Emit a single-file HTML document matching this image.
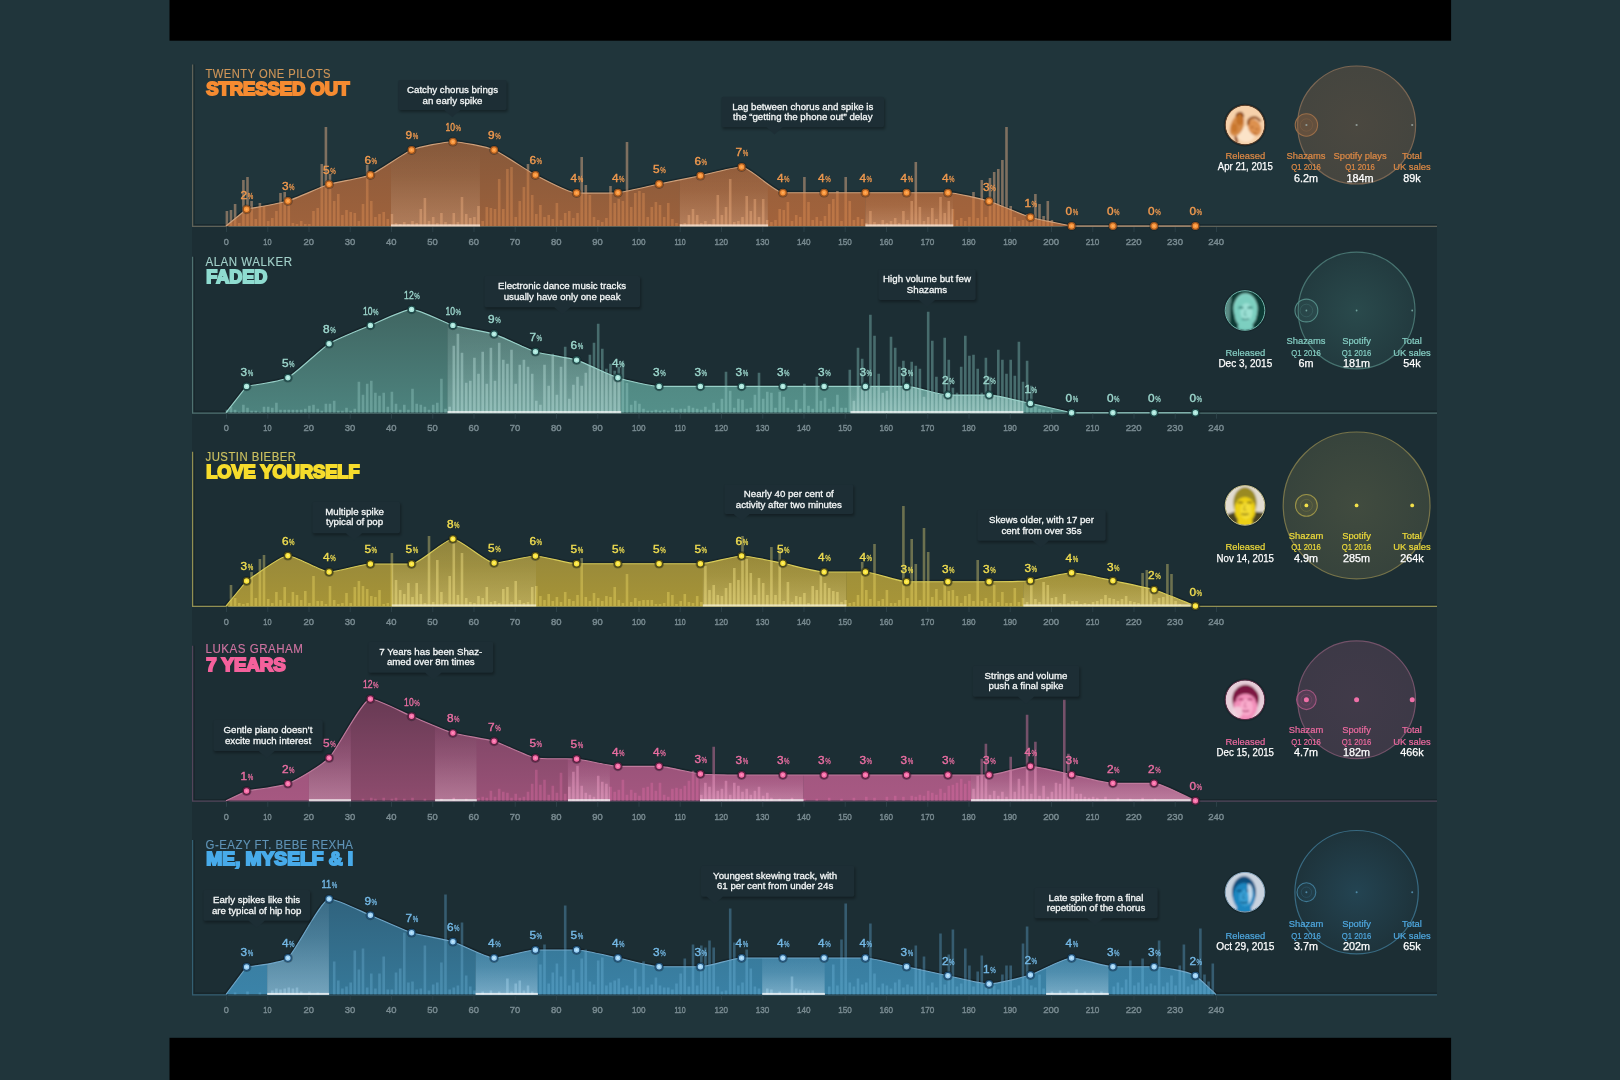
<!DOCTYPE html>
<html lang="en"><head><meta charset="utf-8"><title>Shazam: anatomy of a hit</title>
<style>
html,body{margin:0;padding:0;background:#20353b;}
body{width:1620px;height:1080px;overflow:hidden;font-family:"Liberation Sans",Arial,sans-serif;}
svg{display:block;}
</style></head><body>
<svg width="1620" height="1080" viewBox="0 0 1620 1080" opacity="0.999" font-family="'Liberation Sans', Arial, sans-serif">
<defs>
<linearGradient id="ag0" x1="0" y1="0" x2="0" y2="1"><stop offset="0" stop-color="rgb(127,85,58)"/><stop offset="1" stop-color="rgb(152,96,60)"/></linearGradient>
<linearGradient id="hg0" x1="0" y1="0" x2="0" y2="1"><stop offset="0" stop-color="rgb(255,228,205)" stop-opacity="0.0"/><stop offset="0.35" stop-color="rgb(255,228,205)" stop-opacity="0.05"/><stop offset="1" stop-color="rgb(255,228,205)" stop-opacity="0.21"/></linearGradient>
<radialGradient id="cg0"><stop offset="0" stop-color="rgb(150,105,72)" stop-opacity="0.36"/><stop offset="1" stop-color="rgb(150,105,72)" stop-opacity="0.31"/></radialGradient>
<linearGradient id="ag1" x1="0" y1="0" x2="0" y2="1"><stop offset="0" stop-color="rgb(64,102,98)"/><stop offset="1" stop-color="rgb(77,131,126)"/></linearGradient>
<linearGradient id="hg1" x1="0" y1="0" x2="0" y2="1"><stop offset="0" stop-color="rgb(235,255,250)" stop-opacity="0.1"/><stop offset="0.35" stop-color="rgb(235,255,250)" stop-opacity="0.14"/><stop offset="1" stop-color="rgb(235,255,250)" stop-opacity="0.24"/></linearGradient>
<radialGradient id="cg1"><stop offset="0" stop-color="rgb(70,130,125)" stop-opacity="0.33"/><stop offset="1" stop-color="rgb(70,130,125)" stop-opacity="0.15"/></radialGradient>
<linearGradient id="ag2" x1="0" y1="0" x2="0" y2="1"><stop offset="0" stop-color="rgb(128,119,62)"/><stop offset="1" stop-color="rgb(164,146,54)"/></linearGradient>
<linearGradient id="hg2" x1="0" y1="0" x2="0" y2="1"><stop offset="0" stop-color="rgb(255,250,215)" stop-opacity="0.0"/><stop offset="0.35" stop-color="rgb(255,250,215)" stop-opacity="0.05"/><stop offset="1" stop-color="rgb(255,250,215)" stop-opacity="0.2"/></linearGradient>
<radialGradient id="cg2"><stop offset="0" stop-color="rgb(140,135,85)" stop-opacity="0.33"/><stop offset="1" stop-color="rgb(140,135,85)" stop-opacity="0.24"/></radialGradient>
<linearGradient id="ag3" x1="0" y1="0" x2="0" y2="1"><stop offset="0" stop-color="rgb(104,58,84)"/><stop offset="1" stop-color="rgb(142,76,110)"/></linearGradient>
<linearGradient id="hg3" x1="0" y1="0" x2="0" y2="1"><stop offset="0" stop-color="rgb(255,225,240)" stop-opacity="0.0"/><stop offset="0.35" stop-color="rgb(255,225,240)" stop-opacity="0.08"/><stop offset="1" stop-color="rgb(255,225,240)" stop-opacity="0.27"/></linearGradient>
<radialGradient id="cg3"><stop offset="0" stop-color="rgb(130,80,110)" stop-opacity="0.36"/><stop offset="1" stop-color="rgb(130,80,110)" stop-opacity="0.32"/></radialGradient>
<linearGradient id="ag4" x1="0" y1="0" x2="0" y2="1"><stop offset="0" stop-color="rgb(48,98,125)"/><stop offset="1" stop-color="rgb(54,120,152)"/></linearGradient>
<linearGradient id="hg4" x1="0" y1="0" x2="0" y2="1"><stop offset="0" stop-color="rgb(225,240,252)" stop-opacity="0.05"/><stop offset="0.35" stop-color="rgb(225,240,252)" stop-opacity="0.13"/><stop offset="1" stop-color="rgb(225,240,252)" stop-opacity="0.36"/></linearGradient>
<radialGradient id="cg4"><stop offset="0" stop-color="rgb(50,110,140)" stop-opacity="0.34"/><stop offset="1" stop-color="rgb(50,110,140)" stop-opacity="0.08"/></radialGradient>
<filter id="bl" x="-20%" y="-20%" width="140%" height="140%"><feGaussianBlur stdDeviation="0.9"/></filter>
<filter id="sh" x="-10%" y="-20%" width="120%" height="150%"><feGaussianBlur stdDeviation="1.5"/></filter>
</defs>
<rect width="1620" height="1080" fill="#20353b"/>
<rect x="192" y="226" width="1245" height="769" fill="#1c2e34"/>
<rect x="169.5" y="0" width="1281.6" height="40.7" fill="#000"/>
<rect x="169.5" y="1037.8" width="1281.6" height="43" fill="#000"/>
<g id="row0">
<clipPath id="cp0"><path d="M226,226L246.6,209.3C254.2,207.8 280.3,203.3 287.9,201C295.4,198.7 321.6,186.7 329.1,184.3C336.7,181.9 362.8,178.1 370.4,175C377.9,171.9 404.1,153.1 411.6,150C419.2,146.9 445.3,141.7 452.9,141.7C460.4,141.7 486.6,146.9 494.1,150C501.7,153.1 527.8,171.1 535.4,175C542.9,178.9 569.1,193 576.6,193C584.2,193 610.3,193.5 617.9,192.7C625.4,191.9 651.6,185.6 659.1,184C666.7,182.4 692.8,177.3 700.4,175.7C707.9,174.1 734.1,167 741.6,167C749.2,167 775.3,192.7 782.9,192.7C790.4,192.7 816.6,192.7 824.1,192.7C831.7,192.7 857.8,192.7 865.4,192.7C872.9,192.7 899.1,192.7 906.6,192.7C914.2,192.7 940.3,192.7 947.9,192.7C955.4,192.7 981.6,199 989.1,201.3C996.7,203.6 1022.8,215 1030.4,217.3C1037.9,219.6 1064.1,224.4 1071.6,226L1071.6,226Z"/></clipPath>
<path d="M194,64.4V224.8H1437" stroke="#111d22" stroke-opacity="0.5" stroke-width="1.4" fill="none"/>
<path d="M192.6,64.4V226.3H1437" stroke="#5f6258" stroke-width="1.25" fill="none"/>
<path d="M226,226L246.6,209.3C254.2,207.8 280.3,203.3 287.9,201C295.4,198.7 321.6,186.7 329.1,184.3C336.7,181.9 362.8,178.1 370.4,175C377.9,171.9 404.1,153.1 411.6,150C419.2,146.9 445.3,141.7 452.9,141.7C460.4,141.7 486.6,146.9 494.1,150C501.7,153.1 527.8,171.1 535.4,175C542.9,178.9 569.1,193 576.6,193C584.2,193 610.3,193.5 617.9,192.7C625.4,191.9 651.6,185.6 659.1,184C666.7,182.4 692.8,177.3 700.4,175.7C707.9,174.1 734.1,167 741.6,167C749.2,167 775.3,192.7 782.9,192.7C790.4,192.7 816.6,192.7 824.1,192.7C831.7,192.7 857.8,192.7 865.4,192.7C872.9,192.7 899.1,192.7 906.6,192.7C914.2,192.7 940.3,192.7 947.9,192.7C955.4,192.7 981.6,199 989.1,201.3C996.7,203.6 1022.8,215 1030.4,217.3C1037.9,219.6 1064.1,224.4 1071.6,226" fill="none" stroke="#101c21" stroke-opacity="0.55" stroke-width="4" stroke-linejoin="round"/>
<path d="M226,226L246.6,209.3C254.2,207.8 280.3,203.3 287.9,201C295.4,198.7 321.6,186.7 329.1,184.3C336.7,181.9 362.8,178.1 370.4,175C377.9,171.9 404.1,153.1 411.6,150C419.2,146.9 445.3,141.7 452.9,141.7C460.4,141.7 486.6,146.9 494.1,150C501.7,153.1 527.8,171.1 535.4,175C542.9,178.9 569.1,193 576.6,193C584.2,193 610.3,193.5 617.9,192.7C625.4,191.9 651.6,185.6 659.1,184C666.7,182.4 692.8,177.3 700.4,175.7C707.9,174.1 734.1,167 741.6,167C749.2,167 775.3,192.7 782.9,192.7C790.4,192.7 816.6,192.7 824.1,192.7C831.7,192.7 857.8,192.7 865.4,192.7C872.9,192.7 899.1,192.7 906.6,192.7C914.2,192.7 940.3,192.7 947.9,192.7C955.4,192.7 981.6,199 989.1,201.3C996.7,203.6 1022.8,215 1030.4,217.3C1037.9,219.6 1064.1,224.4 1071.6,226L1071.6,226Z" fill="#20353b"/>
<linearGradient id="sg0_0" gradientUnits="userSpaceOnUse" x1="0" y1="162" x2="0" y2="226"><stop offset="0" stop-color="rgb(144,92,59)"/><stop offset="1" stop-color="rgb(158,98,60)"/></linearGradient>
<rect x="225.8" y="161" width="165.4" height="65" fill="url(#sg0_0)" clip-path="url(#cp0)"/>
<linearGradient id="sg0_1" gradientUnits="userSpaceOnUse" x1="0" y1="141.2" x2="0" y2="226"><stop offset="0" stop-color="rgb(133,88,58)"/><stop offset="1" stop-color="rgb(154,97,60)"/></linearGradient>
<rect x="390.8" y="140.2" width="89.5" height="85.8" fill="url(#sg0_1)" clip-path="url(#cp0)"/>
<linearGradient id="sh0_1" gradientUnits="userSpaceOnUse" x1="0" y1="141.2" x2="0" y2="226"><stop offset="0" stop-color="rgb(255,228,205)" stop-opacity="0.0"/><stop offset="0.4" stop-color="rgb(255,228,205)" stop-opacity="0.05"/><stop offset="1" stop-color="rgb(255,228,205)" stop-opacity="0.21"/></linearGradient>
<rect x="391" y="140.2" width="89.1" height="85.8" fill="url(#sh0_1)" clip-path="url(#cp0)"/>
<linearGradient id="sg0_2" gradientUnits="userSpaceOnUse" x1="0" y1="146.7" x2="0" y2="226"><stop offset="0" stop-color="rgb(136,89,58)"/><stop offset="1" stop-color="rgb(155,97,60)"/></linearGradient>
<rect x="479.9" y="145.7" width="200" height="80.3" fill="url(#sg0_2)" clip-path="url(#cp0)"/>
<linearGradient id="sg0_3" gradientUnits="userSpaceOnUse" x1="0" y1="166.5" x2="0" y2="226"><stop offset="0" stop-color="rgb(146,93,59)"/><stop offset="1" stop-color="rgb(159,98,60)"/></linearGradient>
<rect x="679.5" y="165.5" width="88.7" height="60.5" fill="url(#sg0_3)" clip-path="url(#cp0)"/>
<linearGradient id="sh0_3" gradientUnits="userSpaceOnUse" x1="0" y1="166.5" x2="0" y2="226"><stop offset="0" stop-color="rgb(255,228,205)" stop-opacity="0.0"/><stop offset="0.4" stop-color="rgb(255,228,205)" stop-opacity="0.05"/><stop offset="1" stop-color="rgb(255,228,205)" stop-opacity="0.21"/></linearGradient>
<rect x="679.8" y="165.5" width="88.3" height="60.5" fill="url(#sh0_3)" clip-path="url(#cp0)"/>
<linearGradient id="sg0_4" gradientUnits="userSpaceOnUse" x1="0" y1="182.9" x2="0" y2="226"><stop offset="0" stop-color="rgb(154,96,59)"/><stop offset="1" stop-color="rgb(162,99,60)"/></linearGradient>
<rect x="767.8" y="181.9" width="97.8" height="44.1" fill="url(#sg0_4)" clip-path="url(#cp0)"/>
<linearGradient id="sg0_5" gradientUnits="userSpaceOnUse" x1="0" y1="192.2" x2="0" y2="226"><stop offset="0" stop-color="rgb(158,98,60)"/><stop offset="1" stop-color="rgb(163,100,60)"/></linearGradient>
<rect x="865.2" y="191.2" width="88.3" height="34.8" fill="url(#sg0_5)" clip-path="url(#cp0)"/>
<linearGradient id="sh0_5" gradientUnits="userSpaceOnUse" x1="0" y1="192.2" x2="0" y2="226"><stop offset="0" stop-color="rgb(255,228,205)" stop-opacity="0.0"/><stop offset="0.4" stop-color="rgb(255,228,205)" stop-opacity="0.05"/><stop offset="1" stop-color="rgb(255,228,205)" stop-opacity="0.21"/></linearGradient>
<rect x="865.4" y="191.2" width="87.9" height="34.8" fill="url(#sh0_5)" clip-path="url(#cp0)"/>
<linearGradient id="sg0_6" gradientUnits="userSpaceOnUse" x1="0" y1="193.3" x2="0" y2="226"><stop offset="0" stop-color="rgb(159,98,60)"/><stop offset="1" stop-color="rgb(163,100,60)"/></linearGradient>
<rect x="953" y="192.3" width="118.8" height="33.7" fill="url(#sg0_6)" clip-path="url(#cp0)"/>
<clipPath id="co0"><path clip-rule="evenodd" d="M0,66H1620V228H0ZM226,226L246.6,209.3C254.2,207.8 280.3,203.3 287.9,201C295.4,198.7 321.6,186.7 329.1,184.3C336.7,181.9 362.8,178.1 370.4,175C377.9,171.9 404.1,153.1 411.6,150C419.2,146.9 445.3,141.7 452.9,141.7C460.4,141.7 486.6,146.9 494.1,150C501.7,153.1 527.8,171.1 535.4,175C542.9,178.9 569.1,193 576.6,193C584.2,193 610.3,193.5 617.9,192.7C625.4,191.9 651.6,185.6 659.1,184C666.7,182.4 692.8,177.3 700.4,175.7C707.9,174.1 734.1,167 741.6,167C749.2,167 775.3,192.7 782.9,192.7C790.4,192.7 816.6,192.7 824.1,192.7C831.7,192.7 857.8,192.7 865.4,192.7C872.9,192.7 899.1,192.7 906.6,192.7C914.2,192.7 940.3,192.7 947.9,192.7C955.4,192.7 981.6,199 989.1,201.3C996.7,203.6 1022.8,215 1030.4,217.3C1037.9,219.6 1064.1,224.4 1071.6,226L1071.6,226Z"/></clipPath>
<path d="M225.6,226v-15h2.6v15zM229.7,226v-16h2.6v16zM233.8,226v-22h2.6v22zM238,226v-3h2.6v3zM242.1,226v-46h2.6v46zM246.2,226v-49h2.6v49zM250.3,226v-25h2.6v25zM254.5,226v-7h2.6v7zM258.6,226v-23h2.6v23zM262.7,226v-20h2.6v20zM266.9,226v-5h2.6v5zM271,226v-8h2.6v8zM275.1,226v-15h2.6v15zM279.2,226v-33h2.6v33zM283.4,226v-34h2.6v34zM287.5,226v-25h2.6v25zM291.6,226v-3h2.6v3zM295.7,226v-2h2.6v2zM299.9,226v-5h2.6v5zM304,226v-2h2.6v2zM308.1,226v-2h2.6v2zM312.2,226v-15h2.6v15zM316.4,226v-18h2.6v18zM320.5,226v-62h2.6v62zM324.6,226v-99h2.6v99zM328.7,226v-52h2.6v52zM332.9,226v-25h2.6v25zM337,226v-32h2.6v32zM341.1,226v-11h2.6v11zM345.2,226v-16h2.6v16zM349.4,226v-14h2.6v14zM353.5,226v-13h2.6v13zM357.6,226v-5h2.6v5zM361.7,226v-22h2.6v22zM365.9,226v-61h2.6v61zM370,226v-25h2.6v25zM374.1,226v-9h2.6v9zM378.2,226v-12h2.6v12zM382.4,226v-14h2.6v14zM386.5,226v-7h2.6v7zM390.6,226v-12h2.6v12zM394.7,226v-3h2.6v3zM398.9,226v-2h2.6v2zM403,226v-4h2.6v4zM407.1,226v-2h2.6v2zM411.2,226v-5h2.6v5zM415.4,226v-3h2.6v3zM419.5,226v-17h2.6v17zM423.6,226v-28h2.6v28zM427.7,226v-5h2.6v5zM431.9,226v-9h2.6v9zM436,226v-3h2.6v3zM440.1,226v-13h2.6v13zM444.2,226v-4h2.6v4zM448.4,226v-2h2.6v2zM452.5,226v-13h2.6v13zM456.6,226v-4h2.6v4zM460.7,226v-29h2.6v29zM464.9,226v-12h2.6v12zM469,226v-8h2.6v8zM473.1,226v-9h2.6v9zM477.2,226v-20h2.6v20zM481.4,226v-5h2.6v5zM485.5,226v-19h2.6v19zM489.6,226v-18h2.6v18zM493.7,226v-17h2.6v17zM497.9,226v-47h2.6v47zM502,226v-17h2.6v17zM506.1,226v-57h2.6v57zM510.2,226v-59h2.6v59zM514.4,226v-9h2.6v9zM518.5,226v-25h2.6v25zM522.6,226v-39h2.6v39zM526.7,226v-62h2.6v62zM530.9,226v-31h2.6v31zM535,226v-12h2.6v12zM539.1,226v-21h2.6v21zM543.2,226v-9h2.6v9zM547.4,226v-11h2.6v11zM551.5,226v-7h2.6v7zM555.6,226v-23h2.6v23zM559.7,226v-6h2.6v6zM563.9,226v-13h2.6v13zM568,226v-15h2.6v15zM572.1,226v-8h2.6v8zM576.2,226v-13h2.6v13zM580.4,226v-69h2.6v69zM584.5,226v-41h2.6v41zM588.6,226v-31h2.6v31zM592.7,226v-9h2.6v9zM596.9,226v-6h2.6v6zM601,226v-4h2.6v4zM605.1,226v-8h2.6v8zM609.2,226v-40h2.6v40zM613.4,226v-23h2.6v23zM617.5,226v-27h2.6v27zM621.6,226v-25h2.6v25zM625.7,226v-84h2.6v84zM629.9,226v-19h2.6v19zM634,226v-33h2.6v33zM638.1,226v-35h2.6v35zM642.2,226v-33h2.6v33zM646.4,226v-9h2.6v9zM650.5,226v-19h2.6v19zM654.6,226v-24h2.6v24zM658.7,226v-21h2.6v21zM662.9,226v-9h2.6v9zM667,226v-23h2.6v23zM671.1,226v-7h2.6v7zM675.2,226v-3h2.6v3zM679.4,226v-2h2.6v2zM683.5,226v-3h2.6v3zM687.6,226v-11h2.6v11zM691.7,226v-17h2.6v17zM695.9,226v-11h2.6v11zM700,226v-3h2.6v3zM704.1,226v-5h2.6v5zM708.2,226v-2h2.6v2zM712.4,226v-7h2.6v7zM716.5,226v-31h2.6v31zM720.6,226v-11h2.6v11zM724.7,226v-19h2.6v19zM728.9,226v-47h2.6v47zM733,226v-4h2.6v4zM737.1,226v-5h2.6v5zM741.2,226v-9h2.6v9zM745.4,226v-30h2.6v30zM749.5,226v-15h2.6v15zM753.6,226v-27h2.6v27zM757.7,226v-9h2.6v9zM761.9,226v-27h2.6v27zM766,226v-6h2.6v6zM770.1,226v-4h2.6v4zM774.2,226v-6h2.6v6zM778.4,226v-17h2.6v17zM782.5,226v-16h2.6v16zM786.6,226v-24h2.6v24zM790.7,226v-5h2.6v5zM794.9,226v-11h2.6v11zM799,226v-9h2.6v9zM803.1,226v-49h2.6v49zM807.2,226v-24h2.6v24zM811.4,226v-6h2.6v6zM815.5,226v-9h2.6v9zM819.6,226v-5h2.6v5zM823.7,226v-10h2.6v10zM827.9,226v-22h2.6v22zM832,226v-27h2.6v27zM836.1,226v-35h2.6v35zM840.2,226v-5h2.6v5zM844.4,226v-49h2.6v49zM848.5,226v-25h2.6v25zM852.6,226v-6h2.6v6zM856.7,226v-9h2.6v9zM860.9,226v-7h2.6v7zM865,226v-3h2.6v3zM869.1,226v-15h2.6v15zM873.2,226v-4h2.6v4zM877.4,226v-2h2.6v2zM881.5,226v-6h2.6v6zM885.6,226v-3h2.6v3zM889.7,226v-5h2.6v5zM893.9,226v-8h2.6v8zM898,226v-3h2.6v3zM902.1,226v-15h2.6v15zM906.2,226v-6h2.6v6zM910.4,226v-25h2.6v25zM914.5,226v-64h2.6v64zM918.6,226v-19h2.6v19zM922.7,226v-5h2.6v5zM926.9,226v-9h2.6v9zM931,226v-18h2.6v18zM935.1,226v-7h2.6v7zM939.2,226v-29h2.6v29zM943.4,226v-13h2.6v13zM947.5,226v-25h2.6v25zM951.6,226v-17h2.6v17zM955.7,226v-6h2.6v6zM959.9,226v-8h2.6v8zM964,226v-5h2.6v5zM968.1,226v-9h2.6v9zM972.2,226v-34h2.6v34zM976.4,226v-8h2.6v8zM980.5,226v-46h2.6v46zM984.6,226v-9h2.6v9zM988.7,226v-48h2.6v48zM992.9,226v-54h2.6v54zM997,226v-57h2.6v57zM1001.1,226v-66h2.6v66zM1005.2,226v-99h2.6v99zM1009.4,226v-20h2.6v20zM1013.5,226v-9h2.6v9zM1017.6,226v-5h2.6v5zM1021.7,226v-6h2.6v6zM1025.8,226v-12h2.6v12zM1030,226v-8h2.6v8zM1034.1,226v-32h2.6v32zM1038.2,226v-22h2.6v22zM1042.3,226v-10h2.6v10zM1046.5,226v-25h2.6v25zM1050.6,226v-6h2.6v6z" fill="rgb(232,178,138)" fill-opacity="0.48" clip-path="url(#co0)"/>
<path d="M225.6,226v-15h2.6v15zM229.7,226v-16h2.6v16zM233.8,226v-22h2.6v22zM238,226v-3h2.6v3zM242.1,226v-46h2.6v46zM246.2,226v-49h2.6v49zM250.3,226v-25h2.6v25zM254.5,226v-7h2.6v7zM258.6,226v-23h2.6v23zM262.7,226v-20h2.6v20zM266.9,226v-5h2.6v5zM271,226v-8h2.6v8zM275.1,226v-15h2.6v15zM279.2,226v-33h2.6v33zM283.4,226v-34h2.6v34zM287.5,226v-25h2.6v25zM291.6,226v-3h2.6v3zM295.7,226v-2h2.6v2zM299.9,226v-5h2.6v5zM304,226v-2h2.6v2zM308.1,226v-2h2.6v2zM312.2,226v-15h2.6v15zM316.4,226v-18h2.6v18zM320.5,226v-62h2.6v62zM324.6,226v-99h2.6v99zM328.7,226v-52h2.6v52zM332.9,226v-25h2.6v25zM337,226v-32h2.6v32zM341.1,226v-11h2.6v11zM345.2,226v-16h2.6v16zM349.4,226v-14h2.6v14zM353.5,226v-13h2.6v13zM357.6,226v-5h2.6v5zM361.7,226v-22h2.6v22zM365.9,226v-61h2.6v61zM370,226v-25h2.6v25zM374.1,226v-9h2.6v9zM378.2,226v-12h2.6v12zM382.4,226v-14h2.6v14zM386.5,226v-7h2.6v7zM390.6,226v-12h2.6v12zM394.7,226v-3h2.6v3zM398.9,226v-2h2.6v2zM403,226v-4h2.6v4zM407.1,226v-2h2.6v2zM411.2,226v-5h2.6v5zM415.4,226v-3h2.6v3zM419.5,226v-17h2.6v17zM423.6,226v-28h2.6v28zM427.7,226v-5h2.6v5zM431.9,226v-9h2.6v9zM436,226v-3h2.6v3zM440.1,226v-13h2.6v13zM444.2,226v-4h2.6v4zM448.4,226v-2h2.6v2zM452.5,226v-13h2.6v13zM456.6,226v-4h2.6v4zM460.7,226v-29h2.6v29zM464.9,226v-12h2.6v12zM469,226v-8h2.6v8zM473.1,226v-9h2.6v9zM477.2,226v-20h2.6v20zM481.4,226v-5h2.6v5zM485.5,226v-19h2.6v19zM489.6,226v-18h2.6v18zM493.7,226v-17h2.6v17zM497.9,226v-47h2.6v47zM502,226v-17h2.6v17zM506.1,226v-57h2.6v57zM510.2,226v-59h2.6v59zM514.4,226v-9h2.6v9zM518.5,226v-25h2.6v25zM522.6,226v-39h2.6v39zM526.7,226v-62h2.6v62zM530.9,226v-31h2.6v31zM535,226v-12h2.6v12zM539.1,226v-21h2.6v21zM543.2,226v-9h2.6v9zM547.4,226v-11h2.6v11zM551.5,226v-7h2.6v7zM555.6,226v-23h2.6v23zM559.7,226v-6h2.6v6zM563.9,226v-13h2.6v13zM568,226v-15h2.6v15zM572.1,226v-8h2.6v8zM576.2,226v-13h2.6v13zM580.4,226v-69h2.6v69zM584.5,226v-41h2.6v41zM588.6,226v-31h2.6v31zM592.7,226v-9h2.6v9zM596.9,226v-6h2.6v6zM601,226v-4h2.6v4zM605.1,226v-8h2.6v8zM609.2,226v-40h2.6v40zM613.4,226v-23h2.6v23zM617.5,226v-27h2.6v27zM621.6,226v-25h2.6v25zM625.7,226v-84h2.6v84zM629.9,226v-19h2.6v19zM634,226v-33h2.6v33zM638.1,226v-35h2.6v35zM642.2,226v-33h2.6v33zM646.4,226v-9h2.6v9zM650.5,226v-19h2.6v19zM654.6,226v-24h2.6v24zM658.7,226v-21h2.6v21zM662.9,226v-9h2.6v9zM667,226v-23h2.6v23zM671.1,226v-7h2.6v7zM675.2,226v-3h2.6v3zM679.4,226v-2h2.6v2zM683.5,226v-3h2.6v3zM687.6,226v-11h2.6v11zM691.7,226v-17h2.6v17zM695.9,226v-11h2.6v11zM700,226v-3h2.6v3zM704.1,226v-5h2.6v5zM708.2,226v-2h2.6v2zM712.4,226v-7h2.6v7zM716.5,226v-31h2.6v31zM720.6,226v-11h2.6v11zM724.7,226v-19h2.6v19zM728.9,226v-47h2.6v47zM733,226v-4h2.6v4zM737.1,226v-5h2.6v5zM741.2,226v-9h2.6v9zM745.4,226v-30h2.6v30zM749.5,226v-15h2.6v15zM753.6,226v-27h2.6v27zM757.7,226v-9h2.6v9zM761.9,226v-27h2.6v27zM766,226v-6h2.6v6zM770.1,226v-4h2.6v4zM774.2,226v-6h2.6v6zM778.4,226v-17h2.6v17zM782.5,226v-16h2.6v16zM786.6,226v-24h2.6v24zM790.7,226v-5h2.6v5zM794.9,226v-11h2.6v11zM799,226v-9h2.6v9zM803.1,226v-49h2.6v49zM807.2,226v-24h2.6v24zM811.4,226v-6h2.6v6zM815.5,226v-9h2.6v9zM819.6,226v-5h2.6v5zM823.7,226v-10h2.6v10zM827.9,226v-22h2.6v22zM832,226v-27h2.6v27zM836.1,226v-35h2.6v35zM840.2,226v-5h2.6v5zM844.4,226v-49h2.6v49zM848.5,226v-25h2.6v25zM852.6,226v-6h2.6v6zM856.7,226v-9h2.6v9zM860.9,226v-7h2.6v7zM865,226v-3h2.6v3zM869.1,226v-15h2.6v15zM873.2,226v-4h2.6v4zM877.4,226v-2h2.6v2zM881.5,226v-6h2.6v6zM885.6,226v-3h2.6v3zM889.7,226v-5h2.6v5zM893.9,226v-8h2.6v8zM898,226v-3h2.6v3zM902.1,226v-15h2.6v15zM906.2,226v-6h2.6v6zM910.4,226v-25h2.6v25zM914.5,226v-64h2.6v64zM918.6,226v-19h2.6v19zM922.7,226v-5h2.6v5zM926.9,226v-9h2.6v9zM931,226v-18h2.6v18zM935.1,226v-7h2.6v7zM939.2,226v-29h2.6v29zM943.4,226v-13h2.6v13zM947.5,226v-25h2.6v25zM951.6,226v-17h2.6v17zM955.7,226v-6h2.6v6zM959.9,226v-8h2.6v8zM964,226v-5h2.6v5zM968.1,226v-9h2.6v9zM972.2,226v-34h2.6v34zM976.4,226v-8h2.6v8zM980.5,226v-46h2.6v46zM984.6,226v-9h2.6v9zM988.7,226v-48h2.6v48zM992.9,226v-54h2.6v54zM997,226v-57h2.6v57zM1001.1,226v-66h2.6v66zM1005.2,226v-99h2.6v99zM1009.4,226v-20h2.6v20zM1013.5,226v-9h2.6v9zM1017.6,226v-5h2.6v5zM1021.7,226v-6h2.6v6zM1025.8,226v-12h2.6v12zM1030,226v-8h2.6v8zM1034.1,226v-32h2.6v32zM1038.2,226v-22h2.6v22zM1042.3,226v-10h2.6v10zM1046.5,226v-25h2.6v25zM1050.6,226v-6h2.6v6z" fill="rgb(255,165,95)" fill-opacity="0.29" clip-path="url(#cp0)"/>
<clipPath id="hc0"><path d="M391,96H480.1V226H391ZM679.8,96H768V226H679.8ZM865.4,96H953.2V226H865.4Z"/></clipPath>
<g clip-path="url(#cp0)"><path d="M225.6,226v-15h2.6v15zM229.7,226v-16h2.6v16zM233.8,226v-22h2.6v22zM238,226v-3h2.6v3zM242.1,226v-46h2.6v46zM246.2,226v-49h2.6v49zM250.3,226v-25h2.6v25zM254.5,226v-7h2.6v7zM258.6,226v-23h2.6v23zM262.7,226v-20h2.6v20zM266.9,226v-5h2.6v5zM271,226v-8h2.6v8zM275.1,226v-15h2.6v15zM279.2,226v-33h2.6v33zM283.4,226v-34h2.6v34zM287.5,226v-25h2.6v25zM291.6,226v-3h2.6v3zM295.7,226v-2h2.6v2zM299.9,226v-5h2.6v5zM304,226v-2h2.6v2zM308.1,226v-2h2.6v2zM312.2,226v-15h2.6v15zM316.4,226v-18h2.6v18zM320.5,226v-62h2.6v62zM324.6,226v-99h2.6v99zM328.7,226v-52h2.6v52zM332.9,226v-25h2.6v25zM337,226v-32h2.6v32zM341.1,226v-11h2.6v11zM345.2,226v-16h2.6v16zM349.4,226v-14h2.6v14zM353.5,226v-13h2.6v13zM357.6,226v-5h2.6v5zM361.7,226v-22h2.6v22zM365.9,226v-61h2.6v61zM370,226v-25h2.6v25zM374.1,226v-9h2.6v9zM378.2,226v-12h2.6v12zM382.4,226v-14h2.6v14zM386.5,226v-7h2.6v7zM390.6,226v-12h2.6v12zM394.7,226v-3h2.6v3zM398.9,226v-2h2.6v2zM403,226v-4h2.6v4zM407.1,226v-2h2.6v2zM411.2,226v-5h2.6v5zM415.4,226v-3h2.6v3zM419.5,226v-17h2.6v17zM423.6,226v-28h2.6v28zM427.7,226v-5h2.6v5zM431.9,226v-9h2.6v9zM436,226v-3h2.6v3zM440.1,226v-13h2.6v13zM444.2,226v-4h2.6v4zM448.4,226v-2h2.6v2zM452.5,226v-13h2.6v13zM456.6,226v-4h2.6v4zM460.7,226v-29h2.6v29zM464.9,226v-12h2.6v12zM469,226v-8h2.6v8zM473.1,226v-9h2.6v9zM477.2,226v-20h2.6v20zM481.4,226v-5h2.6v5zM485.5,226v-19h2.6v19zM489.6,226v-18h2.6v18zM493.7,226v-17h2.6v17zM497.9,226v-47h2.6v47zM502,226v-17h2.6v17zM506.1,226v-57h2.6v57zM510.2,226v-59h2.6v59zM514.4,226v-9h2.6v9zM518.5,226v-25h2.6v25zM522.6,226v-39h2.6v39zM526.7,226v-62h2.6v62zM530.9,226v-31h2.6v31zM535,226v-12h2.6v12zM539.1,226v-21h2.6v21zM543.2,226v-9h2.6v9zM547.4,226v-11h2.6v11zM551.5,226v-7h2.6v7zM555.6,226v-23h2.6v23zM559.7,226v-6h2.6v6zM563.9,226v-13h2.6v13zM568,226v-15h2.6v15zM572.1,226v-8h2.6v8zM576.2,226v-13h2.6v13zM580.4,226v-69h2.6v69zM584.5,226v-41h2.6v41zM588.6,226v-31h2.6v31zM592.7,226v-9h2.6v9zM596.9,226v-6h2.6v6zM601,226v-4h2.6v4zM605.1,226v-8h2.6v8zM609.2,226v-40h2.6v40zM613.4,226v-23h2.6v23zM617.5,226v-27h2.6v27zM621.6,226v-25h2.6v25zM625.7,226v-84h2.6v84zM629.9,226v-19h2.6v19zM634,226v-33h2.6v33zM638.1,226v-35h2.6v35zM642.2,226v-33h2.6v33zM646.4,226v-9h2.6v9zM650.5,226v-19h2.6v19zM654.6,226v-24h2.6v24zM658.7,226v-21h2.6v21zM662.9,226v-9h2.6v9zM667,226v-23h2.6v23zM671.1,226v-7h2.6v7zM675.2,226v-3h2.6v3zM679.4,226v-2h2.6v2zM683.5,226v-3h2.6v3zM687.6,226v-11h2.6v11zM691.7,226v-17h2.6v17zM695.9,226v-11h2.6v11zM700,226v-3h2.6v3zM704.1,226v-5h2.6v5zM708.2,226v-2h2.6v2zM712.4,226v-7h2.6v7zM716.5,226v-31h2.6v31zM720.6,226v-11h2.6v11zM724.7,226v-19h2.6v19zM728.9,226v-47h2.6v47zM733,226v-4h2.6v4zM737.1,226v-5h2.6v5zM741.2,226v-9h2.6v9zM745.4,226v-30h2.6v30zM749.5,226v-15h2.6v15zM753.6,226v-27h2.6v27zM757.7,226v-9h2.6v9zM761.9,226v-27h2.6v27zM766,226v-6h2.6v6zM770.1,226v-4h2.6v4zM774.2,226v-6h2.6v6zM778.4,226v-17h2.6v17zM782.5,226v-16h2.6v16zM786.6,226v-24h2.6v24zM790.7,226v-5h2.6v5zM794.9,226v-11h2.6v11zM799,226v-9h2.6v9zM803.1,226v-49h2.6v49zM807.2,226v-24h2.6v24zM811.4,226v-6h2.6v6zM815.5,226v-9h2.6v9zM819.6,226v-5h2.6v5zM823.7,226v-10h2.6v10zM827.9,226v-22h2.6v22zM832,226v-27h2.6v27zM836.1,226v-35h2.6v35zM840.2,226v-5h2.6v5zM844.4,226v-49h2.6v49zM848.5,226v-25h2.6v25zM852.6,226v-6h2.6v6zM856.7,226v-9h2.6v9zM860.9,226v-7h2.6v7zM865,226v-3h2.6v3zM869.1,226v-15h2.6v15zM873.2,226v-4h2.6v4zM877.4,226v-2h2.6v2zM881.5,226v-6h2.6v6zM885.6,226v-3h2.6v3zM889.7,226v-5h2.6v5zM893.9,226v-8h2.6v8zM898,226v-3h2.6v3zM902.1,226v-15h2.6v15zM906.2,226v-6h2.6v6zM910.4,226v-25h2.6v25zM914.5,226v-64h2.6v64zM918.6,226v-19h2.6v19zM922.7,226v-5h2.6v5zM926.9,226v-9h2.6v9zM931,226v-18h2.6v18zM935.1,226v-7h2.6v7zM939.2,226v-29h2.6v29zM943.4,226v-13h2.6v13zM947.5,226v-25h2.6v25zM951.6,226v-17h2.6v17zM955.7,226v-6h2.6v6zM959.9,226v-8h2.6v8zM964,226v-5h2.6v5zM968.1,226v-9h2.6v9zM972.2,226v-34h2.6v34zM976.4,226v-8h2.6v8zM980.5,226v-46h2.6v46zM984.6,226v-9h2.6v9zM988.7,226v-48h2.6v48zM992.9,226v-54h2.6v54zM997,226v-57h2.6v57zM1001.1,226v-66h2.6v66zM1005.2,226v-99h2.6v99zM1009.4,226v-20h2.6v20zM1013.5,226v-9h2.6v9zM1017.6,226v-5h2.6v5zM1021.7,226v-6h2.6v6zM1025.8,226v-12h2.6v12zM1030,226v-8h2.6v8zM1034.1,226v-32h2.6v32zM1038.2,226v-22h2.6v22zM1042.3,226v-10h2.6v10zM1046.5,226v-25h2.6v25zM1050.6,226v-6h2.6v6z" fill="#fff" fill-opacity="0.09" clip-path="url(#hc0)"/></g>
<rect x="391" y="224.4" width="89.1" height="2.1" fill="#fbe9dc" fill-opacity="0.74"/>
<rect x="679.8" y="224.4" width="88.3" height="2.1" fill="#fbe9dc" fill-opacity="0.74"/>
<rect x="865.4" y="224.4" width="87.9" height="2.1" fill="#fbe9dc" fill-opacity="0.74"/>
<path d="M226,226L246.6,209.3C254.2,207.8 280.3,203.3 287.9,201C295.4,198.7 321.6,186.7 329.1,184.3C336.7,181.9 362.8,178.1 370.4,175C377.9,171.9 404.1,153.1 411.6,150C419.2,146.9 445.3,141.7 452.9,141.7C460.4,141.7 486.6,146.9 494.1,150C501.7,153.1 527.8,171.1 535.4,175C542.9,178.9 569.1,193 576.6,193C584.2,193 610.3,193.5 617.9,192.7C625.4,191.9 651.6,185.6 659.1,184C666.7,182.4 692.8,177.3 700.4,175.7C707.9,174.1 734.1,167 741.6,167C749.2,167 775.3,192.7 782.9,192.7C790.4,192.7 816.6,192.7 824.1,192.7C831.7,192.7 857.8,192.7 865.4,192.7C872.9,192.7 899.1,192.7 906.6,192.7C914.2,192.7 940.3,192.7 947.9,192.7C955.4,192.7 981.6,199 989.1,201.3C996.7,203.6 1022.8,215 1030.4,217.3C1037.9,219.6 1064.1,224.4 1071.6,226H1195.4" fill="none" stroke="#cfa07a" stroke-width="1.15" stroke-linejoin="round"/>
<path d="M226.5,227v5M267.8,227v5M309,227v5M350.2,227v5M391.5,227v5M432.8,227v5M474,227v5M515.2,227v5M556.5,227v5M597.8,227v5M639,227v5M680.2,227v5M721.5,227v5M762.8,227v5M804,227v5M845.2,227v5M886.5,227v5M927.8,227v5M969,227v5M1010.2,227v5M1051.5,227v5M1092.8,227v5M1134,227v5M1175.2,227v5M1216.5,227v5" stroke="#2b3f46" stroke-width="1" fill="none"/>
<g font-size="9.9" fill="#788a90" stroke="#788a90" stroke-width="0.45" text-anchor="middle">
<text x="226.2" y="244.7" textLength="5.1" lengthAdjust="spacingAndGlyphs">0</text>
<text x="267.4" y="244.7" textLength="8.2" lengthAdjust="spacingAndGlyphs">10</text>
<text x="308.7" y="244.7" textLength="10.5" lengthAdjust="spacingAndGlyphs">20</text>
<text x="349.9" y="244.7" textLength="10.5" lengthAdjust="spacingAndGlyphs">30</text>
<text x="391.2" y="244.7" textLength="10.5" lengthAdjust="spacingAndGlyphs">40</text>
<text x="432.4" y="244.7" textLength="10.5" lengthAdjust="spacingAndGlyphs">50</text>
<text x="473.7" y="244.7" textLength="10.5" lengthAdjust="spacingAndGlyphs">60</text>
<text x="515" y="244.7" textLength="10.5" lengthAdjust="spacingAndGlyphs">70</text>
<text x="556.2" y="244.7" textLength="10.5" lengthAdjust="spacingAndGlyphs">80</text>
<text x="597.5" y="244.7" textLength="10.5" lengthAdjust="spacingAndGlyphs">90</text>
<text x="638.7" y="244.7" textLength="13.6" lengthAdjust="spacingAndGlyphs">100</text>
<text x="680" y="244.7" textLength="11.2" lengthAdjust="spacingAndGlyphs">110</text>
<text x="721.2" y="244.7" textLength="13.6" lengthAdjust="spacingAndGlyphs">120</text>
<text x="762.5" y="244.7" textLength="13.6" lengthAdjust="spacingAndGlyphs">130</text>
<text x="803.7" y="244.7" textLength="13.6" lengthAdjust="spacingAndGlyphs">140</text>
<text x="845" y="244.7" textLength="13.6" lengthAdjust="spacingAndGlyphs">150</text>
<text x="886.2" y="244.7" textLength="13.6" lengthAdjust="spacingAndGlyphs">160</text>
<text x="927.5" y="244.7" textLength="13.6" lengthAdjust="spacingAndGlyphs">170</text>
<text x="968.7" y="244.7" textLength="13.6" lengthAdjust="spacingAndGlyphs">180</text>
<text x="1010" y="244.7" textLength="13.6" lengthAdjust="spacingAndGlyphs">190</text>
<text x="1051.2" y="244.7" textLength="16" lengthAdjust="spacingAndGlyphs">200</text>
<text x="1092.5" y="244.7" textLength="13.6" lengthAdjust="spacingAndGlyphs">210</text>
<text x="1133.7" y="244.7" textLength="16" lengthAdjust="spacingAndGlyphs">220</text>
<text x="1175" y="244.7" textLength="16" lengthAdjust="spacingAndGlyphs">230</text>
<text x="1216.2" y="244.7" textLength="16" lengthAdjust="spacingAndGlyphs">240</text>
</g>
<g>
<circle cx="246.6" cy="209.3" r="4.9" fill="#0f1b20" fill-opacity="0.35"/>
<circle cx="246.6" cy="209.3" r="3.35" fill="#f9953b" stroke="#9c531d" stroke-width="1.3"/>
<circle cx="246.6" cy="209.3" r="1.1" fill="#ffc27a" fill-opacity="0.6"/>
<circle cx="287.9" cy="201" r="4.9" fill="#0f1b20" fill-opacity="0.35"/>
<circle cx="287.9" cy="201" r="3.35" fill="#f9953b" stroke="#9c531d" stroke-width="1.3"/>
<circle cx="287.9" cy="201" r="1.1" fill="#ffc27a" fill-opacity="0.6"/>
<circle cx="329.1" cy="184.3" r="4.9" fill="#0f1b20" fill-opacity="0.35"/>
<circle cx="329.1" cy="184.3" r="3.35" fill="#f9953b" stroke="#9c531d" stroke-width="1.3"/>
<circle cx="329.1" cy="184.3" r="1.1" fill="#ffc27a" fill-opacity="0.6"/>
<circle cx="370.4" cy="175" r="4.9" fill="#0f1b20" fill-opacity="0.35"/>
<circle cx="370.4" cy="175" r="3.35" fill="#f9953b" stroke="#9c531d" stroke-width="1.3"/>
<circle cx="370.4" cy="175" r="1.1" fill="#ffc27a" fill-opacity="0.6"/>
<circle cx="411.6" cy="150" r="4.9" fill="#0f1b20" fill-opacity="0.35"/>
<circle cx="411.6" cy="150" r="3.35" fill="#f9953b" stroke="#9c531d" stroke-width="1.3"/>
<circle cx="411.6" cy="150" r="1.1" fill="#ffc27a" fill-opacity="0.6"/>
<circle cx="452.9" cy="141.7" r="4.9" fill="#0f1b20" fill-opacity="0.35"/>
<circle cx="452.9" cy="141.7" r="3.35" fill="#f9953b" stroke="#9c531d" stroke-width="1.3"/>
<circle cx="452.9" cy="141.7" r="1.1" fill="#ffc27a" fill-opacity="0.6"/>
<circle cx="494.1" cy="150" r="4.9" fill="#0f1b20" fill-opacity="0.35"/>
<circle cx="494.1" cy="150" r="3.35" fill="#f9953b" stroke="#9c531d" stroke-width="1.3"/>
<circle cx="494.1" cy="150" r="1.1" fill="#ffc27a" fill-opacity="0.6"/>
<circle cx="535.4" cy="175" r="4.9" fill="#0f1b20" fill-opacity="0.35"/>
<circle cx="535.4" cy="175" r="3.35" fill="#f9953b" stroke="#9c531d" stroke-width="1.3"/>
<circle cx="535.4" cy="175" r="1.1" fill="#ffc27a" fill-opacity="0.6"/>
<circle cx="576.6" cy="193" r="4.9" fill="#0f1b20" fill-opacity="0.35"/>
<circle cx="576.6" cy="193" r="3.35" fill="#f9953b" stroke="#9c531d" stroke-width="1.3"/>
<circle cx="576.6" cy="193" r="1.1" fill="#ffc27a" fill-opacity="0.6"/>
<circle cx="617.9" cy="192.7" r="4.9" fill="#0f1b20" fill-opacity="0.35"/>
<circle cx="617.9" cy="192.7" r="3.35" fill="#f9953b" stroke="#9c531d" stroke-width="1.3"/>
<circle cx="617.9" cy="192.7" r="1.1" fill="#ffc27a" fill-opacity="0.6"/>
<circle cx="659.1" cy="184" r="4.9" fill="#0f1b20" fill-opacity="0.35"/>
<circle cx="659.1" cy="184" r="3.35" fill="#f9953b" stroke="#9c531d" stroke-width="1.3"/>
<circle cx="659.1" cy="184" r="1.1" fill="#ffc27a" fill-opacity="0.6"/>
<circle cx="700.4" cy="175.7" r="4.9" fill="#0f1b20" fill-opacity="0.35"/>
<circle cx="700.4" cy="175.7" r="3.35" fill="#f9953b" stroke="#9c531d" stroke-width="1.3"/>
<circle cx="700.4" cy="175.7" r="1.1" fill="#ffc27a" fill-opacity="0.6"/>
<circle cx="741.6" cy="167" r="4.9" fill="#0f1b20" fill-opacity="0.35"/>
<circle cx="741.6" cy="167" r="3.35" fill="#f9953b" stroke="#9c531d" stroke-width="1.3"/>
<circle cx="741.6" cy="167" r="1.1" fill="#ffc27a" fill-opacity="0.6"/>
<circle cx="782.9" cy="192.7" r="4.9" fill="#0f1b20" fill-opacity="0.35"/>
<circle cx="782.9" cy="192.7" r="3.35" fill="#f9953b" stroke="#9c531d" stroke-width="1.3"/>
<circle cx="782.9" cy="192.7" r="1.1" fill="#ffc27a" fill-opacity="0.6"/>
<circle cx="824.1" cy="192.7" r="4.9" fill="#0f1b20" fill-opacity="0.35"/>
<circle cx="824.1" cy="192.7" r="3.35" fill="#f9953b" stroke="#9c531d" stroke-width="1.3"/>
<circle cx="824.1" cy="192.7" r="1.1" fill="#ffc27a" fill-opacity="0.6"/>
<circle cx="865.4" cy="192.7" r="4.9" fill="#0f1b20" fill-opacity="0.35"/>
<circle cx="865.4" cy="192.7" r="3.35" fill="#f9953b" stroke="#9c531d" stroke-width="1.3"/>
<circle cx="865.4" cy="192.7" r="1.1" fill="#ffc27a" fill-opacity="0.6"/>
<circle cx="906.6" cy="192.7" r="4.9" fill="#0f1b20" fill-opacity="0.35"/>
<circle cx="906.6" cy="192.7" r="3.35" fill="#f9953b" stroke="#9c531d" stroke-width="1.3"/>
<circle cx="906.6" cy="192.7" r="1.1" fill="#ffc27a" fill-opacity="0.6"/>
<circle cx="947.9" cy="192.7" r="4.9" fill="#0f1b20" fill-opacity="0.35"/>
<circle cx="947.9" cy="192.7" r="3.35" fill="#f9953b" stroke="#9c531d" stroke-width="1.3"/>
<circle cx="947.9" cy="192.7" r="1.1" fill="#ffc27a" fill-opacity="0.6"/>
<circle cx="989.1" cy="201.3" r="4.9" fill="#0f1b20" fill-opacity="0.35"/>
<circle cx="989.1" cy="201.3" r="3.35" fill="#f9953b" stroke="#9c531d" stroke-width="1.3"/>
<circle cx="989.1" cy="201.3" r="1.1" fill="#ffc27a" fill-opacity="0.6"/>
<circle cx="1030.4" cy="217.3" r="4.9" fill="#0f1b20" fill-opacity="0.35"/>
<circle cx="1030.4" cy="217.3" r="3.35" fill="#f9953b" stroke="#9c531d" stroke-width="1.3"/>
<circle cx="1030.4" cy="217.3" r="1.1" fill="#ffc27a" fill-opacity="0.6"/>
<circle cx="1071.6" cy="226" r="4.9" fill="#0f1b20" fill-opacity="0.35"/>
<circle cx="1071.6" cy="226" r="3.35" fill="#f9953b" stroke="#9c531d" stroke-width="1.3"/>
<circle cx="1071.6" cy="226" r="1.1" fill="#ffc27a" fill-opacity="0.6"/>
<circle cx="1112.9" cy="226" r="4.9" fill="#0f1b20" fill-opacity="0.35"/>
<circle cx="1112.9" cy="226" r="3.35" fill="#f9953b" stroke="#9c531d" stroke-width="1.3"/>
<circle cx="1112.9" cy="226" r="1.1" fill="#ffc27a" fill-opacity="0.6"/>
<circle cx="1154.1" cy="226" r="4.9" fill="#0f1b20" fill-opacity="0.35"/>
<circle cx="1154.1" cy="226" r="3.35" fill="#f9953b" stroke="#9c531d" stroke-width="1.3"/>
<circle cx="1154.1" cy="226" r="1.1" fill="#ffc27a" fill-opacity="0.6"/>
<circle cx="1195.4" cy="226" r="4.9" fill="#0f1b20" fill-opacity="0.35"/>
<circle cx="1195.4" cy="226" r="3.35" fill="#f9953b" stroke="#9c531d" stroke-width="1.3"/>
<circle cx="1195.4" cy="226" r="1.1" fill="#ffc27a" fill-opacity="0.6"/>
</g>
<g fill="#f0994e" text-anchor="middle" font-size="10.6" stroke="#f0994e" stroke-width="0.38" lengthAdjust="spacingAndGlyphs">
<text x="240.6" y="198.6" text-anchor="start" textLength="6.6" lengthAdjust="spacingAndGlyphs">2</text><text x="247.7" y="198.6" text-anchor="start" font-size="9.2" stroke-width="0.3" textLength="5.5" lengthAdjust="spacingAndGlyphs">%</text>
<text x="281.9" y="190.3" text-anchor="start" textLength="6.6" lengthAdjust="spacingAndGlyphs">3</text><text x="289" y="190.3" text-anchor="start" font-size="9.2" stroke-width="0.3" textLength="5.5" lengthAdjust="spacingAndGlyphs">%</text>
<text x="323.1" y="173.6" text-anchor="start" textLength="6.6" lengthAdjust="spacingAndGlyphs">5</text><text x="330.2" y="173.6" text-anchor="start" font-size="9.2" stroke-width="0.3" textLength="5.5" lengthAdjust="spacingAndGlyphs">%</text>
<text x="364.4" y="164.3" text-anchor="start" textLength="6.6" lengthAdjust="spacingAndGlyphs">6</text><text x="371.5" y="164.3" text-anchor="start" font-size="9.2" stroke-width="0.3" textLength="5.5" lengthAdjust="spacingAndGlyphs">%</text>
<text x="405.6" y="139.3" text-anchor="start" textLength="6.6" lengthAdjust="spacingAndGlyphs">9</text><text x="412.7" y="139.3" text-anchor="start" font-size="9.2" stroke-width="0.3" textLength="5.5" lengthAdjust="spacingAndGlyphs">%</text>
<text x="445.4" y="131" text-anchor="start" textLength="9.6" lengthAdjust="spacingAndGlyphs">10</text><text x="455.5" y="131" text-anchor="start" font-size="9.2" stroke-width="0.3" textLength="5.5" lengthAdjust="spacingAndGlyphs">%</text>
<text x="488.1" y="139.3" text-anchor="start" textLength="6.6" lengthAdjust="spacingAndGlyphs">9</text><text x="495.2" y="139.3" text-anchor="start" font-size="9.2" stroke-width="0.3" textLength="5.5" lengthAdjust="spacingAndGlyphs">%</text>
<text x="529.4" y="164.3" text-anchor="start" textLength="6.6" lengthAdjust="spacingAndGlyphs">6</text><text x="536.5" y="164.3" text-anchor="start" font-size="9.2" stroke-width="0.3" textLength="5.5" lengthAdjust="spacingAndGlyphs">%</text>
<text x="570.6" y="182.3" text-anchor="start" textLength="6.6" lengthAdjust="spacingAndGlyphs">4</text><text x="577.7" y="182.3" text-anchor="start" font-size="9.2" stroke-width="0.3" textLength="5.5" lengthAdjust="spacingAndGlyphs">%</text>
<text x="611.9" y="182" text-anchor="start" textLength="6.6" lengthAdjust="spacingAndGlyphs">4</text><text x="619" y="182" text-anchor="start" font-size="9.2" stroke-width="0.3" textLength="5.5" lengthAdjust="spacingAndGlyphs">%</text>
<text x="653.1" y="173.3" text-anchor="start" textLength="6.6" lengthAdjust="spacingAndGlyphs">5</text><text x="660.2" y="173.3" text-anchor="start" font-size="9.2" stroke-width="0.3" textLength="5.5" lengthAdjust="spacingAndGlyphs">%</text>
<text x="694.4" y="165" text-anchor="start" textLength="6.6" lengthAdjust="spacingAndGlyphs">6</text><text x="701.5" y="165" text-anchor="start" font-size="9.2" stroke-width="0.3" textLength="5.5" lengthAdjust="spacingAndGlyphs">%</text>
<text x="735.6" y="156.3" text-anchor="start" textLength="6.6" lengthAdjust="spacingAndGlyphs">7</text><text x="742.7" y="156.3" text-anchor="start" font-size="9.2" stroke-width="0.3" textLength="5.5" lengthAdjust="spacingAndGlyphs">%</text>
<text x="776.9" y="182" text-anchor="start" textLength="6.6" lengthAdjust="spacingAndGlyphs">4</text><text x="784" y="182" text-anchor="start" font-size="9.2" stroke-width="0.3" textLength="5.5" lengthAdjust="spacingAndGlyphs">%</text>
<text x="818.1" y="182" text-anchor="start" textLength="6.6" lengthAdjust="spacingAndGlyphs">4</text><text x="825.2" y="182" text-anchor="start" font-size="9.2" stroke-width="0.3" textLength="5.5" lengthAdjust="spacingAndGlyphs">%</text>
<text x="859.4" y="182" text-anchor="start" textLength="6.6" lengthAdjust="spacingAndGlyphs">4</text><text x="866.5" y="182" text-anchor="start" font-size="9.2" stroke-width="0.3" textLength="5.5" lengthAdjust="spacingAndGlyphs">%</text>
<text x="900.6" y="182" text-anchor="start" textLength="6.6" lengthAdjust="spacingAndGlyphs">4</text><text x="907.7" y="182" text-anchor="start" font-size="9.2" stroke-width="0.3" textLength="5.5" lengthAdjust="spacingAndGlyphs">%</text>
<text x="941.9" y="182" text-anchor="start" textLength="6.6" lengthAdjust="spacingAndGlyphs">4</text><text x="949" y="182" text-anchor="start" font-size="9.2" stroke-width="0.3" textLength="5.5" lengthAdjust="spacingAndGlyphs">%</text>
<text x="983.1" y="190.6" text-anchor="start" textLength="6.6" lengthAdjust="spacingAndGlyphs">3</text><text x="990.2" y="190.6" text-anchor="start" font-size="9.2" stroke-width="0.3" textLength="5.5" lengthAdjust="spacingAndGlyphs">%</text>
<text x="1024.4" y="206.6" text-anchor="start" textLength="6.6" lengthAdjust="spacingAndGlyphs">1</text><text x="1031.5" y="206.6" text-anchor="start" font-size="9.2" stroke-width="0.3" textLength="5.5" lengthAdjust="spacingAndGlyphs">%</text>
<text x="1065.6" y="215.3" text-anchor="start" textLength="6.6" lengthAdjust="spacingAndGlyphs">0</text><text x="1072.7" y="215.3" text-anchor="start" font-size="9.2" stroke-width="0.3" textLength="5.5" lengthAdjust="spacingAndGlyphs">%</text>
<text x="1106.9" y="215.3" text-anchor="start" textLength="6.6" lengthAdjust="spacingAndGlyphs">0</text><text x="1114" y="215.3" text-anchor="start" font-size="9.2" stroke-width="0.3" textLength="5.5" lengthAdjust="spacingAndGlyphs">%</text>
<text x="1148.1" y="215.3" text-anchor="start" textLength="6.6" lengthAdjust="spacingAndGlyphs">0</text><text x="1155.2" y="215.3" text-anchor="start" font-size="9.2" stroke-width="0.3" textLength="5.5" lengthAdjust="spacingAndGlyphs">%</text>
<text x="1189.4" y="215.3" text-anchor="start" textLength="6.6" lengthAdjust="spacingAndGlyphs">0</text><text x="1196.5" y="215.3" text-anchor="start" font-size="9.2" stroke-width="0.3" textLength="5.5" lengthAdjust="spacingAndGlyphs">%</text>
</g>
<text x="205.5" y="77.6" font-size="12.6" fill="#cf9659" stroke="#cf9659" stroke-width="0.15" letter-spacing="0.55" textLength="125.5" lengthAdjust="spacingAndGlyphs">TWENTY ONE PILOTS</text>
<text x="206.2" y="95.3" font-size="18.0" font-weight="bold" fill="#f58b31" stroke="#f58b31" stroke-width="1.85" stroke-linejoin="miter" textLength="143.2" lengthAdjust="spacingAndGlyphs">STRESSED OUT</text>
<rect x="399.3" y="82" width="108.4" height="30" fill="#000" fill-opacity="0.35" filter="url(#sh)"/>
<path d="M400.3,80H504.7q2,0 2,2V108q0,2 -2,2H460.3l-8,7.2l-8,-7.2H400.3q-2,0 -2,-2V82q0,-2 2,-2z" fill="#1d2e35"/>
<text font-size="9.7" fill="#f4f7f7" text-anchor="middle" stroke="#f4f7f7" stroke-width="0.3"><tspan x="452.5" y="92.9">Catchy chorus brings</tspan><tspan x="452.5" y="103.6">an early spike</tspan></text>
<rect x="722.5" y="98.7" width="162.5" height="30.6" fill="#000" fill-opacity="0.35" filter="url(#sh)"/>
<path d="M723.5,96.7H882q2,0 2,2V125.3q0,2 -2,2H782.5l-8,7.2l-8,-7.2H723.5q-2,0 -2,-2V98.7q0,-2 2,-2z" fill="#1d2e35"/>
<text font-size="9.7" fill="#f4f7f7" text-anchor="middle" stroke="#f4f7f7" stroke-width="0.3"><tspan x="802.8" y="109.6">Lag between chorus and spike is</tspan><tspan x="802.8" y="120.3">the “getting the phone out” delay</tspan></text>
<circle cx="1356.6" cy="125" r="59" fill="url(#cg0)" stroke="#7a6653" stroke-width="1.2"/>
<circle cx="1306.4" cy="125" r="11.2" fill="#a86a3c" fill-opacity="0.3" stroke="#9a6e49" stroke-width="1.1"/>
<circle cx="1306.4" cy="125" r="6.2" fill="none" stroke="#9a6e49" stroke-opacity="0.35" stroke-width="0.8"/>
<circle cx="1306.4" cy="125" r="1.1" fill="#8f9a96"/>
<circle cx="1356.6" cy="125" r="1.1" fill="#8f9a96"/>
<circle cx="1412.2" cy="125" r="1.1" fill="#8f9a96"/>
<clipPath id="av0"><circle cx="1245" cy="125" r="19.6"/></clipPath>
<circle cx="1245" cy="125" r="21.5" fill="#15252b" fill-opacity="0.8"/>
<g clip-path="url(#av0)"><g filter="url(#bl)" transform="translate(1245,125)"><rect x="-22" y="-22" width="44" height="44" fill="#f6d1ab"/><ellipse cx="1" cy="9" rx="9" ry="8" fill="#fbe3c8"/><path d="M-15,8C-16,0 -12,-6 -9,-9C-8,-13 -3,-13 -2,-8C0,-3 -1,4 -5,8C-8,12 -13,12 -15,8z" fill="#d58a45"/><ellipse cx="-5" cy="-5" rx="3.6" ry="5.4" fill="#c4722c" transform="rotate(8 -5 -5)"/><path d="M-8.5,-8.5C-8,-13 -2.5,-13.5 -1.8,-8.2" stroke="#8a4513" stroke-width="2.2" fill="none"/><ellipse cx="-10.5" cy="3" rx="3" ry="4.5" fill="#c9772f"/><ellipse cx="9.5" cy="2.5" rx="6.2" ry="8.6" fill="#dd9150" transform="rotate(-28 9.5 2.5)"/><path d="M3.2,0C2,-8 11,-10.5 15.5,-3.5" stroke="#8f4a17" stroke-width="2.3" fill="none"/><path d="M6,2.5q1.2,-0.8 2.4,0M10.5,4.2q1.2,-0.6 2.4,0.4M8,7.6q2,1.3 3.8,0.8" stroke="#a85a1c" stroke-width="1.1" fill="none"/><path d="M-9.6,11.5l1.8,6.5" stroke="#8a3a10" stroke-width="2.6"/></g></g>
<circle cx="1245" cy="125" r="19.8" fill="none" stroke="#5a3a24" stroke-width="1"/>
<g font-size="9.4" text-anchor="middle" fill="#e08a45" stroke="#e08a45" stroke-width="0.2">
<text x="1245.3" y="158.6">Released</text>
<text x="1306" y="158.6">Shazams</text><text x="1306" y="170.2" textLength="29.5" lengthAdjust="spacingAndGlyphs">Q1 2016</text>
<text x="1360" y="158.6">Spotify plays</text><text x="1360" y="170.2" textLength="29.5" lengthAdjust="spacingAndGlyphs">Q1 2016</text>
<text x="1412" y="158.6">Total</text><text x="1412" y="170.2">UK sales</text>
</g>
<g font-size="10.8" text-anchor="middle" fill="#fff" stroke="#fff" stroke-width="0.25">
<text x="1245.3" y="170.4" textLength="55" lengthAdjust="spacingAndGlyphs">Apr 21, 2015</text>
<text x="1306" y="181.6">6.2m</text>
<text x="1360" y="181.6">184m</text>
<text x="1412" y="181.6">89k</text>
</g>
</g>
<g id="row1">
<clipPath id="cp1"><path d="M226,412.7L246.6,386.4C254.2,384.8 280.3,381.6 287.9,377.7C295.4,373.8 321.6,348.5 329.1,343.7C336.7,338.9 362.8,328.5 370.4,325.4C377.9,322.3 404.1,309.4 411.6,309.4C419.2,309.4 445.3,323.1 452.9,325.4C460.4,327.7 486.6,331.7 494.1,334.1C501.7,336.5 527.8,349.3 535.4,351.7C542.9,354.1 569.1,357.7 576.6,360.1C584.2,362.5 610.3,375.3 617.9,377.7C625.4,380.1 651.6,386.4 659.1,386.4C666.7,386.4 692.8,386.4 700.4,386.4C707.9,386.4 734.1,386.4 741.6,386.4C749.2,386.4 775.3,386.4 782.9,386.4C790.4,386.4 816.6,386.4 824.1,386.4C831.7,386.4 857.8,386.4 865.4,386.4C872.9,386.4 899.1,386.4 906.6,386.4C914.2,386.4 940.3,395.1 947.9,395.1C955.4,395.1 981.6,395.1 989.1,395.1C996.7,395.1 1022.8,401.8 1030.4,403.4C1037.9,405 1064.1,411 1071.6,412.7L1071.6,412.7Z"/></clipPath>
<path d="M194,256.7V411.5H1437" stroke="#111d22" stroke-opacity="0.5" stroke-width="1.4" fill="none"/>
<path d="M192.6,256.7V413H1437" stroke="#4f7170" stroke-width="1.25" fill="none"/>
<path d="M226,412.7L246.6,386.4C254.2,384.8 280.3,381.6 287.9,377.7C295.4,373.8 321.6,348.5 329.1,343.7C336.7,338.9 362.8,328.5 370.4,325.4C377.9,322.3 404.1,309.4 411.6,309.4C419.2,309.4 445.3,323.1 452.9,325.4C460.4,327.7 486.6,331.7 494.1,334.1C501.7,336.5 527.8,349.3 535.4,351.7C542.9,354.1 569.1,357.7 576.6,360.1C584.2,362.5 610.3,375.3 617.9,377.7C625.4,380.1 651.6,386.4 659.1,386.4C666.7,386.4 692.8,386.4 700.4,386.4C707.9,386.4 734.1,386.4 741.6,386.4C749.2,386.4 775.3,386.4 782.9,386.4C790.4,386.4 816.6,386.4 824.1,386.4C831.7,386.4 857.8,386.4 865.4,386.4C872.9,386.4 899.1,386.4 906.6,386.4C914.2,386.4 940.3,395.1 947.9,395.1C955.4,395.1 981.6,395.1 989.1,395.1C996.7,395.1 1022.8,401.8 1030.4,403.4C1037.9,405 1064.1,411 1071.6,412.7" fill="none" stroke="#101c21" stroke-opacity="0.55" stroke-width="4" stroke-linejoin="round"/>
<path d="M226,412.7L246.6,386.4C254.2,384.8 280.3,381.6 287.9,377.7C295.4,373.8 321.6,348.5 329.1,343.7C336.7,338.9 362.8,328.5 370.4,325.4C377.9,322.3 404.1,309.4 411.6,309.4C419.2,309.4 445.3,323.1 452.9,325.4C460.4,327.7 486.6,331.7 494.1,334.1C501.7,336.5 527.8,349.3 535.4,351.7C542.9,354.1 569.1,357.7 576.6,360.1C584.2,362.5 610.3,375.3 617.9,377.7C625.4,380.1 651.6,386.4 659.1,386.4C666.7,386.4 692.8,386.4 700.4,386.4C707.9,386.4 734.1,386.4 741.6,386.4C749.2,386.4 775.3,386.4 782.9,386.4C790.4,386.4 816.6,386.4 824.1,386.4C831.7,386.4 857.8,386.4 865.4,386.4C872.9,386.4 899.1,386.4 906.6,386.4C914.2,386.4 940.3,395.1 947.9,395.1C955.4,395.1 981.6,395.1 989.1,395.1C996.7,395.1 1022.8,401.8 1030.4,403.4C1037.9,405 1064.1,411 1071.6,412.7L1071.6,412.7Z" fill="#1c2e34"/>
<linearGradient id="sg1_0" gradientUnits="userSpaceOnUse" x1="0" y1="308.9" x2="0" y2="412.7"><stop offset="0" stop-color="rgb(64,102,98)"/><stop offset="1" stop-color="rgb(77,131,126)"/></linearGradient>
<rect x="225.8" y="307.9" width="221.9" height="104.8" fill="url(#sg1_0)" clip-path="url(#cp1)"/>
<linearGradient id="sg1_1" gradientUnits="userSpaceOnUse" x1="0" y1="322.8" x2="0" y2="412.7"><stop offset="0" stop-color="rgb(66,106,102)"/><stop offset="1" stop-color="rgb(78,133,127)"/></linearGradient>
<rect x="447.3" y="321.8" width="174.1" height="90.9" fill="url(#sg1_1)" clip-path="url(#cp1)"/>
<linearGradient id="sh1_1" gradientUnits="userSpaceOnUse" x1="0" y1="322.8" x2="0" y2="412.7"><stop offset="0" stop-color="rgb(235,255,250)" stop-opacity="0.1"/><stop offset="0.4" stop-color="rgb(235,255,250)" stop-opacity="0.14"/><stop offset="1" stop-color="rgb(235,255,250)" stop-opacity="0.24"/></linearGradient>
<rect x="447.5" y="321.8" width="173.7" height="90.9" fill="url(#sh1_1)" clip-path="url(#cp1)"/>
<linearGradient id="sg1_2" gradientUnits="userSpaceOnUse" x1="0" y1="377.9" x2="0" y2="412.7"><stop offset="0" stop-color="rgb(81,137,131)"/><stop offset="1" stop-color="rgb(84,143,137)"/></linearGradient>
<rect x="621" y="376.9" width="229.8" height="35.8" fill="url(#sg1_2)" clip-path="url(#cp1)"/>
<linearGradient id="sg1_3" gradientUnits="userSpaceOnUse" x1="0" y1="385.9" x2="0" y2="412.7"><stop offset="0" stop-color="rgb(84,141,135)"/><stop offset="1" stop-color="rgb(85,144,138)"/></linearGradient>
<rect x="850.3" y="384.9" width="173.2" height="27.8" fill="url(#sg1_3)" clip-path="url(#cp1)"/>
<linearGradient id="sh1_3" gradientUnits="userSpaceOnUse" x1="0" y1="385.9" x2="0" y2="412.7"><stop offset="0" stop-color="rgb(235,255,250)" stop-opacity="0.1"/><stop offset="0.4" stop-color="rgb(235,255,250)" stop-opacity="0.14"/><stop offset="1" stop-color="rgb(235,255,250)" stop-opacity="0.24"/></linearGradient>
<rect x="850.5" y="384.9" width="172.8" height="27.8" fill="url(#sh1_3)" clip-path="url(#cp1)"/>
<linearGradient id="sg1_4" gradientUnits="userSpaceOnUse" x1="0" y1="401.5" x2="0" y2="412.7"><stop offset="0" stop-color="rgb(86,146,140)"/><stop offset="1" stop-color="rgb(86,146,140)"/></linearGradient>
<rect x="1023.2" y="400.5" width="48.7" height="12.2" fill="url(#sg1_4)" clip-path="url(#cp1)"/>
<clipPath id="co1"><path clip-rule="evenodd" d="M0,252.7H1620V414.7H0ZM226,412.7L246.6,386.4C254.2,384.8 280.3,381.6 287.9,377.7C295.4,373.8 321.6,348.5 329.1,343.7C336.7,338.9 362.8,328.5 370.4,325.4C377.9,322.3 404.1,309.4 411.6,309.4C419.2,309.4 445.3,323.1 452.9,325.4C460.4,327.7 486.6,331.7 494.1,334.1C501.7,336.5 527.8,349.3 535.4,351.7C542.9,354.1 569.1,357.7 576.6,360.1C584.2,362.5 610.3,375.3 617.9,377.7C625.4,380.1 651.6,386.4 659.1,386.4C666.7,386.4 692.8,386.4 700.4,386.4C707.9,386.4 734.1,386.4 741.6,386.4C749.2,386.4 775.3,386.4 782.9,386.4C790.4,386.4 816.6,386.4 824.1,386.4C831.7,386.4 857.8,386.4 865.4,386.4C872.9,386.4 899.1,386.4 906.6,386.4C914.2,386.4 940.3,395.1 947.9,395.1C955.4,395.1 981.6,395.1 989.1,395.1C996.7,395.1 1022.8,401.8 1030.4,403.4C1037.9,405 1064.1,411 1071.6,412.7L1071.6,412.7Z"/></clipPath>
<path d="M225.6,412.7v-3h2.6v3zM229.7,412.7v-6h2.6v6zM233.8,412.7v-3h2.6v3zM238,412.7v-1h2.6v1zM242.1,412.7v-8h2.6v8zM246.2,412.7v-5h2.6v5zM250.3,412.7v-2h2.6v2zM254.5,412.7v-2h2.6v2zM258.6,412.7v-1h2.6v1zM262.7,412.7v-6h2.6v6zM266.9,412.7v-6h2.6v6zM271,412.7v-5h2.6v5zM275.1,412.7v-10h2.6v10zM279.2,412.7v-3h2.6v3zM283.4,412.7v-3h2.6v3zM287.5,412.7v-3h2.6v3zM291.6,412.7v-3h2.6v3zM295.7,412.7v-3h2.6v3zM299.9,412.7v-3h2.6v3zM304,412.7v-4h2.6v4zM308.1,412.7v-7h2.6v7zM312.2,412.7v-8h2.6v8zM316.4,412.7v-4h2.6v4zM320.5,412.7v-2h2.6v2zM324.6,412.7v-9h2.6v9zM328.7,412.7v-9h2.6v9zM332.9,412.7v-12h2.6v12zM337,412.7v-2h2.6v2zM341.1,412.7v-2h2.6v2zM345.2,412.7v-5h2.6v5zM349.4,412.7v-2h2.6v2zM353.5,412.7v-4h2.6v4zM357.6,412.7v-31h2.6v31zM361.7,412.7v-18h2.6v18zM365.9,412.7v-29h2.6v29zM370,412.7v-32h2.6v32zM374.1,412.7v-20h2.6v20zM378.2,412.7v-17h2.6v17zM382.4,412.7v-20h2.6v20zM386.5,412.7v-6h2.6v6zM390.6,412.7v-21h2.6v21zM394.7,412.7v-9h2.6v9zM398.9,412.7v-3h2.6v3zM403,412.7v-8h2.6v8zM407.1,412.7v-3h2.6v3zM411.2,412.7v-24h2.6v24zM415.4,412.7v-9h2.6v9zM419.5,412.7v-8h2.6v8zM423.6,412.7v-6h2.6v6zM427.7,412.7v-3h2.6v3zM431.9,412.7v-8h2.6v8zM436,412.7v-10h2.6v10zM440.1,412.7v-34h2.6v34zM444.2,412.7v-4h2.6v4zM448.4,412.7v-6h2.6v6zM452.5,412.7v-67h2.6v67zM456.6,412.7v-79h2.6v79zM460.7,412.7v-60h2.6v60zM464.9,412.7v-30h2.6v30zM469,412.7v-32h2.6v32zM473.1,412.7v-55h2.6v55zM477.2,412.7v-39h2.6v39zM481.4,412.7v-61h2.6v61zM485.5,412.7v-29h2.6v29zM489.6,412.7v-65h2.6v65zM493.7,412.7v-32h2.6v32zM497.9,412.7v-70h2.6v70zM502,412.7v-53h2.6v53zM506.1,412.7v-49h2.6v49zM510.2,412.7v-63h2.6v63zM514.4,412.7v-29h2.6v29zM518.5,412.7v-48h2.6v48zM522.6,412.7v-53h2.6v53zM526.7,412.7v-46h2.6v46zM530.9,412.7v-39h2.6v39zM535,412.7v-12h2.6v12zM539.1,412.7v-8h2.6v8zM543.2,412.7v-48h2.6v48zM547.4,412.7v-27h2.6v27zM551.5,412.7v-59h2.6v59zM555.6,412.7v-18h2.6v18zM559.7,412.7v-46h2.6v46zM563.9,412.7v-66h2.6v66zM568,412.7v-14h2.6v14zM572.1,412.7v-28h2.6v28zM576.2,412.7v-36h2.6v36zM580.4,412.7v-27h2.6v27zM584.5,412.7v-40h2.6v40zM588.6,412.7v-58h2.6v58zM592.7,412.7v-70h2.6v70zM596.9,412.7v-89h2.6v89zM601,412.7v-64h2.6v64zM605.1,412.7v-44h2.6v44zM609.2,412.7v-49h2.6v49zM613.4,412.7v-42h2.6v42zM617.5,412.7v-46h2.6v46zM621.6,412.7v-51h2.6v51zM625.7,412.7v-30h2.6v30zM629.9,412.7v-8h2.6v8zM634,412.7v-12h2.6v12zM638.1,412.7v-9h2.6v9zM642.2,412.7v-4h2.6v4zM646.4,412.7v-2h2.6v2zM650.5,412.7v-2h2.6v2zM654.6,412.7v-3h2.6v3zM658.7,412.7v-2h2.6v2zM662.9,412.7v-3h2.6v3zM667,412.7v-2h2.6v2zM671.1,412.7v-5h2.6v5zM675.2,412.7v-3h2.6v3zM679.4,412.7v-4h2.6v4zM683.5,412.7v-4h2.6v4zM687.6,412.7v-7h2.6v7zM691.7,412.7v-5h2.6v5zM695.9,412.7v-4h2.6v4zM700,412.7v-3h2.6v3zM704.1,412.7v-6h2.6v6zM708.2,412.7v-3h2.6v3zM712.4,412.7v-10h2.6v10zM716.5,412.7v-4h2.6v4zM720.6,412.7v-14h2.6v14zM724.7,412.7v-41h2.6v41zM728.9,412.7v-22h2.6v22zM733,412.7v-5h2.6v5zM737.1,412.7v-14h2.6v14zM741.2,412.7v-13h2.6v13zM745.4,412.7v-4h2.6v4zM749.5,412.7v-5h2.6v5zM753.6,412.7v-18h2.6v18zM757.7,412.7v-40h2.6v40zM761.9,412.7v-14h2.6v14zM766,412.7v-21h2.6v21zM770.1,412.7v-20h2.6v20zM774.2,412.7v-5h2.6v5zM778.4,412.7v-21h2.6v21zM782.5,412.7v-16h2.6v16zM786.6,412.7v-5h2.6v5zM790.7,412.7v-3h2.6v3zM794.9,412.7v-13h2.6v13zM799,412.7v-4h2.6v4zM803.1,412.7v-29h2.6v29zM807.2,412.7v-7h2.6v7zM811.4,412.7v-4h2.6v4zM815.5,412.7v-36h2.6v36zM819.6,412.7v-12h2.6v12zM823.7,412.7v-15h2.6v15zM827.9,412.7v-4h2.6v4zM832,412.7v-6h2.6v6zM836.1,412.7v-18h2.6v18zM840.2,412.7v-5h2.6v5zM844.4,412.7v-5h2.6v5zM848.5,412.7v-43h2.6v43zM852.6,412.7v-12h2.6v12zM856.7,412.7v-65h2.6v65zM860.9,412.7v-54h2.6v54zM865,412.7v-30h2.6v30zM869.1,412.7v-98h2.6v98zM873.2,412.7v-77h2.6v77zM877.4,412.7v-39h2.6v39zM881.5,412.7v-20h2.6v20zM885.6,412.7v-22h2.6v22zM889.7,412.7v-76h2.6v76zM893.9,412.7v-65h2.6v65zM898,412.7v-46h2.6v46zM902.1,412.7v-52h2.6v52zM906.2,412.7v-30h2.6v30zM910.4,412.7v-51h2.6v51zM914.5,412.7v-47h2.6v47zM918.6,412.7v-44h2.6v44zM922.7,412.7v-16h2.6v16zM926.9,412.7v-101h2.6v101zM931,412.7v-72h2.6v72zM935.1,412.7v-36h2.6v36zM939.2,412.7v-18h2.6v18zM943.4,412.7v-75h2.6v75zM947.5,412.7v-53h2.6v53zM951.6,412.7v-25h2.6v25zM955.7,412.7v-20h2.6v20zM959.9,412.7v-46h2.6v46zM964,412.7v-77h2.6v77zM968.1,412.7v-57h2.6v57zM972.2,412.7v-58h2.6v58zM976.4,412.7v-44h2.6v44zM980.5,412.7v-20h2.6v20zM984.6,412.7v-55h2.6v55zM988.7,412.7v-36h2.6v36zM992.9,412.7v-18h2.6v18zM997,412.7v-63h2.6v63zM1001.1,412.7v-53h2.6v53zM1005.2,412.7v-39h2.6v39zM1009.4,412.7v-53h2.6v53zM1013.5,412.7v-37h2.6v37zM1017.6,412.7v-71h2.6v71zM1021.7,412.7v-31h2.6v31zM1025.8,412.7v-52h2.6v52zM1030,412.7v-27h2.6v27zM1034.1,412.7v-6h2.6v6zM1038.2,412.7v-4h2.6v4zM1042.3,412.7v-3h2.6v3zM1046.5,412.7v-2h2.6v2zM1050.6,412.7v-3h2.6v3z" fill="rgb(150,220,210)" fill-opacity="0.36" clip-path="url(#co1)"/>
<path d="M225.6,412.7v-3h2.6v3zM229.7,412.7v-6h2.6v6zM233.8,412.7v-3h2.6v3zM238,412.7v-1h2.6v1zM242.1,412.7v-8h2.6v8zM246.2,412.7v-5h2.6v5zM250.3,412.7v-2h2.6v2zM254.5,412.7v-2h2.6v2zM258.6,412.7v-1h2.6v1zM262.7,412.7v-6h2.6v6zM266.9,412.7v-6h2.6v6zM271,412.7v-5h2.6v5zM275.1,412.7v-10h2.6v10zM279.2,412.7v-3h2.6v3zM283.4,412.7v-3h2.6v3zM287.5,412.7v-3h2.6v3zM291.6,412.7v-3h2.6v3zM295.7,412.7v-3h2.6v3zM299.9,412.7v-3h2.6v3zM304,412.7v-4h2.6v4zM308.1,412.7v-7h2.6v7zM312.2,412.7v-8h2.6v8zM316.4,412.7v-4h2.6v4zM320.5,412.7v-2h2.6v2zM324.6,412.7v-9h2.6v9zM328.7,412.7v-9h2.6v9zM332.9,412.7v-12h2.6v12zM337,412.7v-2h2.6v2zM341.1,412.7v-2h2.6v2zM345.2,412.7v-5h2.6v5zM349.4,412.7v-2h2.6v2zM353.5,412.7v-4h2.6v4zM357.6,412.7v-31h2.6v31zM361.7,412.7v-18h2.6v18zM365.9,412.7v-29h2.6v29zM370,412.7v-32h2.6v32zM374.1,412.7v-20h2.6v20zM378.2,412.7v-17h2.6v17zM382.4,412.7v-20h2.6v20zM386.5,412.7v-6h2.6v6zM390.6,412.7v-21h2.6v21zM394.7,412.7v-9h2.6v9zM398.9,412.7v-3h2.6v3zM403,412.7v-8h2.6v8zM407.1,412.7v-3h2.6v3zM411.2,412.7v-24h2.6v24zM415.4,412.7v-9h2.6v9zM419.5,412.7v-8h2.6v8zM423.6,412.7v-6h2.6v6zM427.7,412.7v-3h2.6v3zM431.9,412.7v-8h2.6v8zM436,412.7v-10h2.6v10zM440.1,412.7v-34h2.6v34zM444.2,412.7v-4h2.6v4zM448.4,412.7v-6h2.6v6zM452.5,412.7v-67h2.6v67zM456.6,412.7v-79h2.6v79zM460.7,412.7v-60h2.6v60zM464.9,412.7v-30h2.6v30zM469,412.7v-32h2.6v32zM473.1,412.7v-55h2.6v55zM477.2,412.7v-39h2.6v39zM481.4,412.7v-61h2.6v61zM485.5,412.7v-29h2.6v29zM489.6,412.7v-65h2.6v65zM493.7,412.7v-32h2.6v32zM497.9,412.7v-70h2.6v70zM502,412.7v-53h2.6v53zM506.1,412.7v-49h2.6v49zM510.2,412.7v-63h2.6v63zM514.4,412.7v-29h2.6v29zM518.5,412.7v-48h2.6v48zM522.6,412.7v-53h2.6v53zM526.7,412.7v-46h2.6v46zM530.9,412.7v-39h2.6v39zM535,412.7v-12h2.6v12zM539.1,412.7v-8h2.6v8zM543.2,412.7v-48h2.6v48zM547.4,412.7v-27h2.6v27zM551.5,412.7v-59h2.6v59zM555.6,412.7v-18h2.6v18zM559.7,412.7v-46h2.6v46zM563.9,412.7v-66h2.6v66zM568,412.7v-14h2.6v14zM572.1,412.7v-28h2.6v28zM576.2,412.7v-36h2.6v36zM580.4,412.7v-27h2.6v27zM584.5,412.7v-40h2.6v40zM588.6,412.7v-58h2.6v58zM592.7,412.7v-70h2.6v70zM596.9,412.7v-89h2.6v89zM601,412.7v-64h2.6v64zM605.1,412.7v-44h2.6v44zM609.2,412.7v-49h2.6v49zM613.4,412.7v-42h2.6v42zM617.5,412.7v-46h2.6v46zM621.6,412.7v-51h2.6v51zM625.7,412.7v-30h2.6v30zM629.9,412.7v-8h2.6v8zM634,412.7v-12h2.6v12zM638.1,412.7v-9h2.6v9zM642.2,412.7v-4h2.6v4zM646.4,412.7v-2h2.6v2zM650.5,412.7v-2h2.6v2zM654.6,412.7v-3h2.6v3zM658.7,412.7v-2h2.6v2zM662.9,412.7v-3h2.6v3zM667,412.7v-2h2.6v2zM671.1,412.7v-5h2.6v5zM675.2,412.7v-3h2.6v3zM679.4,412.7v-4h2.6v4zM683.5,412.7v-4h2.6v4zM687.6,412.7v-7h2.6v7zM691.7,412.7v-5h2.6v5zM695.9,412.7v-4h2.6v4zM700,412.7v-3h2.6v3zM704.1,412.7v-6h2.6v6zM708.2,412.7v-3h2.6v3zM712.4,412.7v-10h2.6v10zM716.5,412.7v-4h2.6v4zM720.6,412.7v-14h2.6v14zM724.7,412.7v-41h2.6v41zM728.9,412.7v-22h2.6v22zM733,412.7v-5h2.6v5zM737.1,412.7v-14h2.6v14zM741.2,412.7v-13h2.6v13zM745.4,412.7v-4h2.6v4zM749.5,412.7v-5h2.6v5zM753.6,412.7v-18h2.6v18zM757.7,412.7v-40h2.6v40zM761.9,412.7v-14h2.6v14zM766,412.7v-21h2.6v21zM770.1,412.7v-20h2.6v20zM774.2,412.7v-5h2.6v5zM778.4,412.7v-21h2.6v21zM782.5,412.7v-16h2.6v16zM786.6,412.7v-5h2.6v5zM790.7,412.7v-3h2.6v3zM794.9,412.7v-13h2.6v13zM799,412.7v-4h2.6v4zM803.1,412.7v-29h2.6v29zM807.2,412.7v-7h2.6v7zM811.4,412.7v-4h2.6v4zM815.5,412.7v-36h2.6v36zM819.6,412.7v-12h2.6v12zM823.7,412.7v-15h2.6v15zM827.9,412.7v-4h2.6v4zM832,412.7v-6h2.6v6zM836.1,412.7v-18h2.6v18zM840.2,412.7v-5h2.6v5zM844.4,412.7v-5h2.6v5zM848.5,412.7v-43h2.6v43zM852.6,412.7v-12h2.6v12zM856.7,412.7v-65h2.6v65zM860.9,412.7v-54h2.6v54zM865,412.7v-30h2.6v30zM869.1,412.7v-98h2.6v98zM873.2,412.7v-77h2.6v77zM877.4,412.7v-39h2.6v39zM881.5,412.7v-20h2.6v20zM885.6,412.7v-22h2.6v22zM889.7,412.7v-76h2.6v76zM893.9,412.7v-65h2.6v65zM898,412.7v-46h2.6v46zM902.1,412.7v-52h2.6v52zM906.2,412.7v-30h2.6v30zM910.4,412.7v-51h2.6v51zM914.5,412.7v-47h2.6v47zM918.6,412.7v-44h2.6v44zM922.7,412.7v-16h2.6v16zM926.9,412.7v-101h2.6v101zM931,412.7v-72h2.6v72zM935.1,412.7v-36h2.6v36zM939.2,412.7v-18h2.6v18zM943.4,412.7v-75h2.6v75zM947.5,412.7v-53h2.6v53zM951.6,412.7v-25h2.6v25zM955.7,412.7v-20h2.6v20zM959.9,412.7v-46h2.6v46zM964,412.7v-77h2.6v77zM968.1,412.7v-57h2.6v57zM972.2,412.7v-58h2.6v58zM976.4,412.7v-44h2.6v44zM980.5,412.7v-20h2.6v20zM984.6,412.7v-55h2.6v55zM988.7,412.7v-36h2.6v36zM992.9,412.7v-18h2.6v18zM997,412.7v-63h2.6v63zM1001.1,412.7v-53h2.6v53zM1005.2,412.7v-39h2.6v39zM1009.4,412.7v-53h2.6v53zM1013.5,412.7v-37h2.6v37zM1017.6,412.7v-71h2.6v71zM1021.7,412.7v-31h2.6v31zM1025.8,412.7v-52h2.6v52zM1030,412.7v-27h2.6v27zM1034.1,412.7v-6h2.6v6zM1038.2,412.7v-4h2.6v4zM1042.3,412.7v-3h2.6v3zM1046.5,412.7v-2h2.6v2zM1050.6,412.7v-3h2.6v3z" fill="rgb(190,245,235)" fill-opacity="0.26" clip-path="url(#cp1)"/>
<clipPath id="hc1"><path d="M447.5,282.7H621.2V412.7H447.5ZM850.5,282.7H1023.4V412.7H850.5Z"/></clipPath>
<g clip-path="url(#cp1)"><path d="M225.6,412.7v-3h2.6v3zM229.7,412.7v-6h2.6v6zM233.8,412.7v-3h2.6v3zM238,412.7v-1h2.6v1zM242.1,412.7v-8h2.6v8zM246.2,412.7v-5h2.6v5zM250.3,412.7v-2h2.6v2zM254.5,412.7v-2h2.6v2zM258.6,412.7v-1h2.6v1zM262.7,412.7v-6h2.6v6zM266.9,412.7v-6h2.6v6zM271,412.7v-5h2.6v5zM275.1,412.7v-10h2.6v10zM279.2,412.7v-3h2.6v3zM283.4,412.7v-3h2.6v3zM287.5,412.7v-3h2.6v3zM291.6,412.7v-3h2.6v3zM295.7,412.7v-3h2.6v3zM299.9,412.7v-3h2.6v3zM304,412.7v-4h2.6v4zM308.1,412.7v-7h2.6v7zM312.2,412.7v-8h2.6v8zM316.4,412.7v-4h2.6v4zM320.5,412.7v-2h2.6v2zM324.6,412.7v-9h2.6v9zM328.7,412.7v-9h2.6v9zM332.9,412.7v-12h2.6v12zM337,412.7v-2h2.6v2zM341.1,412.7v-2h2.6v2zM345.2,412.7v-5h2.6v5zM349.4,412.7v-2h2.6v2zM353.5,412.7v-4h2.6v4zM357.6,412.7v-31h2.6v31zM361.7,412.7v-18h2.6v18zM365.9,412.7v-29h2.6v29zM370,412.7v-32h2.6v32zM374.1,412.7v-20h2.6v20zM378.2,412.7v-17h2.6v17zM382.4,412.7v-20h2.6v20zM386.5,412.7v-6h2.6v6zM390.6,412.7v-21h2.6v21zM394.7,412.7v-9h2.6v9zM398.9,412.7v-3h2.6v3zM403,412.7v-8h2.6v8zM407.1,412.7v-3h2.6v3zM411.2,412.7v-24h2.6v24zM415.4,412.7v-9h2.6v9zM419.5,412.7v-8h2.6v8zM423.6,412.7v-6h2.6v6zM427.7,412.7v-3h2.6v3zM431.9,412.7v-8h2.6v8zM436,412.7v-10h2.6v10zM440.1,412.7v-34h2.6v34zM444.2,412.7v-4h2.6v4zM448.4,412.7v-6h2.6v6zM452.5,412.7v-67h2.6v67zM456.6,412.7v-79h2.6v79zM460.7,412.7v-60h2.6v60zM464.9,412.7v-30h2.6v30zM469,412.7v-32h2.6v32zM473.1,412.7v-55h2.6v55zM477.2,412.7v-39h2.6v39zM481.4,412.7v-61h2.6v61zM485.5,412.7v-29h2.6v29zM489.6,412.7v-65h2.6v65zM493.7,412.7v-32h2.6v32zM497.9,412.7v-70h2.6v70zM502,412.7v-53h2.6v53zM506.1,412.7v-49h2.6v49zM510.2,412.7v-63h2.6v63zM514.4,412.7v-29h2.6v29zM518.5,412.7v-48h2.6v48zM522.6,412.7v-53h2.6v53zM526.7,412.7v-46h2.6v46zM530.9,412.7v-39h2.6v39zM535,412.7v-12h2.6v12zM539.1,412.7v-8h2.6v8zM543.2,412.7v-48h2.6v48zM547.4,412.7v-27h2.6v27zM551.5,412.7v-59h2.6v59zM555.6,412.7v-18h2.6v18zM559.7,412.7v-46h2.6v46zM563.9,412.7v-66h2.6v66zM568,412.7v-14h2.6v14zM572.1,412.7v-28h2.6v28zM576.2,412.7v-36h2.6v36zM580.4,412.7v-27h2.6v27zM584.5,412.7v-40h2.6v40zM588.6,412.7v-58h2.6v58zM592.7,412.7v-70h2.6v70zM596.9,412.7v-89h2.6v89zM601,412.7v-64h2.6v64zM605.1,412.7v-44h2.6v44zM609.2,412.7v-49h2.6v49zM613.4,412.7v-42h2.6v42zM617.5,412.7v-46h2.6v46zM621.6,412.7v-51h2.6v51zM625.7,412.7v-30h2.6v30zM629.9,412.7v-8h2.6v8zM634,412.7v-12h2.6v12zM638.1,412.7v-9h2.6v9zM642.2,412.7v-4h2.6v4zM646.4,412.7v-2h2.6v2zM650.5,412.7v-2h2.6v2zM654.6,412.7v-3h2.6v3zM658.7,412.7v-2h2.6v2zM662.9,412.7v-3h2.6v3zM667,412.7v-2h2.6v2zM671.1,412.7v-5h2.6v5zM675.2,412.7v-3h2.6v3zM679.4,412.7v-4h2.6v4zM683.5,412.7v-4h2.6v4zM687.6,412.7v-7h2.6v7zM691.7,412.7v-5h2.6v5zM695.9,412.7v-4h2.6v4zM700,412.7v-3h2.6v3zM704.1,412.7v-6h2.6v6zM708.2,412.7v-3h2.6v3zM712.4,412.7v-10h2.6v10zM716.5,412.7v-4h2.6v4zM720.6,412.7v-14h2.6v14zM724.7,412.7v-41h2.6v41zM728.9,412.7v-22h2.6v22zM733,412.7v-5h2.6v5zM737.1,412.7v-14h2.6v14zM741.2,412.7v-13h2.6v13zM745.4,412.7v-4h2.6v4zM749.5,412.7v-5h2.6v5zM753.6,412.7v-18h2.6v18zM757.7,412.7v-40h2.6v40zM761.9,412.7v-14h2.6v14zM766,412.7v-21h2.6v21zM770.1,412.7v-20h2.6v20zM774.2,412.7v-5h2.6v5zM778.4,412.7v-21h2.6v21zM782.5,412.7v-16h2.6v16zM786.6,412.7v-5h2.6v5zM790.7,412.7v-3h2.6v3zM794.9,412.7v-13h2.6v13zM799,412.7v-4h2.6v4zM803.1,412.7v-29h2.6v29zM807.2,412.7v-7h2.6v7zM811.4,412.7v-4h2.6v4zM815.5,412.7v-36h2.6v36zM819.6,412.7v-12h2.6v12zM823.7,412.7v-15h2.6v15zM827.9,412.7v-4h2.6v4zM832,412.7v-6h2.6v6zM836.1,412.7v-18h2.6v18zM840.2,412.7v-5h2.6v5zM844.4,412.7v-5h2.6v5zM848.5,412.7v-43h2.6v43zM852.6,412.7v-12h2.6v12zM856.7,412.7v-65h2.6v65zM860.9,412.7v-54h2.6v54zM865,412.7v-30h2.6v30zM869.1,412.7v-98h2.6v98zM873.2,412.7v-77h2.6v77zM877.4,412.7v-39h2.6v39zM881.5,412.7v-20h2.6v20zM885.6,412.7v-22h2.6v22zM889.7,412.7v-76h2.6v76zM893.9,412.7v-65h2.6v65zM898,412.7v-46h2.6v46zM902.1,412.7v-52h2.6v52zM906.2,412.7v-30h2.6v30zM910.4,412.7v-51h2.6v51zM914.5,412.7v-47h2.6v47zM918.6,412.7v-44h2.6v44zM922.7,412.7v-16h2.6v16zM926.9,412.7v-101h2.6v101zM931,412.7v-72h2.6v72zM935.1,412.7v-36h2.6v36zM939.2,412.7v-18h2.6v18zM943.4,412.7v-75h2.6v75zM947.5,412.7v-53h2.6v53zM951.6,412.7v-25h2.6v25zM955.7,412.7v-20h2.6v20zM959.9,412.7v-46h2.6v46zM964,412.7v-77h2.6v77zM968.1,412.7v-57h2.6v57zM972.2,412.7v-58h2.6v58zM976.4,412.7v-44h2.6v44zM980.5,412.7v-20h2.6v20zM984.6,412.7v-55h2.6v55zM988.7,412.7v-36h2.6v36zM992.9,412.7v-18h2.6v18zM997,412.7v-63h2.6v63zM1001.1,412.7v-53h2.6v53zM1005.2,412.7v-39h2.6v39zM1009.4,412.7v-53h2.6v53zM1013.5,412.7v-37h2.6v37zM1017.6,412.7v-71h2.6v71zM1021.7,412.7v-31h2.6v31zM1025.8,412.7v-52h2.6v52zM1030,412.7v-27h2.6v27zM1034.1,412.7v-6h2.6v6zM1038.2,412.7v-4h2.6v4zM1042.3,412.7v-3h2.6v3zM1046.5,412.7v-2h2.6v2zM1050.6,412.7v-3h2.6v3z" fill="#fff" fill-opacity="0.1" clip-path="url(#hc1)"/></g>
<rect x="447.5" y="411.1" width="173.7" height="2.1" fill="#fff" fill-opacity="0.74"/>
<rect x="850.5" y="411.1" width="172.8" height="2.1" fill="#fff" fill-opacity="0.74"/>
<path d="M226,412.7L246.6,386.4C254.2,384.8 280.3,381.6 287.9,377.7C295.4,373.8 321.6,348.5 329.1,343.7C336.7,338.9 362.8,328.5 370.4,325.4C377.9,322.3 404.1,309.4 411.6,309.4C419.2,309.4 445.3,323.1 452.9,325.4C460.4,327.7 486.6,331.7 494.1,334.1C501.7,336.5 527.8,349.3 535.4,351.7C542.9,354.1 569.1,357.7 576.6,360.1C584.2,362.5 610.3,375.3 617.9,377.7C625.4,380.1 651.6,386.4 659.1,386.4C666.7,386.4 692.8,386.4 700.4,386.4C707.9,386.4 734.1,386.4 741.6,386.4C749.2,386.4 775.3,386.4 782.9,386.4C790.4,386.4 816.6,386.4 824.1,386.4C831.7,386.4 857.8,386.4 865.4,386.4C872.9,386.4 899.1,386.4 906.6,386.4C914.2,386.4 940.3,395.1 947.9,395.1C955.4,395.1 981.6,395.1 989.1,395.1C996.7,395.1 1022.8,401.8 1030.4,403.4C1037.9,405 1064.1,411 1071.6,412.7H1195.4" fill="none" stroke="#98d0c8" stroke-width="1.15" stroke-linejoin="round"/>
<path d="M226.5,413.7v5M267.8,413.7v5M309,413.7v5M350.2,413.7v5M391.5,413.7v5M432.8,413.7v5M474,413.7v5M515.2,413.7v5M556.5,413.7v5M597.8,413.7v5M639,413.7v5M680.2,413.7v5M721.5,413.7v5M762.8,413.7v5M804,413.7v5M845.2,413.7v5M886.5,413.7v5M927.8,413.7v5M969,413.7v5M1010.2,413.7v5M1051.5,413.7v5M1092.8,413.7v5M1134,413.7v5M1175.2,413.7v5M1216.5,413.7v5" stroke="#2b3f46" stroke-width="1" fill="none"/>
<g font-size="9.9" fill="#788a90" stroke="#788a90" stroke-width="0.45" text-anchor="middle">
<text x="226.2" y="431.4" textLength="5.1" lengthAdjust="spacingAndGlyphs">0</text>
<text x="267.4" y="431.4" textLength="8.2" lengthAdjust="spacingAndGlyphs">10</text>
<text x="308.7" y="431.4" textLength="10.5" lengthAdjust="spacingAndGlyphs">20</text>
<text x="349.9" y="431.4" textLength="10.5" lengthAdjust="spacingAndGlyphs">30</text>
<text x="391.2" y="431.4" textLength="10.5" lengthAdjust="spacingAndGlyphs">40</text>
<text x="432.4" y="431.4" textLength="10.5" lengthAdjust="spacingAndGlyphs">50</text>
<text x="473.7" y="431.4" textLength="10.5" lengthAdjust="spacingAndGlyphs">60</text>
<text x="515" y="431.4" textLength="10.5" lengthAdjust="spacingAndGlyphs">70</text>
<text x="556.2" y="431.4" textLength="10.5" lengthAdjust="spacingAndGlyphs">80</text>
<text x="597.5" y="431.4" textLength="10.5" lengthAdjust="spacingAndGlyphs">90</text>
<text x="638.7" y="431.4" textLength="13.6" lengthAdjust="spacingAndGlyphs">100</text>
<text x="680" y="431.4" textLength="11.2" lengthAdjust="spacingAndGlyphs">110</text>
<text x="721.2" y="431.4" textLength="13.6" lengthAdjust="spacingAndGlyphs">120</text>
<text x="762.5" y="431.4" textLength="13.6" lengthAdjust="spacingAndGlyphs">130</text>
<text x="803.7" y="431.4" textLength="13.6" lengthAdjust="spacingAndGlyphs">140</text>
<text x="845" y="431.4" textLength="13.6" lengthAdjust="spacingAndGlyphs">150</text>
<text x="886.2" y="431.4" textLength="13.6" lengthAdjust="spacingAndGlyphs">160</text>
<text x="927.5" y="431.4" textLength="13.6" lengthAdjust="spacingAndGlyphs">170</text>
<text x="968.7" y="431.4" textLength="13.6" lengthAdjust="spacingAndGlyphs">180</text>
<text x="1010" y="431.4" textLength="13.6" lengthAdjust="spacingAndGlyphs">190</text>
<text x="1051.2" y="431.4" textLength="16" lengthAdjust="spacingAndGlyphs">200</text>
<text x="1092.5" y="431.4" textLength="13.6" lengthAdjust="spacingAndGlyphs">210</text>
<text x="1133.7" y="431.4" textLength="16" lengthAdjust="spacingAndGlyphs">220</text>
<text x="1175" y="431.4" textLength="16" lengthAdjust="spacingAndGlyphs">230</text>
<text x="1216.2" y="431.4" textLength="16" lengthAdjust="spacingAndGlyphs">240</text>
</g>
<g>
<circle cx="246.6" cy="386.4" r="4.9" fill="#0f1b20" fill-opacity="0.35"/>
<circle cx="246.6" cy="386.4" r="3.35" fill="#a8e4da" stroke="#1f4a4a" stroke-width="1.3"/>
<circle cx="246.6" cy="386.4" r="1.1" fill="#e0fffa" fill-opacity="0.6"/>
<circle cx="287.9" cy="377.7" r="4.9" fill="#0f1b20" fill-opacity="0.35"/>
<circle cx="287.9" cy="377.7" r="3.35" fill="#a8e4da" stroke="#1f4a4a" stroke-width="1.3"/>
<circle cx="287.9" cy="377.7" r="1.1" fill="#e0fffa" fill-opacity="0.6"/>
<circle cx="329.1" cy="343.7" r="4.9" fill="#0f1b20" fill-opacity="0.35"/>
<circle cx="329.1" cy="343.7" r="3.35" fill="#a8e4da" stroke="#1f4a4a" stroke-width="1.3"/>
<circle cx="329.1" cy="343.7" r="1.1" fill="#e0fffa" fill-opacity="0.6"/>
<circle cx="370.4" cy="325.4" r="4.9" fill="#0f1b20" fill-opacity="0.35"/>
<circle cx="370.4" cy="325.4" r="3.35" fill="#a8e4da" stroke="#1f4a4a" stroke-width="1.3"/>
<circle cx="370.4" cy="325.4" r="1.1" fill="#e0fffa" fill-opacity="0.6"/>
<circle cx="411.6" cy="309.4" r="4.9" fill="#0f1b20" fill-opacity="0.35"/>
<circle cx="411.6" cy="309.4" r="3.35" fill="#a8e4da" stroke="#1f4a4a" stroke-width="1.3"/>
<circle cx="411.6" cy="309.4" r="1.1" fill="#e0fffa" fill-opacity="0.6"/>
<circle cx="452.9" cy="325.4" r="4.9" fill="#0f1b20" fill-opacity="0.35"/>
<circle cx="452.9" cy="325.4" r="3.35" fill="#a8e4da" stroke="#1f4a4a" stroke-width="1.3"/>
<circle cx="452.9" cy="325.4" r="1.1" fill="#e0fffa" fill-opacity="0.6"/>
<circle cx="494.1" cy="334.1" r="4.9" fill="#0f1b20" fill-opacity="0.35"/>
<circle cx="494.1" cy="334.1" r="3.35" fill="#a8e4da" stroke="#1f4a4a" stroke-width="1.3"/>
<circle cx="494.1" cy="334.1" r="1.1" fill="#e0fffa" fill-opacity="0.6"/>
<circle cx="535.4" cy="351.7" r="4.9" fill="#0f1b20" fill-opacity="0.35"/>
<circle cx="535.4" cy="351.7" r="3.35" fill="#a8e4da" stroke="#1f4a4a" stroke-width="1.3"/>
<circle cx="535.4" cy="351.7" r="1.1" fill="#e0fffa" fill-opacity="0.6"/>
<circle cx="576.6" cy="360.1" r="4.9" fill="#0f1b20" fill-opacity="0.35"/>
<circle cx="576.6" cy="360.1" r="3.35" fill="#a8e4da" stroke="#1f4a4a" stroke-width="1.3"/>
<circle cx="576.6" cy="360.1" r="1.1" fill="#e0fffa" fill-opacity="0.6"/>
<circle cx="617.9" cy="377.7" r="4.9" fill="#0f1b20" fill-opacity="0.35"/>
<circle cx="617.9" cy="377.7" r="3.35" fill="#a8e4da" stroke="#1f4a4a" stroke-width="1.3"/>
<circle cx="617.9" cy="377.7" r="1.1" fill="#e0fffa" fill-opacity="0.6"/>
<circle cx="659.1" cy="386.4" r="4.9" fill="#0f1b20" fill-opacity="0.35"/>
<circle cx="659.1" cy="386.4" r="3.35" fill="#a8e4da" stroke="#1f4a4a" stroke-width="1.3"/>
<circle cx="659.1" cy="386.4" r="1.1" fill="#e0fffa" fill-opacity="0.6"/>
<circle cx="700.4" cy="386.4" r="4.9" fill="#0f1b20" fill-opacity="0.35"/>
<circle cx="700.4" cy="386.4" r="3.35" fill="#a8e4da" stroke="#1f4a4a" stroke-width="1.3"/>
<circle cx="700.4" cy="386.4" r="1.1" fill="#e0fffa" fill-opacity="0.6"/>
<circle cx="741.6" cy="386.4" r="4.9" fill="#0f1b20" fill-opacity="0.35"/>
<circle cx="741.6" cy="386.4" r="3.35" fill="#a8e4da" stroke="#1f4a4a" stroke-width="1.3"/>
<circle cx="741.6" cy="386.4" r="1.1" fill="#e0fffa" fill-opacity="0.6"/>
<circle cx="782.9" cy="386.4" r="4.9" fill="#0f1b20" fill-opacity="0.35"/>
<circle cx="782.9" cy="386.4" r="3.35" fill="#a8e4da" stroke="#1f4a4a" stroke-width="1.3"/>
<circle cx="782.9" cy="386.4" r="1.1" fill="#e0fffa" fill-opacity="0.6"/>
<circle cx="824.1" cy="386.4" r="4.9" fill="#0f1b20" fill-opacity="0.35"/>
<circle cx="824.1" cy="386.4" r="3.35" fill="#a8e4da" stroke="#1f4a4a" stroke-width="1.3"/>
<circle cx="824.1" cy="386.4" r="1.1" fill="#e0fffa" fill-opacity="0.6"/>
<circle cx="865.4" cy="386.4" r="4.9" fill="#0f1b20" fill-opacity="0.35"/>
<circle cx="865.4" cy="386.4" r="3.35" fill="#a8e4da" stroke="#1f4a4a" stroke-width="1.3"/>
<circle cx="865.4" cy="386.4" r="1.1" fill="#e0fffa" fill-opacity="0.6"/>
<circle cx="906.6" cy="386.4" r="4.9" fill="#0f1b20" fill-opacity="0.35"/>
<circle cx="906.6" cy="386.4" r="3.35" fill="#a8e4da" stroke="#1f4a4a" stroke-width="1.3"/>
<circle cx="906.6" cy="386.4" r="1.1" fill="#e0fffa" fill-opacity="0.6"/>
<circle cx="947.9" cy="395.1" r="4.9" fill="#0f1b20" fill-opacity="0.35"/>
<circle cx="947.9" cy="395.1" r="3.35" fill="#a8e4da" stroke="#1f4a4a" stroke-width="1.3"/>
<circle cx="947.9" cy="395.1" r="1.1" fill="#e0fffa" fill-opacity="0.6"/>
<circle cx="989.1" cy="395.1" r="4.9" fill="#0f1b20" fill-opacity="0.35"/>
<circle cx="989.1" cy="395.1" r="3.35" fill="#a8e4da" stroke="#1f4a4a" stroke-width="1.3"/>
<circle cx="989.1" cy="395.1" r="1.1" fill="#e0fffa" fill-opacity="0.6"/>
<circle cx="1030.4" cy="403.4" r="4.9" fill="#0f1b20" fill-opacity="0.35"/>
<circle cx="1030.4" cy="403.4" r="3.35" fill="#a8e4da" stroke="#1f4a4a" stroke-width="1.3"/>
<circle cx="1030.4" cy="403.4" r="1.1" fill="#e0fffa" fill-opacity="0.6"/>
<circle cx="1071.6" cy="412.7" r="4.9" fill="#0f1b20" fill-opacity="0.35"/>
<circle cx="1071.6" cy="412.7" r="3.35" fill="#a8e4da" stroke="#1f4a4a" stroke-width="1.3"/>
<circle cx="1071.6" cy="412.7" r="1.1" fill="#e0fffa" fill-opacity="0.6"/>
<circle cx="1112.9" cy="412.7" r="4.9" fill="#0f1b20" fill-opacity="0.35"/>
<circle cx="1112.9" cy="412.7" r="3.35" fill="#a8e4da" stroke="#1f4a4a" stroke-width="1.3"/>
<circle cx="1112.9" cy="412.7" r="1.1" fill="#e0fffa" fill-opacity="0.6"/>
<circle cx="1154.1" cy="412.7" r="4.9" fill="#0f1b20" fill-opacity="0.35"/>
<circle cx="1154.1" cy="412.7" r="3.35" fill="#a8e4da" stroke="#1f4a4a" stroke-width="1.3"/>
<circle cx="1154.1" cy="412.7" r="1.1" fill="#e0fffa" fill-opacity="0.6"/>
<circle cx="1195.4" cy="412.7" r="4.9" fill="#0f1b20" fill-opacity="0.35"/>
<circle cx="1195.4" cy="412.7" r="3.35" fill="#a8e4da" stroke="#1f4a4a" stroke-width="1.3"/>
<circle cx="1195.4" cy="412.7" r="1.1" fill="#e0fffa" fill-opacity="0.6"/>
</g>
<g fill="#9cd6cc" text-anchor="middle" font-size="10.6" stroke="#9cd6cc" stroke-width="0.38" lengthAdjust="spacingAndGlyphs">
<text x="240.6" y="375.7" text-anchor="start" textLength="6.6" lengthAdjust="spacingAndGlyphs">3</text><text x="247.7" y="375.7" text-anchor="start" font-size="9.2" stroke-width="0.3" textLength="5.5" lengthAdjust="spacingAndGlyphs">%</text>
<text x="281.9" y="367" text-anchor="start" textLength="6.6" lengthAdjust="spacingAndGlyphs">5</text><text x="289" y="367" text-anchor="start" font-size="9.2" stroke-width="0.3" textLength="5.5" lengthAdjust="spacingAndGlyphs">%</text>
<text x="323.1" y="333" text-anchor="start" textLength="6.6" lengthAdjust="spacingAndGlyphs">8</text><text x="330.2" y="333" text-anchor="start" font-size="9.2" stroke-width="0.3" textLength="5.5" lengthAdjust="spacingAndGlyphs">%</text>
<text x="362.9" y="314.7" text-anchor="start" textLength="9.6" lengthAdjust="spacingAndGlyphs">10</text><text x="373" y="314.7" text-anchor="start" font-size="9.2" stroke-width="0.3" textLength="5.5" lengthAdjust="spacingAndGlyphs">%</text>
<text x="404.1" y="298.7" text-anchor="start" textLength="9.6" lengthAdjust="spacingAndGlyphs">12</text><text x="414.2" y="298.7" text-anchor="start" font-size="9.2" stroke-width="0.3" textLength="5.5" lengthAdjust="spacingAndGlyphs">%</text>
<text x="445.4" y="314.7" text-anchor="start" textLength="9.6" lengthAdjust="spacingAndGlyphs">10</text><text x="455.5" y="314.7" text-anchor="start" font-size="9.2" stroke-width="0.3" textLength="5.5" lengthAdjust="spacingAndGlyphs">%</text>
<text x="488.1" y="323.4" text-anchor="start" textLength="6.6" lengthAdjust="spacingAndGlyphs">9</text><text x="495.2" y="323.4" text-anchor="start" font-size="9.2" stroke-width="0.3" textLength="5.5" lengthAdjust="spacingAndGlyphs">%</text>
<text x="529.4" y="341" text-anchor="start" textLength="6.6" lengthAdjust="spacingAndGlyphs">7</text><text x="536.5" y="341" text-anchor="start" font-size="9.2" stroke-width="0.3" textLength="5.5" lengthAdjust="spacingAndGlyphs">%</text>
<text x="570.6" y="349.4" text-anchor="start" textLength="6.6" lengthAdjust="spacingAndGlyphs">6</text><text x="577.7" y="349.4" text-anchor="start" font-size="9.2" stroke-width="0.3" textLength="5.5" lengthAdjust="spacingAndGlyphs">%</text>
<text x="611.9" y="367" text-anchor="start" textLength="6.6" lengthAdjust="spacingAndGlyphs">4</text><text x="619" y="367" text-anchor="start" font-size="9.2" stroke-width="0.3" textLength="5.5" lengthAdjust="spacingAndGlyphs">%</text>
<text x="653.1" y="375.7" text-anchor="start" textLength="6.6" lengthAdjust="spacingAndGlyphs">3</text><text x="660.2" y="375.7" text-anchor="start" font-size="9.2" stroke-width="0.3" textLength="5.5" lengthAdjust="spacingAndGlyphs">%</text>
<text x="694.4" y="375.7" text-anchor="start" textLength="6.6" lengthAdjust="spacingAndGlyphs">3</text><text x="701.5" y="375.7" text-anchor="start" font-size="9.2" stroke-width="0.3" textLength="5.5" lengthAdjust="spacingAndGlyphs">%</text>
<text x="735.6" y="375.7" text-anchor="start" textLength="6.6" lengthAdjust="spacingAndGlyphs">3</text><text x="742.7" y="375.7" text-anchor="start" font-size="9.2" stroke-width="0.3" textLength="5.5" lengthAdjust="spacingAndGlyphs">%</text>
<text x="776.9" y="375.7" text-anchor="start" textLength="6.6" lengthAdjust="spacingAndGlyphs">3</text><text x="784" y="375.7" text-anchor="start" font-size="9.2" stroke-width="0.3" textLength="5.5" lengthAdjust="spacingAndGlyphs">%</text>
<text x="818.1" y="375.7" text-anchor="start" textLength="6.6" lengthAdjust="spacingAndGlyphs">3</text><text x="825.2" y="375.7" text-anchor="start" font-size="9.2" stroke-width="0.3" textLength="5.5" lengthAdjust="spacingAndGlyphs">%</text>
<text x="859.4" y="375.7" text-anchor="start" textLength="6.6" lengthAdjust="spacingAndGlyphs">3</text><text x="866.5" y="375.7" text-anchor="start" font-size="9.2" stroke-width="0.3" textLength="5.5" lengthAdjust="spacingAndGlyphs">%</text>
<text x="900.6" y="375.7" text-anchor="start" textLength="6.6" lengthAdjust="spacingAndGlyphs">3</text><text x="907.7" y="375.7" text-anchor="start" font-size="9.2" stroke-width="0.3" textLength="5.5" lengthAdjust="spacingAndGlyphs">%</text>
<text x="941.9" y="384.4" text-anchor="start" textLength="6.6" lengthAdjust="spacingAndGlyphs">2</text><text x="949" y="384.4" text-anchor="start" font-size="9.2" stroke-width="0.3" textLength="5.5" lengthAdjust="spacingAndGlyphs">%</text>
<text x="983.1" y="384.4" text-anchor="start" textLength="6.6" lengthAdjust="spacingAndGlyphs">2</text><text x="990.2" y="384.4" text-anchor="start" font-size="9.2" stroke-width="0.3" textLength="5.5" lengthAdjust="spacingAndGlyphs">%</text>
<text x="1024.4" y="392.7" text-anchor="start" textLength="6.6" lengthAdjust="spacingAndGlyphs">1</text><text x="1031.5" y="392.7" text-anchor="start" font-size="9.2" stroke-width="0.3" textLength="5.5" lengthAdjust="spacingAndGlyphs">%</text>
<text x="1065.6" y="402" text-anchor="start" textLength="6.6" lengthAdjust="spacingAndGlyphs">0</text><text x="1072.7" y="402" text-anchor="start" font-size="9.2" stroke-width="0.3" textLength="5.5" lengthAdjust="spacingAndGlyphs">%</text>
<text x="1106.9" y="402" text-anchor="start" textLength="6.6" lengthAdjust="spacingAndGlyphs">0</text><text x="1114" y="402" text-anchor="start" font-size="9.2" stroke-width="0.3" textLength="5.5" lengthAdjust="spacingAndGlyphs">%</text>
<text x="1148.1" y="402" text-anchor="start" textLength="6.6" lengthAdjust="spacingAndGlyphs">0</text><text x="1155.2" y="402" text-anchor="start" font-size="9.2" stroke-width="0.3" textLength="5.5" lengthAdjust="spacingAndGlyphs">%</text>
<text x="1189.4" y="402" text-anchor="start" textLength="6.6" lengthAdjust="spacingAndGlyphs">0</text><text x="1196.5" y="402" text-anchor="start" font-size="9.2" stroke-width="0.3" textLength="5.5" lengthAdjust="spacingAndGlyphs">%</text>
</g>
<text x="205.5" y="265.8" font-size="12.6" fill="#a2d0c9" stroke="#a2d0c9" stroke-width="0.15" letter-spacing="0.55" textLength="87" lengthAdjust="spacingAndGlyphs">ALAN WALKER</text>
<text x="206.2" y="282.8" font-size="18.0" font-weight="bold" fill="#8fdcd0" stroke="#8fdcd0" stroke-width="1.85" stroke-linejoin="miter" textLength="61.2" lengthAdjust="spacingAndGlyphs">FADED</text>
<rect x="485.3" y="278" width="155.7" height="31.3" fill="#000" fill-opacity="0.35" filter="url(#sh)"/>
<path d="M486.3,276H638q2,0 2,2V305.3q0,2 -2,2H570.3l-8,7.2l-8,-7.2H486.3q-2,0 -2,-2V278q0,-2 2,-2z" fill="#1d2e35"/>
<text font-size="9.7" fill="#f4f7f7" text-anchor="middle" stroke="#f4f7f7" stroke-width="0.3"><tspan x="562.1" y="288.9">Electronic dance music tracks</tspan><tspan x="562.1" y="299.6">usually have only one peak</tspan></text>
<rect x="879.3" y="271.3" width="97.4" height="30.7" fill="#000" fill-opacity="0.35" filter="url(#sh)"/>
<path d="M880.3,269.3H973.7q2,0 2,2V298q0,2 -2,2H935l-8,7.2l-8,-7.2H880.3q-2,0 -2,-2V271.3q0,-2 2,-2z" fill="#1d2e35"/>
<text font-size="9.7" fill="#f4f7f7" text-anchor="middle" stroke="#f4f7f7" stroke-width="0.3"><tspan x="927" y="282.2">High volume but few</tspan><tspan x="927" y="292.9">Shazams</tspan></text>
<circle cx="1356.6" cy="310.5" r="58.4" fill="url(#cg1)" stroke="#477370" stroke-width="1.2"/>
<circle cx="1306.4" cy="310.5" r="11.4" fill="#5fa39b" fill-opacity="0.1" stroke="#538a85" stroke-width="1.1"/>
<circle cx="1306.4" cy="310.5" r="6.3" fill="none" stroke="#538a85" stroke-opacity="0.35" stroke-width="0.8"/>
<circle cx="1306.4" cy="310.5" r="0.9" fill="#6fa09b"/>
<circle cx="1356.6" cy="310.5" r="0.9" fill="#6fa09b"/>
<circle cx="1412.2" cy="310.5" r="0.9" fill="#6fa09b"/>
<clipPath id="av1"><circle cx="1245" cy="310.5" r="19.6"/></clipPath>
<circle cx="1245" cy="310.5" r="21.5" fill="#15252b" fill-opacity="0.8"/>
<g clip-path="url(#av1)"><g filter="url(#bl)" transform="translate(1245,310.5)"><rect x="-22" y="-22" width="44" height="44" fill="#0a3a36"/><rect x="-22" y="-22" width="8" height="44" fill="#9fd0c6" fill-opacity="0.55"/><g transform="translate(0.5,0)"><ellipse cx="0" cy="-0.25" rx="12.2" ry="17.0" fill="#8fd8ca"/><path d="M-8,26C-8,16 -7,12 -6,9L6,9C7,13 8,17 8,26z" fill="#7ccfc0"/><ellipse cx="0" cy="0.5" rx="11" ry="16.2" fill="#7ccfc0"/><ellipse cx="1" cy="1.5" rx="6.050000000000001" ry="9.075000000000001" fill="#baf2e8" fill-opacity="0.5"/><path d="M-7,-2.4q2.4,-1.5 4.8,0M2.2,-2.4q2.4,-1.5 4.8,0" stroke="#2a7a70" stroke-width="1.7" fill="none"/><path d="M0,-0.5l-1.3,5l2.8,0.3" stroke="#2a7a70" stroke-width="0.9" stroke-opacity="0.6" fill="none"/><path d="M-3.6,8.4q3.6,1.4 7.2,0" stroke="#2a7a70" stroke-width="1.4" fill="none"/><path d="M-15,-8C-12,-4 -11,6 -8,18L-16,20z M15,-10C12,-4 12,6 8,18L17,20z" fill="#0a3a36"/><path d="M-8,17q8,5 16,0l0,8h-16z" fill="#2f8f83" fill-opacity="0.6"/></g></g></g>
<circle cx="1245" cy="310.5" r="19.8" fill="none" stroke="#6fb5aa" stroke-width="1"/>
<g font-size="9.4" text-anchor="middle" fill="#86cfc4" stroke="#86cfc4" stroke-width="0.2">
<text x="1245.3" y="355.5">Released</text>
<text x="1306" y="344">Shazams</text><text x="1306" y="355.5" textLength="29.5" lengthAdjust="spacingAndGlyphs">Q1 2016</text>
<text x="1356.5" y="344">Spotify</text><text x="1356.5" y="355.5" textLength="29.5" lengthAdjust="spacingAndGlyphs">Q1 2016</text>
<text x="1412" y="344">Total</text><text x="1412" y="355.5">UK sales</text>
</g>
<g font-size="10.8" text-anchor="middle" fill="#fff" stroke="#fff" stroke-width="0.25">
<text x="1245.3" y="366.8" textLength="53.8" lengthAdjust="spacingAndGlyphs">Dec 3, 2015</text>
<text x="1306" y="366.8">6m</text>
<text x="1356.5" y="366.8">181m</text>
<text x="1412" y="366.8">54k</text>
</g>
</g>
<g id="row2">
<clipPath id="cp2"><path d="M226,606L246.6,581C254.2,576.4 280.3,555.7 287.9,555.7C295.4,555.7 321.6,572 329.1,572C336.7,572 362.8,564 370.4,564C377.9,564 404.1,564 411.6,564C419.2,564 445.3,539 452.9,539C460.4,539 486.6,563 494.1,563C501.7,563 527.8,556 535.4,556C542.9,556 569.1,563.7 576.6,563.7C584.2,563.7 610.3,563.7 617.9,563.7C625.4,563.7 651.6,563.7 659.1,563.7C666.7,563.7 692.8,563.7 700.4,563.7C707.9,563.7 734.1,556 741.6,556C749.2,556 775.3,561.8 782.9,563.3C790.4,564.8 816.6,572 824.1,572C831.7,572 857.8,572 865.4,572C872.9,572 899.1,581.7 906.6,581.7C914.2,581.7 940.3,581.7 947.9,581.7C955.4,581.7 981.6,581.7 989.1,581.7C996.7,581.7 1022.8,581.5 1030.4,580.7C1037.9,579.9 1064.1,572.7 1071.6,572.7C1079.2,572.7 1105.3,579.1 1112.9,580.7C1120.4,582.3 1146.6,587.4 1154.1,589.7C1161.7,592 1187.8,603 1195.4,606L1195.4,606Z"/></clipPath>
<path d="M194,451.7V604.8H1437" stroke="#111d22" stroke-opacity="0.5" stroke-width="1.4" fill="none"/>
<path d="M192.6,451.7V606.3H1437" stroke="#918f52" stroke-width="1.25" fill="none"/>
<path d="M226,606L246.6,581C254.2,576.4 280.3,555.7 287.9,555.7C295.4,555.7 321.6,572 329.1,572C336.7,572 362.8,564 370.4,564C377.9,564 404.1,564 411.6,564C419.2,564 445.3,539 452.9,539C460.4,539 486.6,563 494.1,563C501.7,563 527.8,556 535.4,556C542.9,556 569.1,563.7 576.6,563.7C584.2,563.7 610.3,563.7 617.9,563.7C625.4,563.7 651.6,563.7 659.1,563.7C666.7,563.7 692.8,563.7 700.4,563.7C707.9,563.7 734.1,556 741.6,556C749.2,556 775.3,561.8 782.9,563.3C790.4,564.8 816.6,572 824.1,572C831.7,572 857.8,572 865.4,572C872.9,572 899.1,581.7 906.6,581.7C914.2,581.7 940.3,581.7 947.9,581.7C955.4,581.7 981.6,581.7 989.1,581.7C996.7,581.7 1022.8,581.5 1030.4,580.7C1037.9,579.9 1064.1,572.7 1071.6,572.7C1079.2,572.7 1105.3,579.1 1112.9,580.7C1120.4,582.3 1146.6,587.4 1154.1,589.7C1161.7,592 1187.8,603 1195.4,606" fill="none" stroke="#101c21" stroke-opacity="0.55" stroke-width="4" stroke-linejoin="round"/>
<path d="M226,606L246.6,581C254.2,576.4 280.3,555.7 287.9,555.7C295.4,555.7 321.6,572 329.1,572C336.7,572 362.8,564 370.4,564C377.9,564 404.1,564 411.6,564C419.2,564 445.3,539 452.9,539C460.4,539 486.6,563 494.1,563C501.7,563 527.8,556 535.4,556C542.9,556 569.1,563.7 576.6,563.7C584.2,563.7 610.3,563.7 617.9,563.7C625.4,563.7 651.6,563.7 659.1,563.7C666.7,563.7 692.8,563.7 700.4,563.7C707.9,563.7 734.1,556 741.6,556C749.2,556 775.3,561.8 782.9,563.3C790.4,564.8 816.6,572 824.1,572C831.7,572 857.8,572 865.4,572C872.9,572 899.1,581.7 906.6,581.7C914.2,581.7 940.3,581.7 947.9,581.7C955.4,581.7 981.6,581.7 989.1,581.7C996.7,581.7 1022.8,581.5 1030.4,580.7C1037.9,579.9 1064.1,572.7 1071.6,572.7C1079.2,572.7 1105.3,579.1 1112.9,580.7C1120.4,582.3 1146.6,587.4 1154.1,589.7C1161.7,592 1187.8,603 1195.4,606L1195.4,606Z" fill="#1c2e34"/>
<linearGradient id="sg2_0" gradientUnits="userSpaceOnUse" x1="0" y1="555.2" x2="0" y2="606"><stop offset="0" stop-color="rgb(152,137,58)"/><stop offset="1" stop-color="rgb(166,148,55)"/></linearGradient>
<rect x="225.8" y="554.2" width="166.2" height="51.8" fill="url(#sg2_0)" clip-path="url(#cp2)"/>
<linearGradient id="sg2_1" gradientUnits="userSpaceOnUse" x1="0" y1="538.5" x2="0" y2="606"><stop offset="0" stop-color="rgb(143,131,60)"/><stop offset="1" stop-color="rgb(166,148,55)"/></linearGradient>
<rect x="391.6" y="537.5" width="144.8" height="68.5" fill="url(#sg2_1)" clip-path="url(#cp2)"/>
<linearGradient id="sh2_1" gradientUnits="userSpaceOnUse" x1="0" y1="538.5" x2="0" y2="606"><stop offset="0" stop-color="rgb(255,250,215)" stop-opacity="0.0"/><stop offset="0.4" stop-color="rgb(255,250,215)" stop-opacity="0.05"/><stop offset="1" stop-color="rgb(255,250,215)" stop-opacity="0.2"/></linearGradient>
<rect x="391.8" y="537.5" width="144.4" height="68.5" fill="url(#sh2_1)" clip-path="url(#cp2)"/>
<linearGradient id="sg2_2" gradientUnits="userSpaceOnUse" x1="0" y1="555.7" x2="0" y2="606"><stop offset="0" stop-color="rgb(152,137,58)"/><stop offset="1" stop-color="rgb(166,148,55)"/></linearGradient>
<rect x="536" y="554.7" width="167" height="51.3" fill="url(#sg2_2)" clip-path="url(#cp2)"/>
<linearGradient id="sg2_3" gradientUnits="userSpaceOnUse" x1="0" y1="555.5" x2="0" y2="606"><stop offset="0" stop-color="rgb(152,137,58)"/><stop offset="1" stop-color="rgb(166,148,55)"/></linearGradient>
<rect x="702.6" y="554.5" width="144" height="51.5" fill="url(#sg2_3)" clip-path="url(#cp2)"/>
<linearGradient id="sh2_3" gradientUnits="userSpaceOnUse" x1="0" y1="555.5" x2="0" y2="606"><stop offset="0" stop-color="rgb(255,250,215)" stop-opacity="0.0"/><stop offset="0.4" stop-color="rgb(255,250,215)" stop-opacity="0.05"/><stop offset="1" stop-color="rgb(255,250,215)" stop-opacity="0.2"/></linearGradient>
<rect x="702.8" y="554.5" width="143.6" height="51.5" fill="url(#sh2_3)" clip-path="url(#cp2)"/>
<linearGradient id="sg2_4" gradientUnits="userSpaceOnUse" x1="0" y1="571.5" x2="0" y2="606"><stop offset="0" stop-color="rgb(160,144,57)"/><stop offset="1" stop-color="rgb(167,149,56)"/></linearGradient>
<rect x="846.2" y="570.5" width="177.4" height="35.5" fill="url(#sg2_4)" clip-path="url(#cp2)"/>
<linearGradient id="sg2_5" gradientUnits="userSpaceOnUse" x1="0" y1="572.2" x2="0" y2="606"><stop offset="0" stop-color="rgb(160,144,57)"/><stop offset="1" stop-color="rgb(167,149,56)"/></linearGradient>
<rect x="1023.2" y="571.2" width="172.4" height="34.8" fill="url(#sg2_5)" clip-path="url(#cp2)"/>
<linearGradient id="sh2_5" gradientUnits="userSpaceOnUse" x1="0" y1="572.2" x2="0" y2="606"><stop offset="0" stop-color="rgb(255,250,215)" stop-opacity="0.0"/><stop offset="0.4" stop-color="rgb(255,250,215)" stop-opacity="0.05"/><stop offset="1" stop-color="rgb(255,250,215)" stop-opacity="0.2"/></linearGradient>
<rect x="1023.4" y="571.2" width="172" height="34.8" fill="url(#sh2_5)" clip-path="url(#cp2)"/>
<clipPath id="co2"><path clip-rule="evenodd" d="M0,446H1620V608H0ZM226,606L246.6,581C254.2,576.4 280.3,555.7 287.9,555.7C295.4,555.7 321.6,572 329.1,572C336.7,572 362.8,564 370.4,564C377.9,564 404.1,564 411.6,564C419.2,564 445.3,539 452.9,539C460.4,539 486.6,563 494.1,563C501.7,563 527.8,556 535.4,556C542.9,556 569.1,563.7 576.6,563.7C584.2,563.7 610.3,563.7 617.9,563.7C625.4,563.7 651.6,563.7 659.1,563.7C666.7,563.7 692.8,563.7 700.4,563.7C707.9,563.7 734.1,556 741.6,556C749.2,556 775.3,561.8 782.9,563.3C790.4,564.8 816.6,572 824.1,572C831.7,572 857.8,572 865.4,572C872.9,572 899.1,581.7 906.6,581.7C914.2,581.7 940.3,581.7 947.9,581.7C955.4,581.7 981.6,581.7 989.1,581.7C996.7,581.7 1022.8,581.5 1030.4,580.7C1037.9,579.9 1064.1,572.7 1071.6,572.7C1079.2,572.7 1105.3,579.1 1112.9,580.7C1120.4,582.3 1146.6,587.4 1154.1,589.7C1161.7,592 1187.8,603 1195.4,606L1195.4,606Z"/></clipPath>
<path d="M229.7,606v-21h2.6v21zM233.8,606v-8h2.6v8zM238,606v-3h2.6v3zM242.1,606v-2h2.6v2zM246.2,606v-3h2.6v3zM250.3,606v-34h2.6v34zM254.5,606v-8h2.6v8zM258.6,606v-47h2.6v47zM262.7,606v-51h2.6v51zM266.9,606v-7h2.6v7zM271,606v-3h2.6v3zM275.1,606v-14h2.6v14zM279.2,606v-6h2.6v6zM283.4,606v-19h2.6v19zM287.5,606v-3h2.6v3zM291.6,606v-14h2.6v14zM295.7,606v-11h2.6v11zM299.9,606v-6h2.6v6zM304,606v-15h2.6v15zM308.1,606v-3h2.6v3zM312.2,606v-30h2.6v30zM316.4,606v-5h2.6v5zM320.5,606v-5h2.6v5zM324.6,606v-2h2.6v2zM328.7,606v-20h2.6v20zM332.9,606v-6h2.6v6zM337,606v-2h2.6v2zM341.1,606v-3h2.6v3zM345.2,606v-13h2.6v13zM349.4,606v-3h2.6v3zM353.5,606v-19h2.6v19zM357.6,606v-25h2.6v25zM361.7,606v-20h2.6v20zM365.9,606v-17h2.6v17zM370,606v-10h2.6v10zM374.1,606v-9h2.6v9zM378.2,606v-16h2.6v16zM382.4,606v-2h2.6v2zM386.5,606v-3h2.6v3zM390.6,606v-53h2.6v53zM394.7,606v-26h2.6v26zM398.9,606v-16h2.6v16zM403,606v-12h2.6v12zM407.1,606v-23h2.6v23zM411.2,606v-9h2.6v9zM415.4,606v-23h2.6v23zM419.5,606v-12h2.6v12zM423.6,606v-3h2.6v3zM427.7,606v-70h2.6v70zM431.9,606v-4h2.6v4zM436,606v-46h2.6v46zM440.1,606v-14h2.6v14zM444.2,606v-3h2.6v3zM448.4,606v-30h2.6v30zM452.5,606v-63h2.6v63zM456.6,606v-11h2.6v11zM460.7,606v-53h2.6v53zM464.9,606v-8h2.6v8zM469,606v-4h2.6v4zM473.1,606v-3h2.6v3zM477.2,606v-10h2.6v10zM481.4,606v-8h2.6v8zM485.5,606v-19h2.6v19zM489.6,606v-4h2.6v4zM493.7,606v-5h2.6v5zM497.9,606v-3h2.6v3zM502,606v-17h2.6v17zM506.1,606v-19h2.6v19zM510.2,606v-4h2.6v4zM514.4,606v-25h2.6v25zM518.5,606v-6h2.6v6zM522.6,606v-3h2.6v3zM526.7,606v-4h2.6v4zM530.9,606v-19h2.6v19zM535,606v-20h2.6v20zM539.1,606v-10h2.6v10zM543.2,606v-6h2.6v6zM547.4,606v-12h2.6v12zM551.5,606v-5h2.6v5zM555.6,606v-9h2.6v9zM559.7,606v-4h2.6v4zM563.9,606v-14h2.6v14zM568,606v-7h2.6v7zM572.1,606v-5h2.6v5zM576.2,606v-11h2.6v11zM580.4,606v-48h2.6v48zM584.5,606v-9h2.6v9zM588.6,606v-5h2.6v5zM592.7,606v-13h2.6v13zM596.9,606v-8h2.6v8zM601,606v-5h2.6v5zM605.1,606v-10h2.6v10zM609.2,606v-9h2.6v9zM613.4,606v-19h2.6v19zM617.5,606v-6h2.6v6zM621.6,606v-3h2.6v3zM625.7,606v-32h2.6v32zM629.9,606v-4h2.6v4zM634,606v-8h2.6v8zM638.1,606v-5h2.6v5zM642.2,606v-6h2.6v6zM646.4,606v-6h2.6v6zM650.5,606v-6h2.6v6zM654.6,606v-2h2.6v2zM658.7,606v-2h2.6v2zM662.9,606v-3h2.6v3zM667,606v-14h2.6v14zM671.1,606v-11h2.6v11zM675.2,606v-2h2.6v2zM679.4,606v-5h2.6v5zM683.5,606v-12h2.6v12zM687.6,606v-4h2.6v4zM691.7,606v-3h2.6v3zM695.9,606v-10h2.6v10zM700,606v-4h2.6v4zM704.1,606v-40h2.6v40zM708.2,606v-16h2.6v16zM712.4,606v-21h2.6v21zM716.5,606v-11h2.6v11zM720.6,606v-10h2.6v10zM724.7,606v-18h2.6v18zM728.9,606v-23h2.6v23zM733,606v-38h2.6v38zM737.1,606v-26h2.6v26zM741.2,606v-70h2.6v70zM745.4,606v-47h2.6v47zM749.5,606v-33h2.6v33zM753.6,606v-11h2.6v11zM757.7,606v-28h2.6v28zM761.9,606v-23h2.6v23zM766,606v-11h2.6v11zM770.1,606v-59h2.6v59zM774.2,606v-11h2.6v11zM778.4,606v-58h2.6v58zM782.5,606v-5h2.6v5zM786.6,606v-24h2.6v24zM790.7,606v-4h2.6v4zM794.9,606v-10h2.6v10zM799,606v-9h2.6v9zM803.1,606v-13h2.6v13zM807.2,606v-3h2.6v3zM811.4,606v-20h2.6v20zM815.5,606v-16h2.6v16zM819.6,606v-31h2.6v31zM823.7,606v-23h2.6v23zM827.9,606v-18h2.6v18zM832,606v-15h2.6v15zM836.1,606v-14h2.6v14zM840.2,606v-4h2.6v4zM844.4,606v-6h2.6v6zM848.5,606v-3h2.6v3zM852.6,606v-4h2.6v4zM856.7,606v-11h2.6v11zM860.9,606v-44h2.6v44zM865,606v-16h2.6v16zM869.1,606v-7h2.6v7zM873.2,606v-62h2.6v62zM877.4,606v-5h2.6v5zM881.5,606v-7h2.6v7zM885.6,606v-16h2.6v16zM889.7,606v-3h2.6v3zM893.9,606v-3h2.6v3zM898,606v-6h2.6v6zM902.1,606v-100h2.6v100zM906.2,606v-8h2.6v8zM910.4,606v-67h2.6v67zM914.5,606v-42h2.6v42zM918.6,606v-6h2.6v6zM922.7,606v-78h2.6v78zM926.9,606v-54h2.6v54zM931,606v-9h2.6v9zM935.1,606v-17h2.6v17zM939.2,606v-6h2.6v6zM943.4,606v-21h2.6v21zM947.5,606v-15h2.6v15zM951.6,606v-16h2.6v16zM955.7,606v-10h2.6v10zM959.9,606v-3h2.6v3zM964,606v-10h2.6v10zM968.1,606v-12h2.6v12zM972.2,606v-5h2.6v5zM976.4,606v-46h2.6v46zM980.5,606v-5h2.6v5zM984.6,606v-8h2.6v8zM988.7,606v-3h2.6v3zM992.9,606v-21h2.6v21zM997,606v-4h2.6v4zM1001.1,606v-14h2.6v14zM1005.2,606v-3h2.6v3zM1009.4,606v-3h2.6v3zM1013.5,606v-18h2.6v18zM1017.6,606v-4h2.6v4zM1021.7,606v-8h2.6v8zM1025.8,606v-4h2.6v4zM1030,606v-21h2.6v21zM1034.1,606v-7h2.6v7zM1038.2,606v-4h2.6v4zM1042.3,606v-24h2.6v24zM1046.5,606v-21h2.6v21zM1050.6,606v-8h2.6v8zM1054.7,606v-9h2.6v9zM1058.8,606v-3h2.6v3zM1063,606v-12h2.6v12zM1067.1,606v-3h2.6v3zM1071.2,606v-5h2.6v5zM1075.3,606v-5h2.6v5zM1079.5,606v-2h2.6v2zM1083.6,606v-3h2.6v3zM1087.7,606v-2h2.6v2zM1091.8,606v-4h2.6v4zM1096,606v-5h2.6v5zM1100.1,606v-7h2.6v7zM1104.2,606v-11h2.6v11zM1108.3,606v-8h2.6v8zM1112.5,606v-7h2.6v7zM1116.6,606v-5h2.6v5zM1120.7,606v-7h2.6v7zM1124.8,606v-10h2.6v10zM1129,606v-5h2.6v5zM1133.1,606v-4h2.6v4zM1137.2,606v-3h2.6v3zM1141.3,606v-33h2.6v33zM1145.5,606v-36h2.6v36zM1149.6,606v-15h2.6v15zM1153.7,606v-4h2.6v4zM1157.8,606v-8h2.6v8zM1162,606v-9h2.6v9zM1166.1,606v-42h2.6v42zM1170.2,606v-32h2.6v32zM1174.3,606v-5h2.6v5zM1178.5,606v-2h2.6v2z" fill="rgb(230,215,120)" fill-opacity="0.4" clip-path="url(#co2)"/>
<path d="M229.7,606v-21h2.6v21zM233.8,606v-8h2.6v8zM238,606v-3h2.6v3zM242.1,606v-2h2.6v2zM246.2,606v-3h2.6v3zM250.3,606v-34h2.6v34zM254.5,606v-8h2.6v8zM258.6,606v-47h2.6v47zM262.7,606v-51h2.6v51zM266.9,606v-7h2.6v7zM271,606v-3h2.6v3zM275.1,606v-14h2.6v14zM279.2,606v-6h2.6v6zM283.4,606v-19h2.6v19zM287.5,606v-3h2.6v3zM291.6,606v-14h2.6v14zM295.7,606v-11h2.6v11zM299.9,606v-6h2.6v6zM304,606v-15h2.6v15zM308.1,606v-3h2.6v3zM312.2,606v-30h2.6v30zM316.4,606v-5h2.6v5zM320.5,606v-5h2.6v5zM324.6,606v-2h2.6v2zM328.7,606v-20h2.6v20zM332.9,606v-6h2.6v6zM337,606v-2h2.6v2zM341.1,606v-3h2.6v3zM345.2,606v-13h2.6v13zM349.4,606v-3h2.6v3zM353.5,606v-19h2.6v19zM357.6,606v-25h2.6v25zM361.7,606v-20h2.6v20zM365.9,606v-17h2.6v17zM370,606v-10h2.6v10zM374.1,606v-9h2.6v9zM378.2,606v-16h2.6v16zM382.4,606v-2h2.6v2zM386.5,606v-3h2.6v3zM390.6,606v-53h2.6v53zM394.7,606v-26h2.6v26zM398.9,606v-16h2.6v16zM403,606v-12h2.6v12zM407.1,606v-23h2.6v23zM411.2,606v-9h2.6v9zM415.4,606v-23h2.6v23zM419.5,606v-12h2.6v12zM423.6,606v-3h2.6v3zM427.7,606v-70h2.6v70zM431.9,606v-4h2.6v4zM436,606v-46h2.6v46zM440.1,606v-14h2.6v14zM444.2,606v-3h2.6v3zM448.4,606v-30h2.6v30zM452.5,606v-63h2.6v63zM456.6,606v-11h2.6v11zM460.7,606v-53h2.6v53zM464.9,606v-8h2.6v8zM469,606v-4h2.6v4zM473.1,606v-3h2.6v3zM477.2,606v-10h2.6v10zM481.4,606v-8h2.6v8zM485.5,606v-19h2.6v19zM489.6,606v-4h2.6v4zM493.7,606v-5h2.6v5zM497.9,606v-3h2.6v3zM502,606v-17h2.6v17zM506.1,606v-19h2.6v19zM510.2,606v-4h2.6v4zM514.4,606v-25h2.6v25zM518.5,606v-6h2.6v6zM522.6,606v-3h2.6v3zM526.7,606v-4h2.6v4zM530.9,606v-19h2.6v19zM535,606v-20h2.6v20zM539.1,606v-10h2.6v10zM543.2,606v-6h2.6v6zM547.4,606v-12h2.6v12zM551.5,606v-5h2.6v5zM555.6,606v-9h2.6v9zM559.7,606v-4h2.6v4zM563.9,606v-14h2.6v14zM568,606v-7h2.6v7zM572.1,606v-5h2.6v5zM576.2,606v-11h2.6v11zM580.4,606v-48h2.6v48zM584.5,606v-9h2.6v9zM588.6,606v-5h2.6v5zM592.7,606v-13h2.6v13zM596.9,606v-8h2.6v8zM601,606v-5h2.6v5zM605.1,606v-10h2.6v10zM609.2,606v-9h2.6v9zM613.4,606v-19h2.6v19zM617.5,606v-6h2.6v6zM621.6,606v-3h2.6v3zM625.7,606v-32h2.6v32zM629.9,606v-4h2.6v4zM634,606v-8h2.6v8zM638.1,606v-5h2.6v5zM642.2,606v-6h2.6v6zM646.4,606v-6h2.6v6zM650.5,606v-6h2.6v6zM654.6,606v-2h2.6v2zM658.7,606v-2h2.6v2zM662.9,606v-3h2.6v3zM667,606v-14h2.6v14zM671.1,606v-11h2.6v11zM675.2,606v-2h2.6v2zM679.4,606v-5h2.6v5zM683.5,606v-12h2.6v12zM687.6,606v-4h2.6v4zM691.7,606v-3h2.6v3zM695.9,606v-10h2.6v10zM700,606v-4h2.6v4zM704.1,606v-40h2.6v40zM708.2,606v-16h2.6v16zM712.4,606v-21h2.6v21zM716.5,606v-11h2.6v11zM720.6,606v-10h2.6v10zM724.7,606v-18h2.6v18zM728.9,606v-23h2.6v23zM733,606v-38h2.6v38zM737.1,606v-26h2.6v26zM741.2,606v-70h2.6v70zM745.4,606v-47h2.6v47zM749.5,606v-33h2.6v33zM753.6,606v-11h2.6v11zM757.7,606v-28h2.6v28zM761.9,606v-23h2.6v23zM766,606v-11h2.6v11zM770.1,606v-59h2.6v59zM774.2,606v-11h2.6v11zM778.4,606v-58h2.6v58zM782.5,606v-5h2.6v5zM786.6,606v-24h2.6v24zM790.7,606v-4h2.6v4zM794.9,606v-10h2.6v10zM799,606v-9h2.6v9zM803.1,606v-13h2.6v13zM807.2,606v-3h2.6v3zM811.4,606v-20h2.6v20zM815.5,606v-16h2.6v16zM819.6,606v-31h2.6v31zM823.7,606v-23h2.6v23zM827.9,606v-18h2.6v18zM832,606v-15h2.6v15zM836.1,606v-14h2.6v14zM840.2,606v-4h2.6v4zM844.4,606v-6h2.6v6zM848.5,606v-3h2.6v3zM852.6,606v-4h2.6v4zM856.7,606v-11h2.6v11zM860.9,606v-44h2.6v44zM865,606v-16h2.6v16zM869.1,606v-7h2.6v7zM873.2,606v-62h2.6v62zM877.4,606v-5h2.6v5zM881.5,606v-7h2.6v7zM885.6,606v-16h2.6v16zM889.7,606v-3h2.6v3zM893.9,606v-3h2.6v3zM898,606v-6h2.6v6zM902.1,606v-100h2.6v100zM906.2,606v-8h2.6v8zM910.4,606v-67h2.6v67zM914.5,606v-42h2.6v42zM918.6,606v-6h2.6v6zM922.7,606v-78h2.6v78zM926.9,606v-54h2.6v54zM931,606v-9h2.6v9zM935.1,606v-17h2.6v17zM939.2,606v-6h2.6v6zM943.4,606v-21h2.6v21zM947.5,606v-15h2.6v15zM951.6,606v-16h2.6v16zM955.7,606v-10h2.6v10zM959.9,606v-3h2.6v3zM964,606v-10h2.6v10zM968.1,606v-12h2.6v12zM972.2,606v-5h2.6v5zM976.4,606v-46h2.6v46zM980.5,606v-5h2.6v5zM984.6,606v-8h2.6v8zM988.7,606v-3h2.6v3zM992.9,606v-21h2.6v21zM997,606v-4h2.6v4zM1001.1,606v-14h2.6v14zM1005.2,606v-3h2.6v3zM1009.4,606v-3h2.6v3zM1013.5,606v-18h2.6v18zM1017.6,606v-4h2.6v4zM1021.7,606v-8h2.6v8zM1025.8,606v-4h2.6v4zM1030,606v-21h2.6v21zM1034.1,606v-7h2.6v7zM1038.2,606v-4h2.6v4zM1042.3,606v-24h2.6v24zM1046.5,606v-21h2.6v21zM1050.6,606v-8h2.6v8zM1054.7,606v-9h2.6v9zM1058.8,606v-3h2.6v3zM1063,606v-12h2.6v12zM1067.1,606v-3h2.6v3zM1071.2,606v-5h2.6v5zM1075.3,606v-5h2.6v5zM1079.5,606v-2h2.6v2zM1083.6,606v-3h2.6v3zM1087.7,606v-2h2.6v2zM1091.8,606v-4h2.6v4zM1096,606v-5h2.6v5zM1100.1,606v-7h2.6v7zM1104.2,606v-11h2.6v11zM1108.3,606v-8h2.6v8zM1112.5,606v-7h2.6v7zM1116.6,606v-5h2.6v5zM1120.7,606v-7h2.6v7zM1124.8,606v-10h2.6v10zM1129,606v-5h2.6v5zM1133.1,606v-4h2.6v4zM1137.2,606v-3h2.6v3zM1141.3,606v-33h2.6v33zM1145.5,606v-36h2.6v36zM1149.6,606v-15h2.6v15zM1153.7,606v-4h2.6v4zM1157.8,606v-8h2.6v8zM1162,606v-9h2.6v9zM1166.1,606v-42h2.6v42zM1170.2,606v-32h2.6v32zM1174.3,606v-5h2.6v5zM1178.5,606v-2h2.6v2z" fill="rgb(255,235,110)" fill-opacity="0.33" clip-path="url(#cp2)"/>
<clipPath id="hc2"><path d="M391.8,476H536.2V606H391.8ZM702.8,476H846.4V606H702.8ZM1023.4,476H1195.4V606H1023.4Z"/></clipPath>
<g clip-path="url(#cp2)"><path d="M229.7,606v-21h2.6v21zM233.8,606v-8h2.6v8zM238,606v-3h2.6v3zM242.1,606v-2h2.6v2zM246.2,606v-3h2.6v3zM250.3,606v-34h2.6v34zM254.5,606v-8h2.6v8zM258.6,606v-47h2.6v47zM262.7,606v-51h2.6v51zM266.9,606v-7h2.6v7zM271,606v-3h2.6v3zM275.1,606v-14h2.6v14zM279.2,606v-6h2.6v6zM283.4,606v-19h2.6v19zM287.5,606v-3h2.6v3zM291.6,606v-14h2.6v14zM295.7,606v-11h2.6v11zM299.9,606v-6h2.6v6zM304,606v-15h2.6v15zM308.1,606v-3h2.6v3zM312.2,606v-30h2.6v30zM316.4,606v-5h2.6v5zM320.5,606v-5h2.6v5zM324.6,606v-2h2.6v2zM328.7,606v-20h2.6v20zM332.9,606v-6h2.6v6zM337,606v-2h2.6v2zM341.1,606v-3h2.6v3zM345.2,606v-13h2.6v13zM349.4,606v-3h2.6v3zM353.5,606v-19h2.6v19zM357.6,606v-25h2.6v25zM361.7,606v-20h2.6v20zM365.9,606v-17h2.6v17zM370,606v-10h2.6v10zM374.1,606v-9h2.6v9zM378.2,606v-16h2.6v16zM382.4,606v-2h2.6v2zM386.5,606v-3h2.6v3zM390.6,606v-53h2.6v53zM394.7,606v-26h2.6v26zM398.9,606v-16h2.6v16zM403,606v-12h2.6v12zM407.1,606v-23h2.6v23zM411.2,606v-9h2.6v9zM415.4,606v-23h2.6v23zM419.5,606v-12h2.6v12zM423.6,606v-3h2.6v3zM427.7,606v-70h2.6v70zM431.9,606v-4h2.6v4zM436,606v-46h2.6v46zM440.1,606v-14h2.6v14zM444.2,606v-3h2.6v3zM448.4,606v-30h2.6v30zM452.5,606v-63h2.6v63zM456.6,606v-11h2.6v11zM460.7,606v-53h2.6v53zM464.9,606v-8h2.6v8zM469,606v-4h2.6v4zM473.1,606v-3h2.6v3zM477.2,606v-10h2.6v10zM481.4,606v-8h2.6v8zM485.5,606v-19h2.6v19zM489.6,606v-4h2.6v4zM493.7,606v-5h2.6v5zM497.9,606v-3h2.6v3zM502,606v-17h2.6v17zM506.1,606v-19h2.6v19zM510.2,606v-4h2.6v4zM514.4,606v-25h2.6v25zM518.5,606v-6h2.6v6zM522.6,606v-3h2.6v3zM526.7,606v-4h2.6v4zM530.9,606v-19h2.6v19zM535,606v-20h2.6v20zM539.1,606v-10h2.6v10zM543.2,606v-6h2.6v6zM547.4,606v-12h2.6v12zM551.5,606v-5h2.6v5zM555.6,606v-9h2.6v9zM559.7,606v-4h2.6v4zM563.9,606v-14h2.6v14zM568,606v-7h2.6v7zM572.1,606v-5h2.6v5zM576.2,606v-11h2.6v11zM580.4,606v-48h2.6v48zM584.5,606v-9h2.6v9zM588.6,606v-5h2.6v5zM592.7,606v-13h2.6v13zM596.9,606v-8h2.6v8zM601,606v-5h2.6v5zM605.1,606v-10h2.6v10zM609.2,606v-9h2.6v9zM613.4,606v-19h2.6v19zM617.5,606v-6h2.6v6zM621.6,606v-3h2.6v3zM625.7,606v-32h2.6v32zM629.9,606v-4h2.6v4zM634,606v-8h2.6v8zM638.1,606v-5h2.6v5zM642.2,606v-6h2.6v6zM646.4,606v-6h2.6v6zM650.5,606v-6h2.6v6zM654.6,606v-2h2.6v2zM658.7,606v-2h2.6v2zM662.9,606v-3h2.6v3zM667,606v-14h2.6v14zM671.1,606v-11h2.6v11zM675.2,606v-2h2.6v2zM679.4,606v-5h2.6v5zM683.5,606v-12h2.6v12zM687.6,606v-4h2.6v4zM691.7,606v-3h2.6v3zM695.9,606v-10h2.6v10zM700,606v-4h2.6v4zM704.1,606v-40h2.6v40zM708.2,606v-16h2.6v16zM712.4,606v-21h2.6v21zM716.5,606v-11h2.6v11zM720.6,606v-10h2.6v10zM724.7,606v-18h2.6v18zM728.9,606v-23h2.6v23zM733,606v-38h2.6v38zM737.1,606v-26h2.6v26zM741.2,606v-70h2.6v70zM745.4,606v-47h2.6v47zM749.5,606v-33h2.6v33zM753.6,606v-11h2.6v11zM757.7,606v-28h2.6v28zM761.9,606v-23h2.6v23zM766,606v-11h2.6v11zM770.1,606v-59h2.6v59zM774.2,606v-11h2.6v11zM778.4,606v-58h2.6v58zM782.5,606v-5h2.6v5zM786.6,606v-24h2.6v24zM790.7,606v-4h2.6v4zM794.9,606v-10h2.6v10zM799,606v-9h2.6v9zM803.1,606v-13h2.6v13zM807.2,606v-3h2.6v3zM811.4,606v-20h2.6v20zM815.5,606v-16h2.6v16zM819.6,606v-31h2.6v31zM823.7,606v-23h2.6v23zM827.9,606v-18h2.6v18zM832,606v-15h2.6v15zM836.1,606v-14h2.6v14zM840.2,606v-4h2.6v4zM844.4,606v-6h2.6v6zM848.5,606v-3h2.6v3zM852.6,606v-4h2.6v4zM856.7,606v-11h2.6v11zM860.9,606v-44h2.6v44zM865,606v-16h2.6v16zM869.1,606v-7h2.6v7zM873.2,606v-62h2.6v62zM877.4,606v-5h2.6v5zM881.5,606v-7h2.6v7zM885.6,606v-16h2.6v16zM889.7,606v-3h2.6v3zM893.9,606v-3h2.6v3zM898,606v-6h2.6v6zM902.1,606v-100h2.6v100zM906.2,606v-8h2.6v8zM910.4,606v-67h2.6v67zM914.5,606v-42h2.6v42zM918.6,606v-6h2.6v6zM922.7,606v-78h2.6v78zM926.9,606v-54h2.6v54zM931,606v-9h2.6v9zM935.1,606v-17h2.6v17zM939.2,606v-6h2.6v6zM943.4,606v-21h2.6v21zM947.5,606v-15h2.6v15zM951.6,606v-16h2.6v16zM955.7,606v-10h2.6v10zM959.9,606v-3h2.6v3zM964,606v-10h2.6v10zM968.1,606v-12h2.6v12zM972.2,606v-5h2.6v5zM976.4,606v-46h2.6v46zM980.5,606v-5h2.6v5zM984.6,606v-8h2.6v8zM988.7,606v-3h2.6v3zM992.9,606v-21h2.6v21zM997,606v-4h2.6v4zM1001.1,606v-14h2.6v14zM1005.2,606v-3h2.6v3zM1009.4,606v-3h2.6v3zM1013.5,606v-18h2.6v18zM1017.6,606v-4h2.6v4zM1021.7,606v-8h2.6v8zM1025.8,606v-4h2.6v4zM1030,606v-21h2.6v21zM1034.1,606v-7h2.6v7zM1038.2,606v-4h2.6v4zM1042.3,606v-24h2.6v24zM1046.5,606v-21h2.6v21zM1050.6,606v-8h2.6v8zM1054.7,606v-9h2.6v9zM1058.8,606v-3h2.6v3zM1063,606v-12h2.6v12zM1067.1,606v-3h2.6v3zM1071.2,606v-5h2.6v5zM1075.3,606v-5h2.6v5zM1079.5,606v-2h2.6v2zM1083.6,606v-3h2.6v3zM1087.7,606v-2h2.6v2zM1091.8,606v-4h2.6v4zM1096,606v-5h2.6v5zM1100.1,606v-7h2.6v7zM1104.2,606v-11h2.6v11zM1108.3,606v-8h2.6v8zM1112.5,606v-7h2.6v7zM1116.6,606v-5h2.6v5zM1120.7,606v-7h2.6v7zM1124.8,606v-10h2.6v10zM1129,606v-5h2.6v5zM1133.1,606v-4h2.6v4zM1137.2,606v-3h2.6v3zM1141.3,606v-33h2.6v33zM1145.5,606v-36h2.6v36zM1149.6,606v-15h2.6v15zM1153.7,606v-4h2.6v4zM1157.8,606v-8h2.6v8zM1162,606v-9h2.6v9zM1166.1,606v-42h2.6v42zM1170.2,606v-32h2.6v32zM1174.3,606v-5h2.6v5zM1178.5,606v-2h2.6v2z" fill="#fff" fill-opacity="0.09" clip-path="url(#hc2)"/></g>
<rect x="391.8" y="604.4" width="144.4" height="2.1" fill="#f4f0d4" fill-opacity="0.74"/>
<rect x="702.8" y="604.4" width="143.6" height="2.1" fill="#f4f0d4" fill-opacity="0.74"/>
<rect x="1023.4" y="604.4" width="172" height="2.1" fill="#f4f0d4" fill-opacity="0.74"/>
<path d="M226,606L246.6,581C254.2,576.4 280.3,555.7 287.9,555.7C295.4,555.7 321.6,572 329.1,572C336.7,572 362.8,564 370.4,564C377.9,564 404.1,564 411.6,564C419.2,564 445.3,539 452.9,539C460.4,539 486.6,563 494.1,563C501.7,563 527.8,556 535.4,556C542.9,556 569.1,563.7 576.6,563.7C584.2,563.7 610.3,563.7 617.9,563.7C625.4,563.7 651.6,563.7 659.1,563.7C666.7,563.7 692.8,563.7 700.4,563.7C707.9,563.7 734.1,556 741.6,556C749.2,556 775.3,561.8 782.9,563.3C790.4,564.8 816.6,572 824.1,572C831.7,572 857.8,572 865.4,572C872.9,572 899.1,581.7 906.6,581.7C914.2,581.7 940.3,581.7 947.9,581.7C955.4,581.7 981.6,581.7 989.1,581.7C996.7,581.7 1022.8,581.5 1030.4,580.7C1037.9,579.9 1064.1,572.7 1071.6,572.7C1079.2,572.7 1105.3,579.1 1112.9,580.7C1120.4,582.3 1146.6,587.4 1154.1,589.7C1161.7,592 1187.8,603 1195.4,606" fill="none" stroke="#d8cc58" stroke-width="1.15" stroke-linejoin="round"/>
<path d="M226.5,607v5M267.8,607v5M309,607v5M350.2,607v5M391.5,607v5M432.8,607v5M474,607v5M515.2,607v5M556.5,607v5M597.8,607v5M639,607v5M680.2,607v5M721.5,607v5M762.8,607v5M804,607v5M845.2,607v5M886.5,607v5M927.8,607v5M969,607v5M1010.2,607v5M1051.5,607v5M1092.8,607v5M1134,607v5M1175.2,607v5M1216.5,607v5" stroke="#2b3f46" stroke-width="1" fill="none"/>
<g font-size="9.9" fill="#788a90" stroke="#788a90" stroke-width="0.45" text-anchor="middle">
<text x="226.2" y="624.7" textLength="5.1" lengthAdjust="spacingAndGlyphs">0</text>
<text x="267.4" y="624.7" textLength="8.2" lengthAdjust="spacingAndGlyphs">10</text>
<text x="308.7" y="624.7" textLength="10.5" lengthAdjust="spacingAndGlyphs">20</text>
<text x="349.9" y="624.7" textLength="10.5" lengthAdjust="spacingAndGlyphs">30</text>
<text x="391.2" y="624.7" textLength="10.5" lengthAdjust="spacingAndGlyphs">40</text>
<text x="432.4" y="624.7" textLength="10.5" lengthAdjust="spacingAndGlyphs">50</text>
<text x="473.7" y="624.7" textLength="10.5" lengthAdjust="spacingAndGlyphs">60</text>
<text x="515" y="624.7" textLength="10.5" lengthAdjust="spacingAndGlyphs">70</text>
<text x="556.2" y="624.7" textLength="10.5" lengthAdjust="spacingAndGlyphs">80</text>
<text x="597.5" y="624.7" textLength="10.5" lengthAdjust="spacingAndGlyphs">90</text>
<text x="638.7" y="624.7" textLength="13.6" lengthAdjust="spacingAndGlyphs">100</text>
<text x="680" y="624.7" textLength="11.2" lengthAdjust="spacingAndGlyphs">110</text>
<text x="721.2" y="624.7" textLength="13.6" lengthAdjust="spacingAndGlyphs">120</text>
<text x="762.5" y="624.7" textLength="13.6" lengthAdjust="spacingAndGlyphs">130</text>
<text x="803.7" y="624.7" textLength="13.6" lengthAdjust="spacingAndGlyphs">140</text>
<text x="845" y="624.7" textLength="13.6" lengthAdjust="spacingAndGlyphs">150</text>
<text x="886.2" y="624.7" textLength="13.6" lengthAdjust="spacingAndGlyphs">160</text>
<text x="927.5" y="624.7" textLength="13.6" lengthAdjust="spacingAndGlyphs">170</text>
<text x="968.7" y="624.7" textLength="13.6" lengthAdjust="spacingAndGlyphs">180</text>
<text x="1010" y="624.7" textLength="13.6" lengthAdjust="spacingAndGlyphs">190</text>
<text x="1051.2" y="624.7" textLength="16" lengthAdjust="spacingAndGlyphs">200</text>
<text x="1092.5" y="624.7" textLength="13.6" lengthAdjust="spacingAndGlyphs">210</text>
<text x="1133.7" y="624.7" textLength="16" lengthAdjust="spacingAndGlyphs">220</text>
<text x="1175" y="624.7" textLength="16" lengthAdjust="spacingAndGlyphs">230</text>
<text x="1216.2" y="624.7" textLength="16" lengthAdjust="spacingAndGlyphs">240</text>
</g>
<g>
<circle cx="246.6" cy="581" r="4.9" fill="#0f1b20" fill-opacity="0.35"/>
<circle cx="246.6" cy="581" r="3.35" fill="#fae43c" stroke="#4f4a18" stroke-width="1.3"/>
<circle cx="246.6" cy="581" r="1.1" fill="#fff7a0" fill-opacity="0.6"/>
<circle cx="287.9" cy="555.7" r="4.9" fill="#0f1b20" fill-opacity="0.35"/>
<circle cx="287.9" cy="555.7" r="3.35" fill="#fae43c" stroke="#4f4a18" stroke-width="1.3"/>
<circle cx="287.9" cy="555.7" r="1.1" fill="#fff7a0" fill-opacity="0.6"/>
<circle cx="329.1" cy="572" r="4.9" fill="#0f1b20" fill-opacity="0.35"/>
<circle cx="329.1" cy="572" r="3.35" fill="#fae43c" stroke="#4f4a18" stroke-width="1.3"/>
<circle cx="329.1" cy="572" r="1.1" fill="#fff7a0" fill-opacity="0.6"/>
<circle cx="370.4" cy="564" r="4.9" fill="#0f1b20" fill-opacity="0.35"/>
<circle cx="370.4" cy="564" r="3.35" fill="#fae43c" stroke="#4f4a18" stroke-width="1.3"/>
<circle cx="370.4" cy="564" r="1.1" fill="#fff7a0" fill-opacity="0.6"/>
<circle cx="411.6" cy="564" r="4.9" fill="#0f1b20" fill-opacity="0.35"/>
<circle cx="411.6" cy="564" r="3.35" fill="#fae43c" stroke="#4f4a18" stroke-width="1.3"/>
<circle cx="411.6" cy="564" r="1.1" fill="#fff7a0" fill-opacity="0.6"/>
<circle cx="452.9" cy="539" r="4.9" fill="#0f1b20" fill-opacity="0.35"/>
<circle cx="452.9" cy="539" r="3.35" fill="#fae43c" stroke="#4f4a18" stroke-width="1.3"/>
<circle cx="452.9" cy="539" r="1.1" fill="#fff7a0" fill-opacity="0.6"/>
<circle cx="494.1" cy="563" r="4.9" fill="#0f1b20" fill-opacity="0.35"/>
<circle cx="494.1" cy="563" r="3.35" fill="#fae43c" stroke="#4f4a18" stroke-width="1.3"/>
<circle cx="494.1" cy="563" r="1.1" fill="#fff7a0" fill-opacity="0.6"/>
<circle cx="535.4" cy="556" r="4.9" fill="#0f1b20" fill-opacity="0.35"/>
<circle cx="535.4" cy="556" r="3.35" fill="#fae43c" stroke="#4f4a18" stroke-width="1.3"/>
<circle cx="535.4" cy="556" r="1.1" fill="#fff7a0" fill-opacity="0.6"/>
<circle cx="576.6" cy="563.7" r="4.9" fill="#0f1b20" fill-opacity="0.35"/>
<circle cx="576.6" cy="563.7" r="3.35" fill="#fae43c" stroke="#4f4a18" stroke-width="1.3"/>
<circle cx="576.6" cy="563.7" r="1.1" fill="#fff7a0" fill-opacity="0.6"/>
<circle cx="617.9" cy="563.7" r="4.9" fill="#0f1b20" fill-opacity="0.35"/>
<circle cx="617.9" cy="563.7" r="3.35" fill="#fae43c" stroke="#4f4a18" stroke-width="1.3"/>
<circle cx="617.9" cy="563.7" r="1.1" fill="#fff7a0" fill-opacity="0.6"/>
<circle cx="659.1" cy="563.7" r="4.9" fill="#0f1b20" fill-opacity="0.35"/>
<circle cx="659.1" cy="563.7" r="3.35" fill="#fae43c" stroke="#4f4a18" stroke-width="1.3"/>
<circle cx="659.1" cy="563.7" r="1.1" fill="#fff7a0" fill-opacity="0.6"/>
<circle cx="700.4" cy="563.7" r="4.9" fill="#0f1b20" fill-opacity="0.35"/>
<circle cx="700.4" cy="563.7" r="3.35" fill="#fae43c" stroke="#4f4a18" stroke-width="1.3"/>
<circle cx="700.4" cy="563.7" r="1.1" fill="#fff7a0" fill-opacity="0.6"/>
<circle cx="741.6" cy="556" r="4.9" fill="#0f1b20" fill-opacity="0.35"/>
<circle cx="741.6" cy="556" r="3.35" fill="#fae43c" stroke="#4f4a18" stroke-width="1.3"/>
<circle cx="741.6" cy="556" r="1.1" fill="#fff7a0" fill-opacity="0.6"/>
<circle cx="782.9" cy="563.3" r="4.9" fill="#0f1b20" fill-opacity="0.35"/>
<circle cx="782.9" cy="563.3" r="3.35" fill="#fae43c" stroke="#4f4a18" stroke-width="1.3"/>
<circle cx="782.9" cy="563.3" r="1.1" fill="#fff7a0" fill-opacity="0.6"/>
<circle cx="824.1" cy="572" r="4.9" fill="#0f1b20" fill-opacity="0.35"/>
<circle cx="824.1" cy="572" r="3.35" fill="#fae43c" stroke="#4f4a18" stroke-width="1.3"/>
<circle cx="824.1" cy="572" r="1.1" fill="#fff7a0" fill-opacity="0.6"/>
<circle cx="865.4" cy="572" r="4.9" fill="#0f1b20" fill-opacity="0.35"/>
<circle cx="865.4" cy="572" r="3.35" fill="#fae43c" stroke="#4f4a18" stroke-width="1.3"/>
<circle cx="865.4" cy="572" r="1.1" fill="#fff7a0" fill-opacity="0.6"/>
<circle cx="906.6" cy="581.7" r="4.9" fill="#0f1b20" fill-opacity="0.35"/>
<circle cx="906.6" cy="581.7" r="3.35" fill="#fae43c" stroke="#4f4a18" stroke-width="1.3"/>
<circle cx="906.6" cy="581.7" r="1.1" fill="#fff7a0" fill-opacity="0.6"/>
<circle cx="947.9" cy="581.7" r="4.9" fill="#0f1b20" fill-opacity="0.35"/>
<circle cx="947.9" cy="581.7" r="3.35" fill="#fae43c" stroke="#4f4a18" stroke-width="1.3"/>
<circle cx="947.9" cy="581.7" r="1.1" fill="#fff7a0" fill-opacity="0.6"/>
<circle cx="989.1" cy="581.7" r="4.9" fill="#0f1b20" fill-opacity="0.35"/>
<circle cx="989.1" cy="581.7" r="3.35" fill="#fae43c" stroke="#4f4a18" stroke-width="1.3"/>
<circle cx="989.1" cy="581.7" r="1.1" fill="#fff7a0" fill-opacity="0.6"/>
<circle cx="1030.4" cy="580.7" r="4.9" fill="#0f1b20" fill-opacity="0.35"/>
<circle cx="1030.4" cy="580.7" r="3.35" fill="#fae43c" stroke="#4f4a18" stroke-width="1.3"/>
<circle cx="1030.4" cy="580.7" r="1.1" fill="#fff7a0" fill-opacity="0.6"/>
<circle cx="1071.6" cy="572.7" r="4.9" fill="#0f1b20" fill-opacity="0.35"/>
<circle cx="1071.6" cy="572.7" r="3.35" fill="#fae43c" stroke="#4f4a18" stroke-width="1.3"/>
<circle cx="1071.6" cy="572.7" r="1.1" fill="#fff7a0" fill-opacity="0.6"/>
<circle cx="1112.9" cy="580.7" r="4.9" fill="#0f1b20" fill-opacity="0.35"/>
<circle cx="1112.9" cy="580.7" r="3.35" fill="#fae43c" stroke="#4f4a18" stroke-width="1.3"/>
<circle cx="1112.9" cy="580.7" r="1.1" fill="#fff7a0" fill-opacity="0.6"/>
<circle cx="1154.1" cy="589.7" r="4.9" fill="#0f1b20" fill-opacity="0.35"/>
<circle cx="1154.1" cy="589.7" r="3.35" fill="#fae43c" stroke="#4f4a18" stroke-width="1.3"/>
<circle cx="1154.1" cy="589.7" r="1.1" fill="#fff7a0" fill-opacity="0.6"/>
<circle cx="1195.4" cy="606" r="4.9" fill="#0f1b20" fill-opacity="0.35"/>
<circle cx="1195.4" cy="606" r="3.35" fill="#fae43c" stroke="#4f4a18" stroke-width="1.3"/>
<circle cx="1195.4" cy="606" r="1.1" fill="#fff7a0" fill-opacity="0.6"/>
</g>
<g fill="#efdc50" text-anchor="middle" font-size="10.6" stroke="#efdc50" stroke-width="0.38" lengthAdjust="spacingAndGlyphs">
<text x="240.6" y="570.3" text-anchor="start" textLength="6.6" lengthAdjust="spacingAndGlyphs">3</text><text x="247.7" y="570.3" text-anchor="start" font-size="9.2" stroke-width="0.3" textLength="5.5" lengthAdjust="spacingAndGlyphs">%</text>
<text x="281.9" y="545" text-anchor="start" textLength="6.6" lengthAdjust="spacingAndGlyphs">6</text><text x="289" y="545" text-anchor="start" font-size="9.2" stroke-width="0.3" textLength="5.5" lengthAdjust="spacingAndGlyphs">%</text>
<text x="323.1" y="561.3" text-anchor="start" textLength="6.6" lengthAdjust="spacingAndGlyphs">4</text><text x="330.2" y="561.3" text-anchor="start" font-size="9.2" stroke-width="0.3" textLength="5.5" lengthAdjust="spacingAndGlyphs">%</text>
<text x="364.4" y="553.3" text-anchor="start" textLength="6.6" lengthAdjust="spacingAndGlyphs">5</text><text x="371.5" y="553.3" text-anchor="start" font-size="9.2" stroke-width="0.3" textLength="5.5" lengthAdjust="spacingAndGlyphs">%</text>
<text x="405.6" y="553.3" text-anchor="start" textLength="6.6" lengthAdjust="spacingAndGlyphs">5</text><text x="412.7" y="553.3" text-anchor="start" font-size="9.2" stroke-width="0.3" textLength="5.5" lengthAdjust="spacingAndGlyphs">%</text>
<text x="446.9" y="528.3" text-anchor="start" textLength="6.6" lengthAdjust="spacingAndGlyphs">8</text><text x="454" y="528.3" text-anchor="start" font-size="9.2" stroke-width="0.3" textLength="5.5" lengthAdjust="spacingAndGlyphs">%</text>
<text x="488.1" y="552.3" text-anchor="start" textLength="6.6" lengthAdjust="spacingAndGlyphs">5</text><text x="495.2" y="552.3" text-anchor="start" font-size="9.2" stroke-width="0.3" textLength="5.5" lengthAdjust="spacingAndGlyphs">%</text>
<text x="529.4" y="545.3" text-anchor="start" textLength="6.6" lengthAdjust="spacingAndGlyphs">6</text><text x="536.5" y="545.3" text-anchor="start" font-size="9.2" stroke-width="0.3" textLength="5.5" lengthAdjust="spacingAndGlyphs">%</text>
<text x="570.6" y="553" text-anchor="start" textLength="6.6" lengthAdjust="spacingAndGlyphs">5</text><text x="577.7" y="553" text-anchor="start" font-size="9.2" stroke-width="0.3" textLength="5.5" lengthAdjust="spacingAndGlyphs">%</text>
<text x="611.9" y="553" text-anchor="start" textLength="6.6" lengthAdjust="spacingAndGlyphs">5</text><text x="619" y="553" text-anchor="start" font-size="9.2" stroke-width="0.3" textLength="5.5" lengthAdjust="spacingAndGlyphs">%</text>
<text x="653.1" y="553" text-anchor="start" textLength="6.6" lengthAdjust="spacingAndGlyphs">5</text><text x="660.2" y="553" text-anchor="start" font-size="9.2" stroke-width="0.3" textLength="5.5" lengthAdjust="spacingAndGlyphs">%</text>
<text x="694.4" y="553" text-anchor="start" textLength="6.6" lengthAdjust="spacingAndGlyphs">5</text><text x="701.5" y="553" text-anchor="start" font-size="9.2" stroke-width="0.3" textLength="5.5" lengthAdjust="spacingAndGlyphs">%</text>
<text x="735.6" y="545.3" text-anchor="start" textLength="6.6" lengthAdjust="spacingAndGlyphs">6</text><text x="742.7" y="545.3" text-anchor="start" font-size="9.2" stroke-width="0.3" textLength="5.5" lengthAdjust="spacingAndGlyphs">%</text>
<text x="776.9" y="552.6" text-anchor="start" textLength="6.6" lengthAdjust="spacingAndGlyphs">5</text><text x="784" y="552.6" text-anchor="start" font-size="9.2" stroke-width="0.3" textLength="5.5" lengthAdjust="spacingAndGlyphs">%</text>
<text x="818.1" y="561.3" text-anchor="start" textLength="6.6" lengthAdjust="spacingAndGlyphs">4</text><text x="825.2" y="561.3" text-anchor="start" font-size="9.2" stroke-width="0.3" textLength="5.5" lengthAdjust="spacingAndGlyphs">%</text>
<text x="859.4" y="561.3" text-anchor="start" textLength="6.6" lengthAdjust="spacingAndGlyphs">4</text><text x="866.5" y="561.3" text-anchor="start" font-size="9.2" stroke-width="0.3" textLength="5.5" lengthAdjust="spacingAndGlyphs">%</text>
<text x="900.6" y="572.7" text-anchor="start" textLength="6.6" lengthAdjust="spacingAndGlyphs">3</text><text x="907.7" y="572.7" text-anchor="start" font-size="9.2" stroke-width="0.3" textLength="5.5" lengthAdjust="spacingAndGlyphs">%</text>
<text x="941.9" y="572.7" text-anchor="start" textLength="6.6" lengthAdjust="spacingAndGlyphs">3</text><text x="949" y="572.7" text-anchor="start" font-size="9.2" stroke-width="0.3" textLength="5.5" lengthAdjust="spacingAndGlyphs">%</text>
<text x="983.1" y="572.7" text-anchor="start" textLength="6.6" lengthAdjust="spacingAndGlyphs">3</text><text x="990.2" y="572.7" text-anchor="start" font-size="9.2" stroke-width="0.3" textLength="5.5" lengthAdjust="spacingAndGlyphs">%</text>
<text x="1024.4" y="571.5" text-anchor="start" textLength="6.6" lengthAdjust="spacingAndGlyphs">3</text><text x="1031.5" y="571.5" text-anchor="start" font-size="9.2" stroke-width="0.3" textLength="5.5" lengthAdjust="spacingAndGlyphs">%</text>
<text x="1065.6" y="562" text-anchor="start" textLength="6.6" lengthAdjust="spacingAndGlyphs">4</text><text x="1072.7" y="562" text-anchor="start" font-size="9.2" stroke-width="0.3" textLength="5.5" lengthAdjust="spacingAndGlyphs">%</text>
<text x="1106.9" y="571.2" text-anchor="start" textLength="6.6" lengthAdjust="spacingAndGlyphs">3</text><text x="1114" y="571.2" text-anchor="start" font-size="9.2" stroke-width="0.3" textLength="5.5" lengthAdjust="spacingAndGlyphs">%</text>
<text x="1148.1" y="579" text-anchor="start" textLength="6.6" lengthAdjust="spacingAndGlyphs">2</text><text x="1155.2" y="579" text-anchor="start" font-size="9.2" stroke-width="0.3" textLength="5.5" lengthAdjust="spacingAndGlyphs">%</text>
<text x="1189.4" y="596.3" text-anchor="start" textLength="6.6" lengthAdjust="spacingAndGlyphs">0</text><text x="1196.5" y="596.3" text-anchor="start" font-size="9.2" stroke-width="0.3" textLength="5.5" lengthAdjust="spacingAndGlyphs">%</text>
</g>
<text x="205.5" y="460.5" font-size="12.6" fill="#cdc260" stroke="#cdc260" stroke-width="0.15" letter-spacing="0.55" textLength="91" lengthAdjust="spacingAndGlyphs">JUSTIN BIEBER</text>
<text x="206.2" y="477.7" font-size="18.0" font-weight="bold" fill="#f6dc2c" stroke="#f6dc2c" stroke-width="1.85" stroke-linejoin="miter" textLength="153.4" lengthAdjust="spacingAndGlyphs">LOVE YOURSELF</text>
<rect x="313.3" y="503.7" width="87.7" height="31.6" fill="#000" fill-opacity="0.35" filter="url(#sh)"/>
<path d="M314.3,501.7H398q2,0 2,2V531.3q0,2 -2,2H362l-8,7.2l-8,-7.2H314.3q-2,0 -2,-2V503.7q0,-2 2,-2z" fill="#1d2e35"/>
<text font-size="9.7" fill="#f4f7f7" text-anchor="middle" stroke="#f4f7f7" stroke-width="0.3"><tspan x="354.6" y="514.6">Multiple spike</tspan><tspan x="354.6" y="525.3">typical of pop</tspan></text>
<rect x="725.3" y="486.3" width="129" height="29.7" fill="#000" fill-opacity="0.35" filter="url(#sh)"/>
<path d="M726.3,484.3H851.3q2,0 2,2V512q0,2 -2,2H749.7l-8,7.2l-8,-7.2H726.3q-2,0 -2,-2V486.3q0,-2 2,-2z" fill="#1d2e35"/>
<text font-size="9.7" fill="#f4f7f7" text-anchor="middle" stroke="#f4f7f7" stroke-width="0.3"><tspan x="788.8" y="497.2">Nearly 40 per cent of</tspan><tspan x="788.8" y="507.9">activity after two minutes</tspan></text>
<rect x="978.3" y="512" width="128.4" height="30.7" fill="#000" fill-opacity="0.35" filter="url(#sh)"/>
<path d="M979.3,510H1103.7q2,0 2,2V538.7q0,2 -2,2H1048.7l-8,7.2l-8,-7.2H979.3q-2,0 -2,-2V512q0,-2 2,-2z" fill="#1d2e35"/>
<text font-size="9.7" fill="#f4f7f7" text-anchor="middle" stroke="#f4f7f7" stroke-width="0.3"><tspan x="1041.5" y="522.9">Skews older, with 17 per</tspan><tspan x="1041.5" y="533.6">cent from over 35s</tspan></text>
<circle cx="1356.6" cy="505.4" r="73.4" fill="url(#cg2)" stroke="#77744a" stroke-width="1.2"/>
<circle cx="1306.4" cy="505.4" r="10.9" fill="#8a8440" fill-opacity="0.2" stroke="#9a9248" stroke-width="1.1"/>
<circle cx="1306.4" cy="505.4" r="6" fill="none" stroke="#9a9248" stroke-opacity="0.35" stroke-width="0.8"/>
<circle cx="1306.4" cy="505.4" r="1.9" fill="#f3e04a"/>
<circle cx="1356.6" cy="505.4" r="1.9" fill="#f3e04a"/>
<circle cx="1412.2" cy="505.4" r="1.9" fill="#f3e04a"/>
<clipPath id="av2"><circle cx="1245" cy="505.4" r="19.6"/></clipPath>
<circle cx="1245" cy="505.4" r="21.5" fill="#15252b" fill-opacity="0.8"/>
<g clip-path="url(#av2)"><g filter="url(#bl)" transform="translate(1245,505.4)"><rect x="-22" y="-22" width="44" height="44" fill="#e2dcd0"/><path d="M-22,22L-18,9L-7,5L8,6L19,7L22,22z" fill="#4a4220"/><g transform="translate(0,0)"><ellipse cx="0" cy="-2.25" rx="11.7" ry="16.0" fill="#9a8a22"/><path d="M-8,26C-8,16 -7,12 -6,9L6,9C7,13 8,17 8,26z" fill="#ecd018"/><ellipse cx="0" cy="4.5" rx="10.5" ry="12.8" fill="#ecd018"/><ellipse cx="1" cy="5.5" rx="5.775" ry="8.525" fill="#fbea4a" fill-opacity="0.5"/><path d="M-7,-2.4q2.4,-1.5 4.8,0M2.2,-2.4q2.4,-1.5 4.8,0" stroke="#7a6510" stroke-width="1.7" fill="none"/><path d="M0,-0.5l-1.3,5l2.8,0.3" stroke="#7a6510" stroke-width="0.9" stroke-opacity="0.6" fill="none"/><path d="M-3.6,8.4q3.6,1.4 7.2,0" stroke="#7a6510" stroke-width="1.4" fill="none"/></g></g></g>
<circle cx="1245" cy="505.4" r="19.8" fill="none" stroke="#c9c08a" stroke-width="1"/>
<g font-size="9.4" text-anchor="middle" fill="#f0dc3a" stroke="#f0dc3a" stroke-width="0.2">
<text x="1245.3" y="550.4">Released</text>
<text x="1306" y="538.7">Shazam</text><text x="1306" y="550.4" textLength="29.5" lengthAdjust="spacingAndGlyphs">Q1 2016</text>
<text x="1356.5" y="538.7">Spotify</text><text x="1356.5" y="550.4" textLength="29.5" lengthAdjust="spacingAndGlyphs">Q1 2016</text>
<text x="1412" y="538.7">Total</text><text x="1412" y="550.4">UK sales</text>
</g>
<g font-size="10.8" text-anchor="middle" fill="#fff" stroke="#fff" stroke-width="0.25">
<text x="1245.3" y="561.8" textLength="57.4" lengthAdjust="spacingAndGlyphs">Nov 14, 2015</text>
<text x="1306" y="561.8">4.9m</text>
<text x="1356.5" y="561.8">285m</text>
<text x="1412" y="561.8">264k</text>
</g>
</g>
<g id="row3">
<clipPath id="cp3"><path d="M226,800.8L246.6,791C254.2,789.7 280.3,786.7 287.9,783.7C295.4,780.7 321.6,765.8 329.1,758C336.7,750.2 362.8,699 370.4,699C377.9,699 404.1,713.2 411.6,716.3C419.2,719.4 445.3,730.7 452.9,733C460.4,735.3 486.6,739 494.1,741.3C501.7,743.6 527.8,756.4 535.4,758C542.9,759.6 569.1,758.2 576.6,759C584.2,759.8 610.3,766.3 617.9,766.3C625.4,766.3 651.6,766.3 659.1,766.3C666.7,766.3 692.8,773.2 700.4,774C707.9,774.8 734.1,775 741.6,775C749.2,775 775.3,775 782.9,775C790.4,775 816.6,775 824.1,775C831.7,775 857.8,775 865.4,775C872.9,775 899.1,775 906.6,775C914.2,775 940.3,775 947.9,775C955.4,775 981.6,775 989.1,775C996.7,775 1022.8,766.3 1030.4,766.3C1037.9,766.3 1064.1,773.1 1071.6,774.7C1079.2,776.3 1105.3,783.3 1112.9,783.3C1120.4,783.3 1146.6,783.3 1154.1,783.3C1161.7,783.3 1187.8,797.6 1195.4,800.8L1195.4,800.8Z"/></clipPath>
<path d="M194,645.7V799.6H1437" stroke="#111d22" stroke-opacity="0.5" stroke-width="1.4" fill="none"/>
<path d="M192.6,645.7V801.1H1437" stroke="#52455a" stroke-width="1.25" fill="none"/>
<path d="M226,800.8L246.6,791C254.2,789.7 280.3,786.7 287.9,783.7C295.4,780.7 321.6,765.8 329.1,758C336.7,750.2 362.8,699 370.4,699C377.9,699 404.1,713.2 411.6,716.3C419.2,719.4 445.3,730.7 452.9,733C460.4,735.3 486.6,739 494.1,741.3C501.7,743.6 527.8,756.4 535.4,758C542.9,759.6 569.1,758.2 576.6,759C584.2,759.8 610.3,766.3 617.9,766.3C625.4,766.3 651.6,766.3 659.1,766.3C666.7,766.3 692.8,773.2 700.4,774C707.9,774.8 734.1,775 741.6,775C749.2,775 775.3,775 782.9,775C790.4,775 816.6,775 824.1,775C831.7,775 857.8,775 865.4,775C872.9,775 899.1,775 906.6,775C914.2,775 940.3,775 947.9,775C955.4,775 981.6,775 989.1,775C996.7,775 1022.8,766.3 1030.4,766.3C1037.9,766.3 1064.1,773.1 1071.6,774.7C1079.2,776.3 1105.3,783.3 1112.9,783.3C1120.4,783.3 1146.6,783.3 1154.1,783.3C1161.7,783.3 1187.8,797.6 1195.4,800.8" fill="none" stroke="#101c21" stroke-opacity="0.55" stroke-width="4" stroke-linejoin="round"/>
<path d="M226,800.8L246.6,791C254.2,789.7 280.3,786.7 287.9,783.7C295.4,780.7 321.6,765.8 329.1,758C336.7,750.2 362.8,699 370.4,699C377.9,699 404.1,713.2 411.6,716.3C419.2,719.4 445.3,730.7 452.9,733C460.4,735.3 486.6,739 494.1,741.3C501.7,743.6 527.8,756.4 535.4,758C542.9,759.6 569.1,758.2 576.6,759C584.2,759.8 610.3,766.3 617.9,766.3C625.4,766.3 651.6,766.3 659.1,766.3C666.7,766.3 692.8,773.2 700.4,774C707.9,774.8 734.1,775 741.6,775C749.2,775 775.3,775 782.9,775C790.4,775 816.6,775 824.1,775C831.7,775 857.8,775 865.4,775C872.9,775 899.1,775 906.6,775C914.2,775 940.3,775 947.9,775C955.4,775 981.6,775 989.1,775C996.7,775 1022.8,766.3 1030.4,766.3C1037.9,766.3 1064.1,773.1 1071.6,774.7C1079.2,776.3 1105.3,783.3 1112.9,783.3C1120.4,783.3 1146.6,783.3 1154.1,783.3C1161.7,783.3 1187.8,797.6 1195.4,800.8L1195.4,800.8Z" fill="#1c2e34"/>
<linearGradient id="sg3_0" gradientUnits="userSpaceOnUse" x1="0" y1="770.1" x2="0" y2="800.8"><stop offset="0" stop-color="rgb(160,85,125)"/><stop offset="1" stop-color="rgb(166,88,129)"/></linearGradient>
<rect x="225.8" y="769.1" width="83.3" height="31.7" fill="url(#sg3_0)" clip-path="url(#cp3)"/>
<linearGradient id="sg3_1" gradientUnits="userSpaceOnUse" x1="0" y1="726.2" x2="0" y2="800.8"><stop offset="0" stop-color="rgb(123,67,98)"/><stop offset="1" stop-color="rgb(150,80,117)"/></linearGradient>
<rect x="308.7" y="725.2" width="42.5" height="75.6" fill="url(#sg3_1)" clip-path="url(#cp3)"/>
<linearGradient id="sh3_1" gradientUnits="userSpaceOnUse" x1="0" y1="726.2" x2="0" y2="800.8"><stop offset="0" stop-color="rgb(255,225,240)" stop-opacity="0.0"/><stop offset="0.4" stop-color="rgb(255,225,240)" stop-opacity="0.08"/><stop offset="1" stop-color="rgb(255,225,240)" stop-opacity="0.27"/></linearGradient>
<rect x="308.9" y="725.2" width="42.1" height="75.6" fill="url(#sh3_1)" clip-path="url(#cp3)"/>
<linearGradient id="sg3_2" gradientUnits="userSpaceOnUse" x1="0" y1="698.5" x2="0" y2="800.8"><stop offset="0" stop-color="rgb(104,58,84)"/><stop offset="1" stop-color="rgb(142,76,110)"/></linearGradient>
<rect x="350.8" y="697.5" width="84.6" height="103.3" fill="url(#sg3_2)" clip-path="url(#cp3)"/>
<linearGradient id="sg3_3" gradientUnits="userSpaceOnUse" x1="0" y1="725.3" x2="0" y2="800.8"><stop offset="0" stop-color="rgb(123,67,98)"/><stop offset="1" stop-color="rgb(150,80,116)"/></linearGradient>
<rect x="434.9" y="724.3" width="42.1" height="76.5" fill="url(#sg3_3)" clip-path="url(#cp3)"/>
<linearGradient id="sh3_3" gradientUnits="userSpaceOnUse" x1="0" y1="725.3" x2="0" y2="800.8"><stop offset="0" stop-color="rgb(255,225,240)" stop-opacity="0.0"/><stop offset="0.4" stop-color="rgb(255,225,240)" stop-opacity="0.08"/><stop offset="1" stop-color="rgb(255,225,240)" stop-opacity="0.27"/></linearGradient>
<rect x="435.1" y="724.3" width="41.7" height="76.5" fill="url(#sh3_3)" clip-path="url(#cp3)"/>
<linearGradient id="sg3_4" gradientUnits="userSpaceOnUse" x1="0" y1="737.3" x2="0" y2="800.8"><stop offset="0" stop-color="rgb(132,72,105)"/><stop offset="1" stop-color="rgb(154,82,120)"/></linearGradient>
<rect x="476.6" y="736.3" width="91.6" height="64.5" fill="url(#sg3_4)" clip-path="url(#cp3)"/>
<linearGradient id="sg3_5" gradientUnits="userSpaceOnUse" x1="0" y1="758.3" x2="0" y2="800.8"><stop offset="0" stop-color="rgb(150,80,118)"/><stop offset="1" stop-color="rgb(161,86,126)"/></linearGradient>
<rect x="567.8" y="757.3" width="42.5" height="43.5" fill="url(#sg3_5)" clip-path="url(#cp3)"/>
<linearGradient id="sh3_5" gradientUnits="userSpaceOnUse" x1="0" y1="758.3" x2="0" y2="800.8"><stop offset="0" stop-color="rgb(255,225,240)" stop-opacity="0.0"/><stop offset="0.4" stop-color="rgb(255,225,240)" stop-opacity="0.08"/><stop offset="1" stop-color="rgb(255,225,240)" stop-opacity="0.27"/></linearGradient>
<rect x="568" y="757.3" width="42.1" height="43.5" fill="url(#sh3_5)" clip-path="url(#cp3)"/>
<linearGradient id="sg3_6" gradientUnits="userSpaceOnUse" x1="0" y1="764.4" x2="0" y2="800.8"><stop offset="0" stop-color="rgb(155,83,122)"/><stop offset="1" stop-color="rgb(164,87,128)"/></linearGradient>
<rect x="609.8" y="763.4" width="90.3" height="37.4" fill="url(#sg3_6)" clip-path="url(#cp3)"/>
<linearGradient id="sg3_7" gradientUnits="userSpaceOnUse" x1="0" y1="773.4" x2="0" y2="800.8"><stop offset="0" stop-color="rgb(162,86,127)"/><stop offset="1" stop-color="rgb(167,88,130)"/></linearGradient>
<rect x="699.8" y="772.4" width="103.9" height="28.4" fill="url(#sg3_7)" clip-path="url(#cp3)"/>
<linearGradient id="sh3_7" gradientUnits="userSpaceOnUse" x1="0" y1="773.4" x2="0" y2="800.8"><stop offset="0" stop-color="rgb(255,225,240)" stop-opacity="0.0"/><stop offset="0.4" stop-color="rgb(255,225,240)" stop-opacity="0.08"/><stop offset="1" stop-color="rgb(255,225,240)" stop-opacity="0.27"/></linearGradient>
<rect x="700" y="772.4" width="103.5" height="28.4" fill="url(#sh3_7)" clip-path="url(#cp3)"/>
<linearGradient id="sg3_8" gradientUnits="userSpaceOnUse" x1="0" y1="774.5" x2="0" y2="800.8"><stop offset="0" stop-color="rgb(163,87,128)"/><stop offset="1" stop-color="rgb(167,89,131)"/></linearGradient>
<rect x="803.3" y="773.5" width="167.9" height="27.3" fill="url(#sg3_8)" clip-path="url(#cp3)"/>
<linearGradient id="sg3_9" gradientUnits="userSpaceOnUse" x1="0" y1="765.8" x2="0" y2="800.8"><stop offset="0" stop-color="rgb(156,83,123)"/><stop offset="1" stop-color="rgb(164,87,128)"/></linearGradient>
<rect x="970.8" y="764.8" width="224.8" height="36" fill="url(#sg3_9)" clip-path="url(#cp3)"/>
<linearGradient id="sh3_9" gradientUnits="userSpaceOnUse" x1="0" y1="765.8" x2="0" y2="800.8"><stop offset="0" stop-color="rgb(255,225,240)" stop-opacity="0.0"/><stop offset="0.4" stop-color="rgb(255,225,240)" stop-opacity="0.08"/><stop offset="1" stop-color="rgb(255,225,240)" stop-opacity="0.27"/></linearGradient>
<rect x="971" y="764.8" width="224.4" height="36" fill="url(#sh3_9)" clip-path="url(#cp3)"/>
<clipPath id="co3"><path clip-rule="evenodd" d="M0,640.8H1620V802.8H0ZM226,800.8L246.6,791C254.2,789.7 280.3,786.7 287.9,783.7C295.4,780.7 321.6,765.8 329.1,758C336.7,750.2 362.8,699 370.4,699C377.9,699 404.1,713.2 411.6,716.3C419.2,719.4 445.3,730.7 452.9,733C460.4,735.3 486.6,739 494.1,741.3C501.7,743.6 527.8,756.4 535.4,758C542.9,759.6 569.1,758.2 576.6,759C584.2,759.8 610.3,766.3 617.9,766.3C625.4,766.3 651.6,766.3 659.1,766.3C666.7,766.3 692.8,773.2 700.4,774C707.9,774.8 734.1,775 741.6,775C749.2,775 775.3,775 782.9,775C790.4,775 816.6,775 824.1,775C831.7,775 857.8,775 865.4,775C872.9,775 899.1,775 906.6,775C914.2,775 940.3,775 947.9,775C955.4,775 981.6,775 989.1,775C996.7,775 1022.8,766.3 1030.4,766.3C1037.9,766.3 1064.1,773.1 1071.6,774.7C1079.2,776.3 1105.3,783.3 1112.9,783.3C1120.4,783.3 1146.6,783.3 1154.1,783.3C1161.7,783.3 1187.8,797.6 1195.4,800.8L1195.4,800.8Z"/></clipPath>
<path d="M361.7,800.8v-2h2.6v2zM370,800.8v-3h2.6v3zM374.1,800.8v-2h2.6v2zM382.4,800.8v-3h2.6v3zM390.6,800.8v-2h2.6v2zM394.7,800.8v-3h2.6v3zM403,800.8v-2h2.6v2zM411.2,800.8v-3h2.6v3zM423.6,800.8v-2h2.6v2zM440.1,800.8v-2h2.6v2zM452.5,800.8v-3h2.6v3zM464.9,800.8v-2h2.6v2zM477.2,800.8v-3h2.6v3zM481.4,800.8v-4h2.6v4zM485.5,800.8v-3h2.6v3zM489.6,800.8v-10h2.6v10zM493.7,800.8v-4h2.6v4zM497.9,800.8v-12h2.6v12zM502,800.8v-9h2.6v9zM506.1,800.8v-8h2.6v8zM510.2,800.8v-3h2.6v3zM514.4,800.8v-7h2.6v7zM518.5,800.8v-3h2.6v3zM522.6,800.8v-4h2.6v4zM526.7,800.8v-9h2.6v9zM530.9,800.8v-17h2.6v17zM535,800.8v-31h2.6v31zM539.1,800.8v-16h2.6v16zM543.2,800.8v-21h2.6v21zM547.4,800.8v-6h2.6v6zM551.5,800.8v-15h2.6v15zM555.6,800.8v-8h2.6v8zM559.7,800.8v-28h2.6v28zM563.9,800.8v-7h2.6v7zM568,800.8v-14h2.6v14zM572.1,800.8v-29h2.6v29zM576.2,800.8v-35h2.6v35zM580.4,800.8v-15h2.6v15zM584.5,800.8v-8h2.6v8zM588.6,800.8v-6h2.6v6zM592.7,800.8v-4h2.6v4zM596.9,800.8v-25h2.6v25zM601,800.8v-19h2.6v19zM605.1,800.8v-17h2.6v17zM609.2,800.8v-14h2.6v14zM613.4,800.8v-9h2.6v9zM617.5,800.8v-11h2.6v11zM621.6,800.8v-21h2.6v21zM625.7,800.8v-6h2.6v6zM629.9,800.8v-11h2.6v11zM634,800.8v-8h2.6v8zM638.1,800.8v-5h2.6v5zM642.2,800.8v-13h2.6v13zM646.4,800.8v-14h2.6v14zM650.5,800.8v-18h2.6v18zM654.6,800.8v-10h2.6v10zM658.7,800.8v-18h2.6v18zM662.9,800.8v-6h2.6v6zM667,800.8v-4h2.6v4zM671.1,800.8v-12h2.6v12zM675.2,800.8v-13h2.6v13zM679.4,800.8v-12h2.6v12zM683.5,800.8v-15h2.6v15zM687.6,800.8v-20h2.6v20zM691.7,800.8v-30h2.6v30zM695.9,800.8v-26h2.6v26zM700,800.8v-6h2.6v6zM704.1,800.8v-18h2.6v18zM708.2,800.8v-14h2.6v14zM712.4,800.8v-54h2.6v54zM716.5,800.8v-10h2.6v10zM720.6,800.8v-12h2.6v12zM724.7,800.8v-20h2.6v20zM728.9,800.8v-6h2.6v6zM733,800.8v-18h2.6v18zM737.1,800.8v-15h2.6v15zM741.2,800.8v-9h2.6v9zM745.4,800.8v-12h2.6v12zM749.5,800.8v-6h2.6v6zM753.6,800.8v-10h2.6v10zM757.7,800.8v-14h2.6v14zM761.9,800.8v-5h2.6v5zM766,800.8v-8h2.6v8zM770.1,800.8v-3h2.6v3zM778.4,800.8v-2h2.6v2zM790.7,800.8v-3h2.6v3zM803.1,800.8v-2h2.6v2zM815.5,800.8v-2h2.6v2zM827.9,800.8v-3h2.6v3zM840.2,800.8v-2h2.6v2zM852.6,800.8v-3h2.6v3zM865,800.8v-4h2.6v4zM873.2,800.8v-3h2.6v3zM885.6,800.8v-4h2.6v4zM893.9,800.8v-5h2.6v5zM902.1,800.8v-4h2.6v4zM910.4,800.8v-5h2.6v5zM914.5,800.8v-4h2.6v4zM918.6,800.8v-6h2.6v6zM922.7,800.8v-5h2.6v5zM926.9,800.8v-10h2.6v10zM931,800.8v-8h2.6v8zM935.1,800.8v-6h2.6v6zM939.2,800.8v-12h2.6v12zM943.4,800.8v-8h2.6v8zM947.5,800.8v-15h2.6v15zM951.6,800.8v-16h2.6v16zM955.7,800.8v-18h2.6v18zM959.9,800.8v-22h2.6v22zM964,800.8v-17h2.6v17zM968.1,800.8v-20h2.6v20zM972.2,800.8v-12h2.6v12zM976.4,800.8v-25h2.6v25zM980.5,800.8v-42h2.6v42zM984.6,800.8v-57h2.6v57zM988.7,800.8v-6h2.6v6zM992.9,800.8v-10h2.6v10zM997,800.8v-5h2.6v5zM1001.1,800.8v-9h2.6v9zM1005.2,800.8v-4h2.6v4zM1009.4,800.8v-44h2.6v44zM1013.5,800.8v-9h2.6v9zM1017.6,800.8v-22h2.6v22zM1021.7,800.8v-15h2.6v15zM1025.8,800.8v-86h2.6v86zM1030,800.8v-7h2.6v7zM1034.1,800.8v-59h2.6v59zM1038.2,800.8v-5h2.6v5zM1042.3,800.8v-15h2.6v15zM1046.5,800.8v-4h2.6v4zM1050.6,800.8v-9h2.6v9zM1054.7,800.8v-18h2.6v18zM1058.8,800.8v-17h2.6v17zM1063,800.8v-101h2.6v101zM1067.1,800.8v-47h2.6v47zM1071.2,800.8v-14h2.6v14zM1075.3,800.8v-7h2.6v7zM1079.5,800.8v-7h2.6v7zM1083.6,800.8v-4h2.6v4zM1087.7,800.8v-3h2.6v3zM1091.8,800.8v-4h2.6v4zM1096,800.8v-3h2.6v3zM1104.2,800.8v-4h2.6v4zM1116.6,800.8v-3h2.6v3zM1129,800.8v-2h2.6v2zM1141.3,800.8v-3h2.6v3zM1153.7,800.8v-2h2.6v2z" fill="rgb(240,130,180)" fill-opacity="0.42" clip-path="url(#co3)"/>
<path d="M361.7,800.8v-2h2.6v2zM370,800.8v-3h2.6v3zM374.1,800.8v-2h2.6v2zM382.4,800.8v-3h2.6v3zM390.6,800.8v-2h2.6v2zM394.7,800.8v-3h2.6v3zM403,800.8v-2h2.6v2zM411.2,800.8v-3h2.6v3zM423.6,800.8v-2h2.6v2zM440.1,800.8v-2h2.6v2zM452.5,800.8v-3h2.6v3zM464.9,800.8v-2h2.6v2zM477.2,800.8v-3h2.6v3zM481.4,800.8v-4h2.6v4zM485.5,800.8v-3h2.6v3zM489.6,800.8v-10h2.6v10zM493.7,800.8v-4h2.6v4zM497.9,800.8v-12h2.6v12zM502,800.8v-9h2.6v9zM506.1,800.8v-8h2.6v8zM510.2,800.8v-3h2.6v3zM514.4,800.8v-7h2.6v7zM518.5,800.8v-3h2.6v3zM522.6,800.8v-4h2.6v4zM526.7,800.8v-9h2.6v9zM530.9,800.8v-17h2.6v17zM535,800.8v-31h2.6v31zM539.1,800.8v-16h2.6v16zM543.2,800.8v-21h2.6v21zM547.4,800.8v-6h2.6v6zM551.5,800.8v-15h2.6v15zM555.6,800.8v-8h2.6v8zM559.7,800.8v-28h2.6v28zM563.9,800.8v-7h2.6v7zM568,800.8v-14h2.6v14zM572.1,800.8v-29h2.6v29zM576.2,800.8v-35h2.6v35zM580.4,800.8v-15h2.6v15zM584.5,800.8v-8h2.6v8zM588.6,800.8v-6h2.6v6zM592.7,800.8v-4h2.6v4zM596.9,800.8v-25h2.6v25zM601,800.8v-19h2.6v19zM605.1,800.8v-17h2.6v17zM609.2,800.8v-14h2.6v14zM613.4,800.8v-9h2.6v9zM617.5,800.8v-11h2.6v11zM621.6,800.8v-21h2.6v21zM625.7,800.8v-6h2.6v6zM629.9,800.8v-11h2.6v11zM634,800.8v-8h2.6v8zM638.1,800.8v-5h2.6v5zM642.2,800.8v-13h2.6v13zM646.4,800.8v-14h2.6v14zM650.5,800.8v-18h2.6v18zM654.6,800.8v-10h2.6v10zM658.7,800.8v-18h2.6v18zM662.9,800.8v-6h2.6v6zM667,800.8v-4h2.6v4zM671.1,800.8v-12h2.6v12zM675.2,800.8v-13h2.6v13zM679.4,800.8v-12h2.6v12zM683.5,800.8v-15h2.6v15zM687.6,800.8v-20h2.6v20zM691.7,800.8v-30h2.6v30zM695.9,800.8v-26h2.6v26zM700,800.8v-6h2.6v6zM704.1,800.8v-18h2.6v18zM708.2,800.8v-14h2.6v14zM712.4,800.8v-54h2.6v54zM716.5,800.8v-10h2.6v10zM720.6,800.8v-12h2.6v12zM724.7,800.8v-20h2.6v20zM728.9,800.8v-6h2.6v6zM733,800.8v-18h2.6v18zM737.1,800.8v-15h2.6v15zM741.2,800.8v-9h2.6v9zM745.4,800.8v-12h2.6v12zM749.5,800.8v-6h2.6v6zM753.6,800.8v-10h2.6v10zM757.7,800.8v-14h2.6v14zM761.9,800.8v-5h2.6v5zM766,800.8v-8h2.6v8zM770.1,800.8v-3h2.6v3zM778.4,800.8v-2h2.6v2zM790.7,800.8v-3h2.6v3zM803.1,800.8v-2h2.6v2zM815.5,800.8v-2h2.6v2zM827.9,800.8v-3h2.6v3zM840.2,800.8v-2h2.6v2zM852.6,800.8v-3h2.6v3zM865,800.8v-4h2.6v4zM873.2,800.8v-3h2.6v3zM885.6,800.8v-4h2.6v4zM893.9,800.8v-5h2.6v5zM902.1,800.8v-4h2.6v4zM910.4,800.8v-5h2.6v5zM914.5,800.8v-4h2.6v4zM918.6,800.8v-6h2.6v6zM922.7,800.8v-5h2.6v5zM926.9,800.8v-10h2.6v10zM931,800.8v-8h2.6v8zM935.1,800.8v-6h2.6v6zM939.2,800.8v-12h2.6v12zM943.4,800.8v-8h2.6v8zM947.5,800.8v-15h2.6v15zM951.6,800.8v-16h2.6v16zM955.7,800.8v-18h2.6v18zM959.9,800.8v-22h2.6v22zM964,800.8v-17h2.6v17zM968.1,800.8v-20h2.6v20zM972.2,800.8v-12h2.6v12zM976.4,800.8v-25h2.6v25zM980.5,800.8v-42h2.6v42zM984.6,800.8v-57h2.6v57zM988.7,800.8v-6h2.6v6zM992.9,800.8v-10h2.6v10zM997,800.8v-5h2.6v5zM1001.1,800.8v-9h2.6v9zM1005.2,800.8v-4h2.6v4zM1009.4,800.8v-44h2.6v44zM1013.5,800.8v-9h2.6v9zM1017.6,800.8v-22h2.6v22zM1021.7,800.8v-15h2.6v15zM1025.8,800.8v-86h2.6v86zM1030,800.8v-7h2.6v7zM1034.1,800.8v-59h2.6v59zM1038.2,800.8v-5h2.6v5zM1042.3,800.8v-15h2.6v15zM1046.5,800.8v-4h2.6v4zM1050.6,800.8v-9h2.6v9zM1054.7,800.8v-18h2.6v18zM1058.8,800.8v-17h2.6v17zM1063,800.8v-101h2.6v101zM1067.1,800.8v-47h2.6v47zM1071.2,800.8v-14h2.6v14zM1075.3,800.8v-7h2.6v7zM1079.5,800.8v-7h2.6v7zM1083.6,800.8v-4h2.6v4zM1087.7,800.8v-3h2.6v3zM1091.8,800.8v-4h2.6v4zM1096,800.8v-3h2.6v3zM1104.2,800.8v-4h2.6v4zM1116.6,800.8v-3h2.6v3zM1129,800.8v-2h2.6v2zM1141.3,800.8v-3h2.6v3zM1153.7,800.8v-2h2.6v2z" fill="rgb(255,120,185)" fill-opacity="0.26" clip-path="url(#cp3)"/>
<clipPath id="hc3"><path d="M308.9,670.8H351V800.8H308.9ZM435.1,670.8H476.8V800.8H435.1ZM568,670.8H610V800.8H568ZM700,670.8H803.5V800.8H700ZM971,670.8H1195.4V800.8H971Z"/></clipPath>
<g clip-path="url(#cp3)"><path d="M361.7,800.8v-2h2.6v2zM370,800.8v-3h2.6v3zM374.1,800.8v-2h2.6v2zM382.4,800.8v-3h2.6v3zM390.6,800.8v-2h2.6v2zM394.7,800.8v-3h2.6v3zM403,800.8v-2h2.6v2zM411.2,800.8v-3h2.6v3zM423.6,800.8v-2h2.6v2zM440.1,800.8v-2h2.6v2zM452.5,800.8v-3h2.6v3zM464.9,800.8v-2h2.6v2zM477.2,800.8v-3h2.6v3zM481.4,800.8v-4h2.6v4zM485.5,800.8v-3h2.6v3zM489.6,800.8v-10h2.6v10zM493.7,800.8v-4h2.6v4zM497.9,800.8v-12h2.6v12zM502,800.8v-9h2.6v9zM506.1,800.8v-8h2.6v8zM510.2,800.8v-3h2.6v3zM514.4,800.8v-7h2.6v7zM518.5,800.8v-3h2.6v3zM522.6,800.8v-4h2.6v4zM526.7,800.8v-9h2.6v9zM530.9,800.8v-17h2.6v17zM535,800.8v-31h2.6v31zM539.1,800.8v-16h2.6v16zM543.2,800.8v-21h2.6v21zM547.4,800.8v-6h2.6v6zM551.5,800.8v-15h2.6v15zM555.6,800.8v-8h2.6v8zM559.7,800.8v-28h2.6v28zM563.9,800.8v-7h2.6v7zM568,800.8v-14h2.6v14zM572.1,800.8v-29h2.6v29zM576.2,800.8v-35h2.6v35zM580.4,800.8v-15h2.6v15zM584.5,800.8v-8h2.6v8zM588.6,800.8v-6h2.6v6zM592.7,800.8v-4h2.6v4zM596.9,800.8v-25h2.6v25zM601,800.8v-19h2.6v19zM605.1,800.8v-17h2.6v17zM609.2,800.8v-14h2.6v14zM613.4,800.8v-9h2.6v9zM617.5,800.8v-11h2.6v11zM621.6,800.8v-21h2.6v21zM625.7,800.8v-6h2.6v6zM629.9,800.8v-11h2.6v11zM634,800.8v-8h2.6v8zM638.1,800.8v-5h2.6v5zM642.2,800.8v-13h2.6v13zM646.4,800.8v-14h2.6v14zM650.5,800.8v-18h2.6v18zM654.6,800.8v-10h2.6v10zM658.7,800.8v-18h2.6v18zM662.9,800.8v-6h2.6v6zM667,800.8v-4h2.6v4zM671.1,800.8v-12h2.6v12zM675.2,800.8v-13h2.6v13zM679.4,800.8v-12h2.6v12zM683.5,800.8v-15h2.6v15zM687.6,800.8v-20h2.6v20zM691.7,800.8v-30h2.6v30zM695.9,800.8v-26h2.6v26zM700,800.8v-6h2.6v6zM704.1,800.8v-18h2.6v18zM708.2,800.8v-14h2.6v14zM712.4,800.8v-54h2.6v54zM716.5,800.8v-10h2.6v10zM720.6,800.8v-12h2.6v12zM724.7,800.8v-20h2.6v20zM728.9,800.8v-6h2.6v6zM733,800.8v-18h2.6v18zM737.1,800.8v-15h2.6v15zM741.2,800.8v-9h2.6v9zM745.4,800.8v-12h2.6v12zM749.5,800.8v-6h2.6v6zM753.6,800.8v-10h2.6v10zM757.7,800.8v-14h2.6v14zM761.9,800.8v-5h2.6v5zM766,800.8v-8h2.6v8zM770.1,800.8v-3h2.6v3zM778.4,800.8v-2h2.6v2zM790.7,800.8v-3h2.6v3zM803.1,800.8v-2h2.6v2zM815.5,800.8v-2h2.6v2zM827.9,800.8v-3h2.6v3zM840.2,800.8v-2h2.6v2zM852.6,800.8v-3h2.6v3zM865,800.8v-4h2.6v4zM873.2,800.8v-3h2.6v3zM885.6,800.8v-4h2.6v4zM893.9,800.8v-5h2.6v5zM902.1,800.8v-4h2.6v4zM910.4,800.8v-5h2.6v5zM914.5,800.8v-4h2.6v4zM918.6,800.8v-6h2.6v6zM922.7,800.8v-5h2.6v5zM926.9,800.8v-10h2.6v10zM931,800.8v-8h2.6v8zM935.1,800.8v-6h2.6v6zM939.2,800.8v-12h2.6v12zM943.4,800.8v-8h2.6v8zM947.5,800.8v-15h2.6v15zM951.6,800.8v-16h2.6v16zM955.7,800.8v-18h2.6v18zM959.9,800.8v-22h2.6v22zM964,800.8v-17h2.6v17zM968.1,800.8v-20h2.6v20zM972.2,800.8v-12h2.6v12zM976.4,800.8v-25h2.6v25zM980.5,800.8v-42h2.6v42zM984.6,800.8v-57h2.6v57zM988.7,800.8v-6h2.6v6zM992.9,800.8v-10h2.6v10zM997,800.8v-5h2.6v5zM1001.1,800.8v-9h2.6v9zM1005.2,800.8v-4h2.6v4zM1009.4,800.8v-44h2.6v44zM1013.5,800.8v-9h2.6v9zM1017.6,800.8v-22h2.6v22zM1021.7,800.8v-15h2.6v15zM1025.8,800.8v-86h2.6v86zM1030,800.8v-7h2.6v7zM1034.1,800.8v-59h2.6v59zM1038.2,800.8v-5h2.6v5zM1042.3,800.8v-15h2.6v15zM1046.5,800.8v-4h2.6v4zM1050.6,800.8v-9h2.6v9zM1054.7,800.8v-18h2.6v18zM1058.8,800.8v-17h2.6v17zM1063,800.8v-101h2.6v101zM1067.1,800.8v-47h2.6v47zM1071.2,800.8v-14h2.6v14zM1075.3,800.8v-7h2.6v7zM1079.5,800.8v-7h2.6v7zM1083.6,800.8v-4h2.6v4zM1087.7,800.8v-3h2.6v3zM1091.8,800.8v-4h2.6v4zM1096,800.8v-3h2.6v3zM1104.2,800.8v-4h2.6v4zM1116.6,800.8v-3h2.6v3zM1129,800.8v-2h2.6v2zM1141.3,800.8v-3h2.6v3zM1153.7,800.8v-2h2.6v2z" fill="#fff" fill-opacity="0.14" clip-path="url(#hc3)"/></g>
<rect x="308.9" y="799.2" width="42.1" height="2.1" fill="#fff" fill-opacity="0.74"/>
<rect x="435.1" y="799.2" width="41.7" height="2.1" fill="#fff" fill-opacity="0.74"/>
<rect x="568" y="799.2" width="42.1" height="2.1" fill="#fff" fill-opacity="0.74"/>
<rect x="700" y="799.2" width="103.5" height="2.1" fill="#fff" fill-opacity="0.74"/>
<rect x="971" y="799.2" width="224.4" height="2.1" fill="#fff" fill-opacity="0.74"/>
<path d="M226,800.8L246.6,791C254.2,789.7 280.3,786.7 287.9,783.7C295.4,780.7 321.6,765.8 329.1,758C336.7,750.2 362.8,699 370.4,699C377.9,699 404.1,713.2 411.6,716.3C419.2,719.4 445.3,730.7 452.9,733C460.4,735.3 486.6,739 494.1,741.3C501.7,743.6 527.8,756.4 535.4,758C542.9,759.6 569.1,758.2 576.6,759C584.2,759.8 610.3,766.3 617.9,766.3C625.4,766.3 651.6,766.3 659.1,766.3C666.7,766.3 692.8,773.2 700.4,774C707.9,774.8 734.1,775 741.6,775C749.2,775 775.3,775 782.9,775C790.4,775 816.6,775 824.1,775C831.7,775 857.8,775 865.4,775C872.9,775 899.1,775 906.6,775C914.2,775 940.3,775 947.9,775C955.4,775 981.6,775 989.1,775C996.7,775 1022.8,766.3 1030.4,766.3C1037.9,766.3 1064.1,773.1 1071.6,774.7C1079.2,776.3 1105.3,783.3 1112.9,783.3C1120.4,783.3 1146.6,783.3 1154.1,783.3C1161.7,783.3 1187.8,797.6 1195.4,800.8" fill="none" stroke="#bf7a9c" stroke-width="1.15" stroke-linejoin="round"/>
<path d="M226.5,801.8v5M267.8,801.8v5M309,801.8v5M350.2,801.8v5M391.5,801.8v5M432.8,801.8v5M474,801.8v5M515.2,801.8v5M556.5,801.8v5M597.8,801.8v5M639,801.8v5M680.2,801.8v5M721.5,801.8v5M762.8,801.8v5M804,801.8v5M845.2,801.8v5M886.5,801.8v5M927.8,801.8v5M969,801.8v5M1010.2,801.8v5M1051.5,801.8v5M1092.8,801.8v5M1134,801.8v5M1175.2,801.8v5M1216.5,801.8v5" stroke="#2b3f46" stroke-width="1" fill="none"/>
<g font-size="9.9" fill="#788a90" stroke="#788a90" stroke-width="0.45" text-anchor="middle">
<text x="226.2" y="819.5" textLength="5.1" lengthAdjust="spacingAndGlyphs">0</text>
<text x="267.4" y="819.5" textLength="8.2" lengthAdjust="spacingAndGlyphs">10</text>
<text x="308.7" y="819.5" textLength="10.5" lengthAdjust="spacingAndGlyphs">20</text>
<text x="349.9" y="819.5" textLength="10.5" lengthAdjust="spacingAndGlyphs">30</text>
<text x="391.2" y="819.5" textLength="10.5" lengthAdjust="spacingAndGlyphs">40</text>
<text x="432.4" y="819.5" textLength="10.5" lengthAdjust="spacingAndGlyphs">50</text>
<text x="473.7" y="819.5" textLength="10.5" lengthAdjust="spacingAndGlyphs">60</text>
<text x="515" y="819.5" textLength="10.5" lengthAdjust="spacingAndGlyphs">70</text>
<text x="556.2" y="819.5" textLength="10.5" lengthAdjust="spacingAndGlyphs">80</text>
<text x="597.5" y="819.5" textLength="10.5" lengthAdjust="spacingAndGlyphs">90</text>
<text x="638.7" y="819.5" textLength="13.6" lengthAdjust="spacingAndGlyphs">100</text>
<text x="680" y="819.5" textLength="11.2" lengthAdjust="spacingAndGlyphs">110</text>
<text x="721.2" y="819.5" textLength="13.6" lengthAdjust="spacingAndGlyphs">120</text>
<text x="762.5" y="819.5" textLength="13.6" lengthAdjust="spacingAndGlyphs">130</text>
<text x="803.7" y="819.5" textLength="13.6" lengthAdjust="spacingAndGlyphs">140</text>
<text x="845" y="819.5" textLength="13.6" lengthAdjust="spacingAndGlyphs">150</text>
<text x="886.2" y="819.5" textLength="13.6" lengthAdjust="spacingAndGlyphs">160</text>
<text x="927.5" y="819.5" textLength="13.6" lengthAdjust="spacingAndGlyphs">170</text>
<text x="968.7" y="819.5" textLength="13.6" lengthAdjust="spacingAndGlyphs">180</text>
<text x="1010" y="819.5" textLength="13.6" lengthAdjust="spacingAndGlyphs">190</text>
<text x="1051.2" y="819.5" textLength="16" lengthAdjust="spacingAndGlyphs">200</text>
<text x="1092.5" y="819.5" textLength="13.6" lengthAdjust="spacingAndGlyphs">210</text>
<text x="1133.7" y="819.5" textLength="16" lengthAdjust="spacingAndGlyphs">220</text>
<text x="1175" y="819.5" textLength="16" lengthAdjust="spacingAndGlyphs">230</text>
<text x="1216.2" y="819.5" textLength="16" lengthAdjust="spacingAndGlyphs">240</text>
</g>
<g>
<circle cx="246.6" cy="791" r="4.9" fill="#0f1b20" fill-opacity="0.35"/>
<circle cx="246.6" cy="791" r="3.35" fill="#f86ea8" stroke="#5e2042" stroke-width="1.3"/>
<circle cx="246.6" cy="791" r="1.1" fill="#ffb0d0" fill-opacity="0.6"/>
<circle cx="287.9" cy="783.7" r="4.9" fill="#0f1b20" fill-opacity="0.35"/>
<circle cx="287.9" cy="783.7" r="3.35" fill="#f86ea8" stroke="#5e2042" stroke-width="1.3"/>
<circle cx="287.9" cy="783.7" r="1.1" fill="#ffb0d0" fill-opacity="0.6"/>
<circle cx="329.1" cy="758" r="4.9" fill="#0f1b20" fill-opacity="0.35"/>
<circle cx="329.1" cy="758" r="3.35" fill="#f86ea8" stroke="#5e2042" stroke-width="1.3"/>
<circle cx="329.1" cy="758" r="1.1" fill="#ffb0d0" fill-opacity="0.6"/>
<circle cx="370.4" cy="699" r="4.9" fill="#0f1b20" fill-opacity="0.35"/>
<circle cx="370.4" cy="699" r="3.35" fill="#f86ea8" stroke="#5e2042" stroke-width="1.3"/>
<circle cx="370.4" cy="699" r="1.1" fill="#ffb0d0" fill-opacity="0.6"/>
<circle cx="411.6" cy="716.3" r="4.9" fill="#0f1b20" fill-opacity="0.35"/>
<circle cx="411.6" cy="716.3" r="3.35" fill="#f86ea8" stroke="#5e2042" stroke-width="1.3"/>
<circle cx="411.6" cy="716.3" r="1.1" fill="#ffb0d0" fill-opacity="0.6"/>
<circle cx="452.9" cy="733" r="4.9" fill="#0f1b20" fill-opacity="0.35"/>
<circle cx="452.9" cy="733" r="3.35" fill="#f86ea8" stroke="#5e2042" stroke-width="1.3"/>
<circle cx="452.9" cy="733" r="1.1" fill="#ffb0d0" fill-opacity="0.6"/>
<circle cx="494.1" cy="741.3" r="4.9" fill="#0f1b20" fill-opacity="0.35"/>
<circle cx="494.1" cy="741.3" r="3.35" fill="#f86ea8" stroke="#5e2042" stroke-width="1.3"/>
<circle cx="494.1" cy="741.3" r="1.1" fill="#ffb0d0" fill-opacity="0.6"/>
<circle cx="535.4" cy="758" r="4.9" fill="#0f1b20" fill-opacity="0.35"/>
<circle cx="535.4" cy="758" r="3.35" fill="#f86ea8" stroke="#5e2042" stroke-width="1.3"/>
<circle cx="535.4" cy="758" r="1.1" fill="#ffb0d0" fill-opacity="0.6"/>
<circle cx="576.6" cy="759" r="4.9" fill="#0f1b20" fill-opacity="0.35"/>
<circle cx="576.6" cy="759" r="3.35" fill="#f86ea8" stroke="#5e2042" stroke-width="1.3"/>
<circle cx="576.6" cy="759" r="1.1" fill="#ffb0d0" fill-opacity="0.6"/>
<circle cx="617.9" cy="766.3" r="4.9" fill="#0f1b20" fill-opacity="0.35"/>
<circle cx="617.9" cy="766.3" r="3.35" fill="#f86ea8" stroke="#5e2042" stroke-width="1.3"/>
<circle cx="617.9" cy="766.3" r="1.1" fill="#ffb0d0" fill-opacity="0.6"/>
<circle cx="659.1" cy="766.3" r="4.9" fill="#0f1b20" fill-opacity="0.35"/>
<circle cx="659.1" cy="766.3" r="3.35" fill="#f86ea8" stroke="#5e2042" stroke-width="1.3"/>
<circle cx="659.1" cy="766.3" r="1.1" fill="#ffb0d0" fill-opacity="0.6"/>
<circle cx="700.4" cy="774" r="4.9" fill="#0f1b20" fill-opacity="0.35"/>
<circle cx="700.4" cy="774" r="3.35" fill="#f86ea8" stroke="#5e2042" stroke-width="1.3"/>
<circle cx="700.4" cy="774" r="1.1" fill="#ffb0d0" fill-opacity="0.6"/>
<circle cx="741.6" cy="775" r="4.9" fill="#0f1b20" fill-opacity="0.35"/>
<circle cx="741.6" cy="775" r="3.35" fill="#f86ea8" stroke="#5e2042" stroke-width="1.3"/>
<circle cx="741.6" cy="775" r="1.1" fill="#ffb0d0" fill-opacity="0.6"/>
<circle cx="782.9" cy="775" r="4.9" fill="#0f1b20" fill-opacity="0.35"/>
<circle cx="782.9" cy="775" r="3.35" fill="#f86ea8" stroke="#5e2042" stroke-width="1.3"/>
<circle cx="782.9" cy="775" r="1.1" fill="#ffb0d0" fill-opacity="0.6"/>
<circle cx="824.1" cy="775" r="4.9" fill="#0f1b20" fill-opacity="0.35"/>
<circle cx="824.1" cy="775" r="3.35" fill="#f86ea8" stroke="#5e2042" stroke-width="1.3"/>
<circle cx="824.1" cy="775" r="1.1" fill="#ffb0d0" fill-opacity="0.6"/>
<circle cx="865.4" cy="775" r="4.9" fill="#0f1b20" fill-opacity="0.35"/>
<circle cx="865.4" cy="775" r="3.35" fill="#f86ea8" stroke="#5e2042" stroke-width="1.3"/>
<circle cx="865.4" cy="775" r="1.1" fill="#ffb0d0" fill-opacity="0.6"/>
<circle cx="906.6" cy="775" r="4.9" fill="#0f1b20" fill-opacity="0.35"/>
<circle cx="906.6" cy="775" r="3.35" fill="#f86ea8" stroke="#5e2042" stroke-width="1.3"/>
<circle cx="906.6" cy="775" r="1.1" fill="#ffb0d0" fill-opacity="0.6"/>
<circle cx="947.9" cy="775" r="4.9" fill="#0f1b20" fill-opacity="0.35"/>
<circle cx="947.9" cy="775" r="3.35" fill="#f86ea8" stroke="#5e2042" stroke-width="1.3"/>
<circle cx="947.9" cy="775" r="1.1" fill="#ffb0d0" fill-opacity="0.6"/>
<circle cx="989.1" cy="775" r="4.9" fill="#0f1b20" fill-opacity="0.35"/>
<circle cx="989.1" cy="775" r="3.35" fill="#f86ea8" stroke="#5e2042" stroke-width="1.3"/>
<circle cx="989.1" cy="775" r="1.1" fill="#ffb0d0" fill-opacity="0.6"/>
<circle cx="1030.4" cy="766.3" r="4.9" fill="#0f1b20" fill-opacity="0.35"/>
<circle cx="1030.4" cy="766.3" r="3.35" fill="#f86ea8" stroke="#5e2042" stroke-width="1.3"/>
<circle cx="1030.4" cy="766.3" r="1.1" fill="#ffb0d0" fill-opacity="0.6"/>
<circle cx="1071.6" cy="774.7" r="4.9" fill="#0f1b20" fill-opacity="0.35"/>
<circle cx="1071.6" cy="774.7" r="3.35" fill="#f86ea8" stroke="#5e2042" stroke-width="1.3"/>
<circle cx="1071.6" cy="774.7" r="1.1" fill="#ffb0d0" fill-opacity="0.6"/>
<circle cx="1112.9" cy="783.3" r="4.9" fill="#0f1b20" fill-opacity="0.35"/>
<circle cx="1112.9" cy="783.3" r="3.35" fill="#f86ea8" stroke="#5e2042" stroke-width="1.3"/>
<circle cx="1112.9" cy="783.3" r="1.1" fill="#ffb0d0" fill-opacity="0.6"/>
<circle cx="1154.1" cy="783.3" r="4.9" fill="#0f1b20" fill-opacity="0.35"/>
<circle cx="1154.1" cy="783.3" r="3.35" fill="#f86ea8" stroke="#5e2042" stroke-width="1.3"/>
<circle cx="1154.1" cy="783.3" r="1.1" fill="#ffb0d0" fill-opacity="0.6"/>
<circle cx="1195.4" cy="800.8" r="4.9" fill="#0f1b20" fill-opacity="0.35"/>
<circle cx="1195.4" cy="800.8" r="3.35" fill="#f86ea8" stroke="#5e2042" stroke-width="1.3"/>
<circle cx="1195.4" cy="800.8" r="1.1" fill="#ffb0d0" fill-opacity="0.6"/>
</g>
<g fill="#ea6ea2" text-anchor="middle" font-size="10.6" stroke="#ea6ea2" stroke-width="0.38" lengthAdjust="spacingAndGlyphs">
<text x="240.6" y="780.3" text-anchor="start" textLength="6.6" lengthAdjust="spacingAndGlyphs">1</text><text x="247.7" y="780.3" text-anchor="start" font-size="9.2" stroke-width="0.3" textLength="5.5" lengthAdjust="spacingAndGlyphs">%</text>
<text x="281.9" y="773" text-anchor="start" textLength="6.6" lengthAdjust="spacingAndGlyphs">2</text><text x="289" y="773" text-anchor="start" font-size="9.2" stroke-width="0.3" textLength="5.5" lengthAdjust="spacingAndGlyphs">%</text>
<text x="323.1" y="747.3" text-anchor="start" textLength="6.6" lengthAdjust="spacingAndGlyphs">5</text><text x="330.2" y="747.3" text-anchor="start" font-size="9.2" stroke-width="0.3" textLength="5.5" lengthAdjust="spacingAndGlyphs">%</text>
<text x="362.9" y="688.3" text-anchor="start" textLength="9.6" lengthAdjust="spacingAndGlyphs">12</text><text x="373" y="688.3" text-anchor="start" font-size="9.2" stroke-width="0.3" textLength="5.5" lengthAdjust="spacingAndGlyphs">%</text>
<text x="404.1" y="705.6" text-anchor="start" textLength="9.6" lengthAdjust="spacingAndGlyphs">10</text><text x="414.2" y="705.6" text-anchor="start" font-size="9.2" stroke-width="0.3" textLength="5.5" lengthAdjust="spacingAndGlyphs">%</text>
<text x="446.9" y="722.3" text-anchor="start" textLength="6.6" lengthAdjust="spacingAndGlyphs">8</text><text x="454" y="722.3" text-anchor="start" font-size="9.2" stroke-width="0.3" textLength="5.5" lengthAdjust="spacingAndGlyphs">%</text>
<text x="488.1" y="730.6" text-anchor="start" textLength="6.6" lengthAdjust="spacingAndGlyphs">7</text><text x="495.2" y="730.6" text-anchor="start" font-size="9.2" stroke-width="0.3" textLength="5.5" lengthAdjust="spacingAndGlyphs">%</text>
<text x="529.4" y="747.3" text-anchor="start" textLength="6.6" lengthAdjust="spacingAndGlyphs">5</text><text x="536.5" y="747.3" text-anchor="start" font-size="9.2" stroke-width="0.3" textLength="5.5" lengthAdjust="spacingAndGlyphs">%</text>
<text x="570.6" y="748.3" text-anchor="start" textLength="6.6" lengthAdjust="spacingAndGlyphs">5</text><text x="577.7" y="748.3" text-anchor="start" font-size="9.2" stroke-width="0.3" textLength="5.5" lengthAdjust="spacingAndGlyphs">%</text>
<text x="611.9" y="755.6" text-anchor="start" textLength="6.6" lengthAdjust="spacingAndGlyphs">4</text><text x="619" y="755.6" text-anchor="start" font-size="9.2" stroke-width="0.3" textLength="5.5" lengthAdjust="spacingAndGlyphs">%</text>
<text x="653.1" y="755.6" text-anchor="start" textLength="6.6" lengthAdjust="spacingAndGlyphs">4</text><text x="660.2" y="755.6" text-anchor="start" font-size="9.2" stroke-width="0.3" textLength="5.5" lengthAdjust="spacingAndGlyphs">%</text>
<text x="694.4" y="763.3" text-anchor="start" textLength="6.6" lengthAdjust="spacingAndGlyphs">3</text><text x="701.5" y="763.3" text-anchor="start" font-size="9.2" stroke-width="0.3" textLength="5.5" lengthAdjust="spacingAndGlyphs">%</text>
<text x="735.6" y="764.3" text-anchor="start" textLength="6.6" lengthAdjust="spacingAndGlyphs">3</text><text x="742.7" y="764.3" text-anchor="start" font-size="9.2" stroke-width="0.3" textLength="5.5" lengthAdjust="spacingAndGlyphs">%</text>
<text x="776.9" y="764.3" text-anchor="start" textLength="6.6" lengthAdjust="spacingAndGlyphs">3</text><text x="784" y="764.3" text-anchor="start" font-size="9.2" stroke-width="0.3" textLength="5.5" lengthAdjust="spacingAndGlyphs">%</text>
<text x="818.1" y="764.3" text-anchor="start" textLength="6.6" lengthAdjust="spacingAndGlyphs">3</text><text x="825.2" y="764.3" text-anchor="start" font-size="9.2" stroke-width="0.3" textLength="5.5" lengthAdjust="spacingAndGlyphs">%</text>
<text x="859.4" y="764.3" text-anchor="start" textLength="6.6" lengthAdjust="spacingAndGlyphs">3</text><text x="866.5" y="764.3" text-anchor="start" font-size="9.2" stroke-width="0.3" textLength="5.5" lengthAdjust="spacingAndGlyphs">%</text>
<text x="900.6" y="764.3" text-anchor="start" textLength="6.6" lengthAdjust="spacingAndGlyphs">3</text><text x="907.7" y="764.3" text-anchor="start" font-size="9.2" stroke-width="0.3" textLength="5.5" lengthAdjust="spacingAndGlyphs">%</text>
<text x="941.9" y="764.3" text-anchor="start" textLength="6.6" lengthAdjust="spacingAndGlyphs">3</text><text x="949" y="764.3" text-anchor="start" font-size="9.2" stroke-width="0.3" textLength="5.5" lengthAdjust="spacingAndGlyphs">%</text>
<text x="983.1" y="764.3" text-anchor="start" textLength="6.6" lengthAdjust="spacingAndGlyphs">3</text><text x="990.2" y="764.3" text-anchor="start" font-size="9.2" stroke-width="0.3" textLength="5.5" lengthAdjust="spacingAndGlyphs">%</text>
<text x="1024.4" y="755.6" text-anchor="start" textLength="6.6" lengthAdjust="spacingAndGlyphs">4</text><text x="1031.5" y="755.6" text-anchor="start" font-size="9.2" stroke-width="0.3" textLength="5.5" lengthAdjust="spacingAndGlyphs">%</text>
<text x="1065.6" y="764" text-anchor="start" textLength="6.6" lengthAdjust="spacingAndGlyphs">3</text><text x="1072.7" y="764" text-anchor="start" font-size="9.2" stroke-width="0.3" textLength="5.5" lengthAdjust="spacingAndGlyphs">%</text>
<text x="1106.9" y="772.6" text-anchor="start" textLength="6.6" lengthAdjust="spacingAndGlyphs">2</text><text x="1114" y="772.6" text-anchor="start" font-size="9.2" stroke-width="0.3" textLength="5.5" lengthAdjust="spacingAndGlyphs">%</text>
<text x="1148.1" y="772.6" text-anchor="start" textLength="6.6" lengthAdjust="spacingAndGlyphs">2</text><text x="1155.2" y="772.6" text-anchor="start" font-size="9.2" stroke-width="0.3" textLength="5.5" lengthAdjust="spacingAndGlyphs">%</text>
<text x="1189.4" y="790.1" text-anchor="start" textLength="6.6" lengthAdjust="spacingAndGlyphs">0</text><text x="1196.5" y="790.1" text-anchor="start" font-size="9.2" stroke-width="0.3" textLength="5.5" lengthAdjust="spacingAndGlyphs">%</text>
</g>
<text x="205.5" y="653.3" font-size="12.6" fill="#cd73a0" stroke="#cd73a0" stroke-width="0.15" letter-spacing="0.55" textLength="98" lengthAdjust="spacingAndGlyphs">LUKAS GRAHAM</text>
<text x="206.2" y="670.6" font-size="18.0" font-weight="bold" fill="#f4619c" stroke="#f4619c" stroke-width="1.85" stroke-linejoin="miter" textLength="79.6" lengthAdjust="spacingAndGlyphs">7 YEARS</text>
<rect x="214.3" y="722" width="109.4" height="31" fill="#000" fill-opacity="0.35" filter="url(#sh)"/>
<path d="M215.3,720H320.7q2,0 2,2V749q0,2 -2,2H274.7l-8,7.2l-8,-7.2H215.3q-2,0 -2,-2V722q0,-2 2,-2z" fill="#1d2e35"/>
<text font-size="9.7" fill="#f4f7f7" text-anchor="middle" stroke="#f4f7f7" stroke-width="0.3"><tspan x="268" y="732.9">Gentle piano doesn’t</tspan><tspan x="268" y="743.6">excite much interest</tspan></text>
<rect x="369.3" y="643.7" width="125" height="31" fill="#000" fill-opacity="0.35" filter="url(#sh)"/>
<path d="M370.3,641.7H491.3q2,0 2,2V670.7q0,2 -2,2H441.3l-8,7.2l-8,-7.2H370.3q-2,0 -2,-2V643.7q0,-2 2,-2z" fill="#1d2e35"/>
<text font-size="9.7" fill="#f4f7f7" text-anchor="middle" stroke="#f4f7f7" stroke-width="0.3"><tspan x="430.8" y="654.6">7 Years has been Shaz-</tspan><tspan x="430.8" y="665.3">amed over 8m times</tspan></text>
<rect x="973.7" y="667.7" width="106.6" height="31" fill="#000" fill-opacity="0.35" filter="url(#sh)"/>
<path d="M974.7,665.7H1077.3q2,0 2,2V694.7q0,2 -2,2H1034l-8,7.2l-8,-7.2H974.7q-2,0 -2,-2V667.7q0,-2 2,-2z" fill="#1d2e35"/>
<text font-size="9.7" fill="#f4f7f7" text-anchor="middle" stroke="#f4f7f7" stroke-width="0.3"><tspan x="1026" y="678.6">Strings and volume</tspan><tspan x="1026" y="689.3">push a final spike</tspan></text>
<circle cx="1356.6" cy="699.8" r="58.9" fill="url(#cg3)" stroke="#735269" stroke-width="1.2"/>
<circle cx="1306.4" cy="699.8" r="9.8" fill="#a05080" fill-opacity="0.25" stroke="#a0557f" stroke-width="1.1"/>
<circle cx="1306.4" cy="699.8" r="5.4" fill="none" stroke="#a0557f" stroke-opacity="0.35" stroke-width="0.8"/>
<circle cx="1306.4" cy="699.8" r="2.5" fill="#f070a8"/>
<circle cx="1356.6" cy="699.8" r="2.5" fill="#f070a8"/>
<circle cx="1412.2" cy="699.8" r="2.5" fill="#f070a8"/>
<clipPath id="av3"><circle cx="1245" cy="699.8" r="19.6"/></clipPath>
<circle cx="1245" cy="699.8" r="21.5" fill="#15252b" fill-opacity="0.8"/>
<g clip-path="url(#av3)"><g filter="url(#bl)" transform="translate(1245,699.8)"><rect x="-22" y="-22" width="44" height="44" fill="#e6cdd8"/><g transform="translate(0.5,2.5)"><ellipse cx="0" cy="-2.0" rx="13.0" ry="15.5" fill="#7d1243"/><path d="M-8,26C-8,16 -7,12 -6,9L6,9C7,13 8,17 8,26z" fill="#f28fba"/><ellipse cx="0" cy="4" rx="11.8" ry="12.6" fill="#f28fba"/><ellipse cx="1" cy="5" rx="6.490000000000001" ry="8.25" fill="#ffc8de" fill-opacity="0.5"/><path d="M-7,-2.4q2.4,-1.5 4.8,0M2.2,-2.4q2.4,-1.5 4.8,0" stroke="#a8326a" stroke-width="1.7" fill="none"/><path d="M0,-0.5l-1.3,5l2.8,0.3" stroke="#a8326a" stroke-width="0.9" stroke-opacity="0.6" fill="none"/><path d="M-3.6,8.4q3.6,1.4 7.2,0" stroke="#a8326a" stroke-width="1.4" fill="none"/><path d="M-13,-3C-13,-12 -8,-14 -6,-13C-8,-9 -9,-5 -9.5,0z M13.5,-2C14,-10 10,-13 6,-13C9,-9 10,-5 10.5,1z" fill="#7d1243"/><ellipse cx="-8" cy="10" rx="5" ry="6" fill="#f3dbe5" fill-opacity="0.7"/></g></g></g>
<circle cx="1245" cy="699.8" r="19.8" fill="none" stroke="#5a2a44" stroke-width="1"/>
<g font-size="9.4" text-anchor="middle" fill="#ee6aa0" stroke="#ee6aa0" stroke-width="0.2">
<text x="1245.3" y="744.6">Released</text>
<text x="1306" y="733">Shazam</text><text x="1306" y="744.6" textLength="29.5" lengthAdjust="spacingAndGlyphs">Q1 2016</text>
<text x="1356.5" y="733">Spotify</text><text x="1356.5" y="744.6" textLength="29.5" lengthAdjust="spacingAndGlyphs">Q1 2016</text>
<text x="1412" y="733">Total</text><text x="1412" y="744.6">UK sales</text>
</g>
<g font-size="10.8" text-anchor="middle" fill="#fff" stroke="#fff" stroke-width="0.25">
<text x="1245.3" y="756" textLength="57.4" lengthAdjust="spacingAndGlyphs">Dec 15, 2015</text>
<text x="1306" y="756">4.7m</text>
<text x="1356.5" y="756">182m</text>
<text x="1412" y="756">466k</text>
</g>
</g>
<g id="row4">
<clipPath id="cp4"><path d="M226,994.5L246.6,967C254.2,965.4 280.3,964.2 287.9,958C295.4,951.8 321.6,899 329.1,899C336.7,899 362.8,912.2 370.4,915.3C377.9,918.4 404.1,930.3 411.6,932.7C419.2,935.1 445.3,939.4 452.9,941.7C460.4,944 486.6,958 494.1,958C501.7,958 527.8,950 535.4,950C542.9,950 569.1,950 576.6,950C584.2,950 610.3,956.5 617.9,958C625.4,959.5 651.6,966.7 659.1,966.7C666.7,966.7 692.8,966.7 700.4,966.7C707.9,966.7 734.1,958 741.6,958C749.2,958 775.3,958 782.9,958C790.4,958 816.6,958 824.1,958C831.7,958 857.8,958 865.4,958C872.9,958 899.1,965.1 906.6,966.7C914.2,968.3 940.3,974.1 947.9,975.7C955.4,977.3 981.6,984 989.1,984C996.7,984 1022.8,977.4 1030.4,975C1037.9,972.6 1064.1,958 1071.6,958C1079.2,958 1105.3,966.7 1112.9,966.7C1120.4,966.7 1146.6,966.7 1154.1,966.7C1161.7,966.7 1187.8,971.4 1195.4,975.7C1199.2,977.8 1212.2,991.1 1216,994.5L1216,994.5Z"/></clipPath>
<path d="M194,840V993.3H1437" stroke="#111d22" stroke-opacity="0.5" stroke-width="1.4" fill="none"/>
<path d="M192.6,840V994.8H1437" stroke="#345f72" stroke-width="1.25" fill="none"/>
<path d="M226,994.5L246.6,967C254.2,965.4 280.3,964.2 287.9,958C295.4,951.8 321.6,899 329.1,899C336.7,899 362.8,912.2 370.4,915.3C377.9,918.4 404.1,930.3 411.6,932.7C419.2,935.1 445.3,939.4 452.9,941.7C460.4,944 486.6,958 494.1,958C501.7,958 527.8,950 535.4,950C542.9,950 569.1,950 576.6,950C584.2,950 610.3,956.5 617.9,958C625.4,959.5 651.6,966.7 659.1,966.7C666.7,966.7 692.8,966.7 700.4,966.7C707.9,966.7 734.1,958 741.6,958C749.2,958 775.3,958 782.9,958C790.4,958 816.6,958 824.1,958C831.7,958 857.8,958 865.4,958C872.9,958 899.1,965.1 906.6,966.7C914.2,968.3 940.3,974.1 947.9,975.7C955.4,977.3 981.6,984 989.1,984C996.7,984 1022.8,977.4 1030.4,975C1037.9,972.6 1064.1,958 1071.6,958C1079.2,958 1105.3,966.7 1112.9,966.7C1120.4,966.7 1146.6,966.7 1154.1,966.7C1161.7,966.7 1187.8,971.4 1195.4,975.7C1199.2,977.8 1212.2,991.1 1216,994.5" fill="none" stroke="#101c21" stroke-opacity="0.55" stroke-width="4" stroke-linejoin="round"/>
<path d="M226,994.5L246.6,967C254.2,965.4 280.3,964.2 287.9,958C295.4,951.8 321.6,899 329.1,899C336.7,899 362.8,912.2 370.4,915.3C377.9,918.4 404.1,930.3 411.6,932.7C419.2,935.1 445.3,939.4 452.9,941.7C460.4,944 486.6,958 494.1,958C501.7,958 527.8,950 535.4,950C542.9,950 569.1,950 576.6,950C584.2,950 610.3,956.5 617.9,958C625.4,959.5 651.6,966.7 659.1,966.7C666.7,966.7 692.8,966.7 700.4,966.7C707.9,966.7 734.1,958 741.6,958C749.2,958 775.3,958 782.9,958C790.4,958 816.6,958 824.1,958C831.7,958 857.8,958 865.4,958C872.9,958 899.1,965.1 906.6,966.7C914.2,968.3 940.3,974.1 947.9,975.7C955.4,977.3 981.6,984 989.1,984C996.7,984 1022.8,977.4 1030.4,975C1037.9,972.6 1064.1,958 1071.6,958C1079.2,958 1105.3,966.7 1112.9,966.7C1120.4,966.7 1146.6,966.7 1154.1,966.7C1161.7,966.7 1187.8,971.4 1195.4,975.7C1199.2,977.8 1212.2,991.1 1216,994.5L1216,994.5Z" fill="#1c2e34"/>
<linearGradient id="sg4_0" gradientUnits="userSpaceOnUse" x1="0" y1="962" x2="0" y2="994.5"><stop offset="0" stop-color="rgb(58,127,163)"/><stop offset="1" stop-color="rgb(59,131,168)"/></linearGradient>
<rect x="225.8" y="961" width="41.6" height="33.5" fill="url(#sg4_0)" clip-path="url(#cp4)"/>
<linearGradient id="sg4_1" gradientUnits="userSpaceOnUse" x1="0" y1="898.5" x2="0" y2="994.5"><stop offset="0" stop-color="rgb(48,99,126)"/><stop offset="1" stop-color="rgb(54,120,152)"/></linearGradient>
<rect x="267.1" y="897.5" width="62.3" height="97" fill="url(#sg4_1)" clip-path="url(#cp4)"/>
<linearGradient id="sh4_1" gradientUnits="userSpaceOnUse" x1="0" y1="898.5" x2="0" y2="994.5"><stop offset="0" stop-color="rgb(225,240,252)" stop-opacity="0.05"/><stop offset="0.4" stop-color="rgb(225,240,252)" stop-opacity="0.13"/><stop offset="1" stop-color="rgb(225,240,252)" stop-opacity="0.36"/></linearGradient>
<rect x="267.2" y="897.5" width="61.9" height="97" fill="url(#sh4_1)" clip-path="url(#cp4)"/>
<linearGradient id="sg4_2" gradientUnits="userSpaceOnUse" x1="0" y1="898.5" x2="0" y2="994.5"><stop offset="0" stop-color="rgb(48,99,126)"/><stop offset="1" stop-color="rgb(54,120,152)"/></linearGradient>
<rect x="328.9" y="897.5" width="146.8" height="97" fill="url(#sg4_2)" clip-path="url(#cp4)"/>
<linearGradient id="sg4_3" gradientUnits="userSpaceOnUse" x1="0" y1="949.5" x2="0" y2="994.5"><stop offset="0" stop-color="rgb(56,122,155)"/><stop offset="1" stop-color="rgb(58,129,165)"/></linearGradient>
<rect x="475.4" y="948.5" width="62.7" height="46" fill="url(#sg4_3)" clip-path="url(#cp4)"/>
<linearGradient id="sh4_3" gradientUnits="userSpaceOnUse" x1="0" y1="949.5" x2="0" y2="994.5"><stop offset="0" stop-color="rgb(225,240,252)" stop-opacity="0.05"/><stop offset="0.4" stop-color="rgb(225,240,252)" stop-opacity="0.13"/><stop offset="1" stop-color="rgb(225,240,252)" stop-opacity="0.36"/></linearGradient>
<rect x="475.6" y="948.5" width="62.3" height="46" fill="url(#sh4_3)" clip-path="url(#cp4)"/>
<linearGradient id="sg4_4" gradientUnits="userSpaceOnUse" x1="0" y1="949.5" x2="0" y2="994.5"><stop offset="0" stop-color="rgb(56,122,155)"/><stop offset="1" stop-color="rgb(58,129,165)"/></linearGradient>
<rect x="537.6" y="948.5" width="224.8" height="46" fill="url(#sg4_4)" clip-path="url(#cp4)"/>
<linearGradient id="sg4_5" gradientUnits="userSpaceOnUse" x1="0" y1="957.5" x2="0" y2="994.5"><stop offset="0" stop-color="rgb(57,125,160)"/><stop offset="1" stop-color="rgb(59,131,166)"/></linearGradient>
<rect x="762" y="956.5" width="63.1" height="38" fill="url(#sg4_5)" clip-path="url(#cp4)"/>
<linearGradient id="sh4_5" gradientUnits="userSpaceOnUse" x1="0" y1="957.5" x2="0" y2="994.5"><stop offset="0" stop-color="rgb(225,240,252)" stop-opacity="0.05"/><stop offset="0.4" stop-color="rgb(225,240,252)" stop-opacity="0.13"/><stop offset="1" stop-color="rgb(225,240,252)" stop-opacity="0.36"/></linearGradient>
<rect x="762.2" y="956.5" width="62.7" height="38" fill="url(#sh4_5)" clip-path="url(#cp4)"/>
<linearGradient id="sg4_6" gradientUnits="userSpaceOnUse" x1="0" y1="957.5" x2="0" y2="994.5"><stop offset="0" stop-color="rgb(57,125,160)"/><stop offset="1" stop-color="rgb(59,131,166)"/></linearGradient>
<rect x="824.7" y="956.5" width="221.5" height="38" fill="url(#sg4_6)" clip-path="url(#cp4)"/>
<linearGradient id="sg4_7" gradientUnits="userSpaceOnUse" x1="0" y1="957.5" x2="0" y2="994.5"><stop offset="0" stop-color="rgb(57,125,160)"/><stop offset="1" stop-color="rgb(59,131,166)"/></linearGradient>
<rect x="1045.9" y="956.5" width="63.1" height="38" fill="url(#sg4_7)" clip-path="url(#cp4)"/>
<linearGradient id="sh4_7" gradientUnits="userSpaceOnUse" x1="0" y1="957.5" x2="0" y2="994.5"><stop offset="0" stop-color="rgb(225,240,252)" stop-opacity="0.05"/><stop offset="0.4" stop-color="rgb(225,240,252)" stop-opacity="0.13"/><stop offset="1" stop-color="rgb(225,240,252)" stop-opacity="0.36"/></linearGradient>
<rect x="1046.1" y="956.5" width="62.7" height="38" fill="url(#sh4_7)" clip-path="url(#cp4)"/>
<linearGradient id="sg4_8" gradientUnits="userSpaceOnUse" x1="0" y1="965.3" x2="0" y2="994.5"><stop offset="0" stop-color="rgb(58,129,165)"/><stop offset="1" stop-color="rgb(59,132,168)"/></linearGradient>
<rect x="1108.5" y="964.3" width="107.7" height="30.2" fill="url(#sg4_8)" clip-path="url(#cp4)"/>
<clipPath id="co4"><path clip-rule="evenodd" d="M0,834.5H1620V996.5H0ZM226,994.5L246.6,967C254.2,965.4 280.3,964.2 287.9,958C295.4,951.8 321.6,899 329.1,899C336.7,899 362.8,912.2 370.4,915.3C377.9,918.4 404.1,930.3 411.6,932.7C419.2,935.1 445.3,939.4 452.9,941.7C460.4,944 486.6,958 494.1,958C501.7,958 527.8,950 535.4,950C542.9,950 569.1,950 576.6,950C584.2,950 610.3,956.5 617.9,958C625.4,959.5 651.6,966.7 659.1,966.7C666.7,966.7 692.8,966.7 700.4,966.7C707.9,966.7 734.1,958 741.6,958C749.2,958 775.3,958 782.9,958C790.4,958 816.6,958 824.1,958C831.7,958 857.8,958 865.4,958C872.9,958 899.1,965.1 906.6,966.7C914.2,968.3 940.3,974.1 947.9,975.7C955.4,977.3 981.6,984 989.1,984C996.7,984 1022.8,977.4 1030.4,975C1037.9,972.6 1064.1,958 1071.6,958C1079.2,958 1105.3,966.7 1112.9,966.7C1120.4,966.7 1146.6,966.7 1154.1,966.7C1161.7,966.7 1187.8,971.4 1195.4,975.7C1199.2,977.8 1212.2,991.1 1216,994.5L1216,994.5Z"/></clipPath>
<path d="M233.8,994.5v-2h2.6v2zM246.2,994.5v-3h2.6v3zM258.6,994.5v-2h2.6v2zM271,994.5v-4h2.6v4zM275.1,994.5v-6h2.6v6zM279.2,994.5v-5h2.6v5zM283.4,994.5v-6h2.6v6zM287.5,994.5v-7h2.6v7zM291.6,994.5v-6h2.6v6zM295.7,994.5v-7h2.6v7zM299.9,994.5v-3h2.6v3zM308.1,994.5v-3h2.6v3zM316.4,994.5v-2h2.6v2zM332.9,994.5v-33h2.6v33zM337,994.5v-14h2.6v14zM341.1,994.5v-6h2.6v6zM345.2,994.5v-8h2.6v8zM349.4,994.5v-12h2.6v12zM353.5,994.5v-44h2.6v44zM357.6,994.5v-25h2.6v25zM361.7,994.5v-46h2.6v46zM365.9,994.5v-7h2.6v7zM370,994.5v-21h2.6v21zM374.1,994.5v-6h2.6v6zM378.2,994.5v-21h2.6v21zM382.4,994.5v-38h2.6v38zM386.5,994.5v-5h2.6v5zM390.6,994.5v-5h2.6v5zM394.7,994.5v-22h2.6v22zM398.9,994.5v-26h2.6v26zM403,994.5v-62h2.6v62zM407.1,994.5v-12h2.6v12zM411.2,994.5v-13h2.6v13zM415.4,994.5v-5h2.6v5zM419.5,994.5v-6h2.6v6zM423.6,994.5v-49h2.6v49zM427.7,994.5v-4h2.6v4zM431.9,994.5v-10h2.6v10zM436,994.5v-12h2.6v12zM440.1,994.5v-32h2.6v32zM444.2,994.5v-100h2.6v100zM448.4,994.5v-5h2.6v5zM452.5,994.5v-7h2.6v7zM456.6,994.5v-9h2.6v9zM460.7,994.5v-72h2.6v72zM464.9,994.5v-19h2.6v19zM469,994.5v-8h2.6v8zM473.1,994.5v-4h2.6v4zM481.4,994.5v-3h2.6v3zM489.6,994.5v-4h2.6v4zM497.9,994.5v-3h2.6v3zM506.1,994.5v-16h2.6v16zM510.2,994.5v-3h2.6v3zM514.4,994.5v-11h2.6v11zM518.5,994.5v-14h2.6v14zM522.6,994.5v-4h2.6v4zM526.7,994.5v-9h2.6v9zM530.9,994.5v-3h2.6v3zM539.1,994.5v-30h2.6v30zM543.2,994.5v-50h2.6v50zM547.4,994.5v-11h2.6v11zM551.5,994.5v-22h2.6v22zM555.6,994.5v-31h2.6v31zM559.7,994.5v-18h2.6v18zM563.9,994.5v-89h2.6v89zM568,994.5v-9h2.6v9zM572.1,994.5v-25h2.6v25zM576.2,994.5v-12h2.6v12zM580.4,994.5v-36h2.6v36zM584.5,994.5v-45h2.6v45zM588.6,994.5v-13h2.6v13zM592.7,994.5v-10h2.6v10zM596.9,994.5v-34h2.6v34zM601,994.5v-37h2.6v37zM605.1,994.5v-9h2.6v9zM609.2,994.5v-12h2.6v12zM613.4,994.5v-14h2.6v14zM617.5,994.5v-16h2.6v16zM621.6,994.5v-7h2.6v7zM625.7,994.5v-9h2.6v9zM629.9,994.5v-6h2.6v6zM634,994.5v-26h2.6v26zM638.1,994.5v-8h2.6v8zM642.2,994.5v-33h2.6v33zM646.4,994.5v-7h2.6v7zM650.5,994.5v-10h2.6v10zM654.6,994.5v-17h2.6v17zM658.7,994.5v-9h2.6v9zM662.9,994.5v-7h2.6v7zM667,994.5v-7h2.6v7zM671.1,994.5v-5h2.6v5zM675.2,994.5v-11h2.6v11zM679.4,994.5v-21h2.6v21zM683.5,994.5v-36h2.6v36zM687.6,994.5v-8h2.6v8zM691.7,994.5v-50h2.6v50zM695.9,994.5v-9h2.6v9zM700,994.5v-49h2.6v49zM704.1,994.5v-47h2.6v47zM708.2,994.5v-54h2.6v54zM712.4,994.5v-47h2.6v47zM716.5,994.5v-8h2.6v8zM720.6,994.5v-3h2.6v3zM724.7,994.5v-4h2.6v4zM728.9,994.5v-86h2.6v86zM733,994.5v-52h2.6v52zM737.1,994.5v-9h2.6v9zM741.2,994.5v-12h2.6v12zM745.4,994.5v-45h2.6v45zM749.5,994.5v-26h2.6v26zM753.6,994.5v-8h2.6v8zM757.7,994.5v-6h2.6v6zM766,994.5v-6h2.6v6zM770.1,994.5v-5h2.6v5zM778.4,994.5v-3h2.6v3zM790.7,994.5v-18h2.6v18zM794.9,994.5v-6h2.6v6zM799,994.5v-5h2.6v5zM803.1,994.5v-4h2.6v4zM807.2,994.5v-4h2.6v4zM811.4,994.5v-4h2.6v4zM827.9,994.5v-8h2.6v8zM832,994.5v-30h2.6v30zM836.1,994.5v-9h2.6v9zM840.2,994.5v-55h2.6v55zM844.4,994.5v-91h2.6v91zM848.5,994.5v-12h2.6v12zM852.6,994.5v-8h2.6v8zM856.7,994.5v-16h2.6v16zM860.9,994.5v-10h2.6v10zM865,994.5v-12h2.6v12zM869.1,994.5v-71h2.6v71zM873.2,994.5v-21h2.6v21zM877.4,994.5v-7h2.6v7zM881.5,994.5v-11h2.6v11zM885.6,994.5v-9h2.6v9zM889.7,994.5v-6h2.6v6zM893.9,994.5v-12h2.6v12zM898,994.5v-15h2.6v15zM902.1,994.5v-7h2.6v7zM906.2,994.5v-10h2.6v10zM910.4,994.5v-8h2.6v8zM914.5,994.5v-49h2.6v49zM918.6,994.5v-26h2.6v26zM922.7,994.5v-38h2.6v38zM926.9,994.5v-9h2.6v9zM931,994.5v-12h2.6v12zM935.1,994.5v-7h2.6v7zM939.2,994.5v-61h2.6v61zM943.4,994.5v-10h2.6v10zM947.5,994.5v-40h2.6v40zM951.6,994.5v-65h2.6v65zM955.7,994.5v-8h2.6v8zM959.9,994.5v-11h2.6v11zM964,994.5v-46h2.6v46zM968.1,994.5v-29h2.6v29zM972.2,994.5v-8h2.6v8zM976.4,994.5v-23h2.6v23zM980.5,994.5v-39h2.6v39zM984.6,994.5v-7h2.6v7zM988.7,994.5v-6h2.6v6zM992.9,994.5v-9h2.6v9zM997,994.5v-5h2.6v5zM1001.1,994.5v-20h2.6v20zM1005.2,994.5v-29h2.6v29zM1009.4,994.5v-29h2.6v29zM1013.5,994.5v-7h2.6v7zM1017.6,994.5v-9h2.6v9zM1021.7,994.5v-51h2.6v51zM1025.8,994.5v-68h2.6v68zM1030,994.5v-9h2.6v9zM1034.1,994.5v-7h2.6v7zM1038.2,994.5v-20h2.6v20zM1042.3,994.5v-6h2.6v6zM1050.6,994.5v-3h2.6v3zM1058.8,994.5v-4h2.6v4zM1067.1,994.5v-3h2.6v3zM1075.3,994.5v-5h2.6v5zM1083.6,994.5v-3h2.6v3zM1091.8,994.5v-4h2.6v4zM1100.1,994.5v-3h2.6v3zM1112.5,994.5v-8h2.6v8zM1116.6,994.5v-12h2.6v12zM1120.7,994.5v-7h2.6v7zM1124.8,994.5v-15h2.6v15zM1129,994.5v-34h2.6v34zM1133.1,994.5v-9h2.6v9zM1137.2,994.5v-12h2.6v12zM1141.3,994.5v-36h2.6v36zM1145.5,994.5v-8h2.6v8zM1149.6,994.5v-11h2.6v11zM1153.7,994.5v-9h2.6v9zM1157.8,994.5v-54h2.6v54zM1162,994.5v-8h2.6v8zM1166.1,994.5v-12h2.6v12zM1170.2,994.5v-19h2.6v19zM1174.3,994.5v-9h2.6v9zM1178.5,994.5v-29h2.6v29zM1182.6,994.5v-50h2.6v50zM1186.7,994.5v-8h2.6v8zM1190.8,994.5v-10h2.6v10zM1195,994.5v-22h2.6v22zM1199.1,994.5v-66h2.6v66zM1203.2,994.5v-20h2.6v20zM1207.3,994.5v-13h2.6v13zM1211.5,994.5v-31h2.6v31z" fill="rgb(110,190,240)" fill-opacity="0.32" clip-path="url(#co4)"/>
<path d="M233.8,994.5v-2h2.6v2zM246.2,994.5v-3h2.6v3zM258.6,994.5v-2h2.6v2zM271,994.5v-4h2.6v4zM275.1,994.5v-6h2.6v6zM279.2,994.5v-5h2.6v5zM283.4,994.5v-6h2.6v6zM287.5,994.5v-7h2.6v7zM291.6,994.5v-6h2.6v6zM295.7,994.5v-7h2.6v7zM299.9,994.5v-3h2.6v3zM308.1,994.5v-3h2.6v3zM316.4,994.5v-2h2.6v2zM332.9,994.5v-33h2.6v33zM337,994.5v-14h2.6v14zM341.1,994.5v-6h2.6v6zM345.2,994.5v-8h2.6v8zM349.4,994.5v-12h2.6v12zM353.5,994.5v-44h2.6v44zM357.6,994.5v-25h2.6v25zM361.7,994.5v-46h2.6v46zM365.9,994.5v-7h2.6v7zM370,994.5v-21h2.6v21zM374.1,994.5v-6h2.6v6zM378.2,994.5v-21h2.6v21zM382.4,994.5v-38h2.6v38zM386.5,994.5v-5h2.6v5zM390.6,994.5v-5h2.6v5zM394.7,994.5v-22h2.6v22zM398.9,994.5v-26h2.6v26zM403,994.5v-62h2.6v62zM407.1,994.5v-12h2.6v12zM411.2,994.5v-13h2.6v13zM415.4,994.5v-5h2.6v5zM419.5,994.5v-6h2.6v6zM423.6,994.5v-49h2.6v49zM427.7,994.5v-4h2.6v4zM431.9,994.5v-10h2.6v10zM436,994.5v-12h2.6v12zM440.1,994.5v-32h2.6v32zM444.2,994.5v-100h2.6v100zM448.4,994.5v-5h2.6v5zM452.5,994.5v-7h2.6v7zM456.6,994.5v-9h2.6v9zM460.7,994.5v-72h2.6v72zM464.9,994.5v-19h2.6v19zM469,994.5v-8h2.6v8zM473.1,994.5v-4h2.6v4zM481.4,994.5v-3h2.6v3zM489.6,994.5v-4h2.6v4zM497.9,994.5v-3h2.6v3zM506.1,994.5v-16h2.6v16zM510.2,994.5v-3h2.6v3zM514.4,994.5v-11h2.6v11zM518.5,994.5v-14h2.6v14zM522.6,994.5v-4h2.6v4zM526.7,994.5v-9h2.6v9zM530.9,994.5v-3h2.6v3zM539.1,994.5v-30h2.6v30zM543.2,994.5v-50h2.6v50zM547.4,994.5v-11h2.6v11zM551.5,994.5v-22h2.6v22zM555.6,994.5v-31h2.6v31zM559.7,994.5v-18h2.6v18zM563.9,994.5v-89h2.6v89zM568,994.5v-9h2.6v9zM572.1,994.5v-25h2.6v25zM576.2,994.5v-12h2.6v12zM580.4,994.5v-36h2.6v36zM584.5,994.5v-45h2.6v45zM588.6,994.5v-13h2.6v13zM592.7,994.5v-10h2.6v10zM596.9,994.5v-34h2.6v34zM601,994.5v-37h2.6v37zM605.1,994.5v-9h2.6v9zM609.2,994.5v-12h2.6v12zM613.4,994.5v-14h2.6v14zM617.5,994.5v-16h2.6v16zM621.6,994.5v-7h2.6v7zM625.7,994.5v-9h2.6v9zM629.9,994.5v-6h2.6v6zM634,994.5v-26h2.6v26zM638.1,994.5v-8h2.6v8zM642.2,994.5v-33h2.6v33zM646.4,994.5v-7h2.6v7zM650.5,994.5v-10h2.6v10zM654.6,994.5v-17h2.6v17zM658.7,994.5v-9h2.6v9zM662.9,994.5v-7h2.6v7zM667,994.5v-7h2.6v7zM671.1,994.5v-5h2.6v5zM675.2,994.5v-11h2.6v11zM679.4,994.5v-21h2.6v21zM683.5,994.5v-36h2.6v36zM687.6,994.5v-8h2.6v8zM691.7,994.5v-50h2.6v50zM695.9,994.5v-9h2.6v9zM700,994.5v-49h2.6v49zM704.1,994.5v-47h2.6v47zM708.2,994.5v-54h2.6v54zM712.4,994.5v-47h2.6v47zM716.5,994.5v-8h2.6v8zM720.6,994.5v-3h2.6v3zM724.7,994.5v-4h2.6v4zM728.9,994.5v-86h2.6v86zM733,994.5v-52h2.6v52zM737.1,994.5v-9h2.6v9zM741.2,994.5v-12h2.6v12zM745.4,994.5v-45h2.6v45zM749.5,994.5v-26h2.6v26zM753.6,994.5v-8h2.6v8zM757.7,994.5v-6h2.6v6zM766,994.5v-6h2.6v6zM770.1,994.5v-5h2.6v5zM778.4,994.5v-3h2.6v3zM790.7,994.5v-18h2.6v18zM794.9,994.5v-6h2.6v6zM799,994.5v-5h2.6v5zM803.1,994.5v-4h2.6v4zM807.2,994.5v-4h2.6v4zM811.4,994.5v-4h2.6v4zM827.9,994.5v-8h2.6v8zM832,994.5v-30h2.6v30zM836.1,994.5v-9h2.6v9zM840.2,994.5v-55h2.6v55zM844.4,994.5v-91h2.6v91zM848.5,994.5v-12h2.6v12zM852.6,994.5v-8h2.6v8zM856.7,994.5v-16h2.6v16zM860.9,994.5v-10h2.6v10zM865,994.5v-12h2.6v12zM869.1,994.5v-71h2.6v71zM873.2,994.5v-21h2.6v21zM877.4,994.5v-7h2.6v7zM881.5,994.5v-11h2.6v11zM885.6,994.5v-9h2.6v9zM889.7,994.5v-6h2.6v6zM893.9,994.5v-12h2.6v12zM898,994.5v-15h2.6v15zM902.1,994.5v-7h2.6v7zM906.2,994.5v-10h2.6v10zM910.4,994.5v-8h2.6v8zM914.5,994.5v-49h2.6v49zM918.6,994.5v-26h2.6v26zM922.7,994.5v-38h2.6v38zM926.9,994.5v-9h2.6v9zM931,994.5v-12h2.6v12zM935.1,994.5v-7h2.6v7zM939.2,994.5v-61h2.6v61zM943.4,994.5v-10h2.6v10zM947.5,994.5v-40h2.6v40zM951.6,994.5v-65h2.6v65zM955.7,994.5v-8h2.6v8zM959.9,994.5v-11h2.6v11zM964,994.5v-46h2.6v46zM968.1,994.5v-29h2.6v29zM972.2,994.5v-8h2.6v8zM976.4,994.5v-23h2.6v23zM980.5,994.5v-39h2.6v39zM984.6,994.5v-7h2.6v7zM988.7,994.5v-6h2.6v6zM992.9,994.5v-9h2.6v9zM997,994.5v-5h2.6v5zM1001.1,994.5v-20h2.6v20zM1005.2,994.5v-29h2.6v29zM1009.4,994.5v-29h2.6v29zM1013.5,994.5v-7h2.6v7zM1017.6,994.5v-9h2.6v9zM1021.7,994.5v-51h2.6v51zM1025.8,994.5v-68h2.6v68zM1030,994.5v-9h2.6v9zM1034.1,994.5v-7h2.6v7zM1038.2,994.5v-20h2.6v20zM1042.3,994.5v-6h2.6v6zM1050.6,994.5v-3h2.6v3zM1058.8,994.5v-4h2.6v4zM1067.1,994.5v-3h2.6v3zM1075.3,994.5v-5h2.6v5zM1083.6,994.5v-3h2.6v3zM1091.8,994.5v-4h2.6v4zM1100.1,994.5v-3h2.6v3zM1112.5,994.5v-8h2.6v8zM1116.6,994.5v-12h2.6v12zM1120.7,994.5v-7h2.6v7zM1124.8,994.5v-15h2.6v15zM1129,994.5v-34h2.6v34zM1133.1,994.5v-9h2.6v9zM1137.2,994.5v-12h2.6v12zM1141.3,994.5v-36h2.6v36zM1145.5,994.5v-8h2.6v8zM1149.6,994.5v-11h2.6v11zM1153.7,994.5v-9h2.6v9zM1157.8,994.5v-54h2.6v54zM1162,994.5v-8h2.6v8zM1166.1,994.5v-12h2.6v12zM1170.2,994.5v-19h2.6v19zM1174.3,994.5v-9h2.6v9zM1178.5,994.5v-29h2.6v29zM1182.6,994.5v-50h2.6v50zM1186.7,994.5v-8h2.6v8zM1190.8,994.5v-10h2.6v10zM1195,994.5v-22h2.6v22zM1199.1,994.5v-66h2.6v66zM1203.2,994.5v-20h2.6v20zM1207.3,994.5v-13h2.6v13zM1211.5,994.5v-31h2.6v31z" fill="rgb(140,210,250)" fill-opacity="0.23" clip-path="url(#cp4)"/>
<clipPath id="hc4"><path d="M267.2,864.5H329.1V994.5H267.2ZM475.6,864.5H537.8V994.5H475.6ZM762.2,864.5H824.9V994.5H762.2ZM1046.1,864.5H1108.8V994.5H1046.1Z"/></clipPath>
<g clip-path="url(#cp4)"><path d="M233.8,994.5v-2h2.6v2zM246.2,994.5v-3h2.6v3zM258.6,994.5v-2h2.6v2zM271,994.5v-4h2.6v4zM275.1,994.5v-6h2.6v6zM279.2,994.5v-5h2.6v5zM283.4,994.5v-6h2.6v6zM287.5,994.5v-7h2.6v7zM291.6,994.5v-6h2.6v6zM295.7,994.5v-7h2.6v7zM299.9,994.5v-3h2.6v3zM308.1,994.5v-3h2.6v3zM316.4,994.5v-2h2.6v2zM332.9,994.5v-33h2.6v33zM337,994.5v-14h2.6v14zM341.1,994.5v-6h2.6v6zM345.2,994.5v-8h2.6v8zM349.4,994.5v-12h2.6v12zM353.5,994.5v-44h2.6v44zM357.6,994.5v-25h2.6v25zM361.7,994.5v-46h2.6v46zM365.9,994.5v-7h2.6v7zM370,994.5v-21h2.6v21zM374.1,994.5v-6h2.6v6zM378.2,994.5v-21h2.6v21zM382.4,994.5v-38h2.6v38zM386.5,994.5v-5h2.6v5zM390.6,994.5v-5h2.6v5zM394.7,994.5v-22h2.6v22zM398.9,994.5v-26h2.6v26zM403,994.5v-62h2.6v62zM407.1,994.5v-12h2.6v12zM411.2,994.5v-13h2.6v13zM415.4,994.5v-5h2.6v5zM419.5,994.5v-6h2.6v6zM423.6,994.5v-49h2.6v49zM427.7,994.5v-4h2.6v4zM431.9,994.5v-10h2.6v10zM436,994.5v-12h2.6v12zM440.1,994.5v-32h2.6v32zM444.2,994.5v-100h2.6v100zM448.4,994.5v-5h2.6v5zM452.5,994.5v-7h2.6v7zM456.6,994.5v-9h2.6v9zM460.7,994.5v-72h2.6v72zM464.9,994.5v-19h2.6v19zM469,994.5v-8h2.6v8zM473.1,994.5v-4h2.6v4zM481.4,994.5v-3h2.6v3zM489.6,994.5v-4h2.6v4zM497.9,994.5v-3h2.6v3zM506.1,994.5v-16h2.6v16zM510.2,994.5v-3h2.6v3zM514.4,994.5v-11h2.6v11zM518.5,994.5v-14h2.6v14zM522.6,994.5v-4h2.6v4zM526.7,994.5v-9h2.6v9zM530.9,994.5v-3h2.6v3zM539.1,994.5v-30h2.6v30zM543.2,994.5v-50h2.6v50zM547.4,994.5v-11h2.6v11zM551.5,994.5v-22h2.6v22zM555.6,994.5v-31h2.6v31zM559.7,994.5v-18h2.6v18zM563.9,994.5v-89h2.6v89zM568,994.5v-9h2.6v9zM572.1,994.5v-25h2.6v25zM576.2,994.5v-12h2.6v12zM580.4,994.5v-36h2.6v36zM584.5,994.5v-45h2.6v45zM588.6,994.5v-13h2.6v13zM592.7,994.5v-10h2.6v10zM596.9,994.5v-34h2.6v34zM601,994.5v-37h2.6v37zM605.1,994.5v-9h2.6v9zM609.2,994.5v-12h2.6v12zM613.4,994.5v-14h2.6v14zM617.5,994.5v-16h2.6v16zM621.6,994.5v-7h2.6v7zM625.7,994.5v-9h2.6v9zM629.9,994.5v-6h2.6v6zM634,994.5v-26h2.6v26zM638.1,994.5v-8h2.6v8zM642.2,994.5v-33h2.6v33zM646.4,994.5v-7h2.6v7zM650.5,994.5v-10h2.6v10zM654.6,994.5v-17h2.6v17zM658.7,994.5v-9h2.6v9zM662.9,994.5v-7h2.6v7zM667,994.5v-7h2.6v7zM671.1,994.5v-5h2.6v5zM675.2,994.5v-11h2.6v11zM679.4,994.5v-21h2.6v21zM683.5,994.5v-36h2.6v36zM687.6,994.5v-8h2.6v8zM691.7,994.5v-50h2.6v50zM695.9,994.5v-9h2.6v9zM700,994.5v-49h2.6v49zM704.1,994.5v-47h2.6v47zM708.2,994.5v-54h2.6v54zM712.4,994.5v-47h2.6v47zM716.5,994.5v-8h2.6v8zM720.6,994.5v-3h2.6v3zM724.7,994.5v-4h2.6v4zM728.9,994.5v-86h2.6v86zM733,994.5v-52h2.6v52zM737.1,994.5v-9h2.6v9zM741.2,994.5v-12h2.6v12zM745.4,994.5v-45h2.6v45zM749.5,994.5v-26h2.6v26zM753.6,994.5v-8h2.6v8zM757.7,994.5v-6h2.6v6zM766,994.5v-6h2.6v6zM770.1,994.5v-5h2.6v5zM778.4,994.5v-3h2.6v3zM790.7,994.5v-18h2.6v18zM794.9,994.5v-6h2.6v6zM799,994.5v-5h2.6v5zM803.1,994.5v-4h2.6v4zM807.2,994.5v-4h2.6v4zM811.4,994.5v-4h2.6v4zM827.9,994.5v-8h2.6v8zM832,994.5v-30h2.6v30zM836.1,994.5v-9h2.6v9zM840.2,994.5v-55h2.6v55zM844.4,994.5v-91h2.6v91zM848.5,994.5v-12h2.6v12zM852.6,994.5v-8h2.6v8zM856.7,994.5v-16h2.6v16zM860.9,994.5v-10h2.6v10zM865,994.5v-12h2.6v12zM869.1,994.5v-71h2.6v71zM873.2,994.5v-21h2.6v21zM877.4,994.5v-7h2.6v7zM881.5,994.5v-11h2.6v11zM885.6,994.5v-9h2.6v9zM889.7,994.5v-6h2.6v6zM893.9,994.5v-12h2.6v12zM898,994.5v-15h2.6v15zM902.1,994.5v-7h2.6v7zM906.2,994.5v-10h2.6v10zM910.4,994.5v-8h2.6v8zM914.5,994.5v-49h2.6v49zM918.6,994.5v-26h2.6v26zM922.7,994.5v-38h2.6v38zM926.9,994.5v-9h2.6v9zM931,994.5v-12h2.6v12zM935.1,994.5v-7h2.6v7zM939.2,994.5v-61h2.6v61zM943.4,994.5v-10h2.6v10zM947.5,994.5v-40h2.6v40zM951.6,994.5v-65h2.6v65zM955.7,994.5v-8h2.6v8zM959.9,994.5v-11h2.6v11zM964,994.5v-46h2.6v46zM968.1,994.5v-29h2.6v29zM972.2,994.5v-8h2.6v8zM976.4,994.5v-23h2.6v23zM980.5,994.5v-39h2.6v39zM984.6,994.5v-7h2.6v7zM988.7,994.5v-6h2.6v6zM992.9,994.5v-9h2.6v9zM997,994.5v-5h2.6v5zM1001.1,994.5v-20h2.6v20zM1005.2,994.5v-29h2.6v29zM1009.4,994.5v-29h2.6v29zM1013.5,994.5v-7h2.6v7zM1017.6,994.5v-9h2.6v9zM1021.7,994.5v-51h2.6v51zM1025.8,994.5v-68h2.6v68zM1030,994.5v-9h2.6v9zM1034.1,994.5v-7h2.6v7zM1038.2,994.5v-20h2.6v20zM1042.3,994.5v-6h2.6v6zM1050.6,994.5v-3h2.6v3zM1058.8,994.5v-4h2.6v4zM1067.1,994.5v-3h2.6v3zM1075.3,994.5v-5h2.6v5zM1083.6,994.5v-3h2.6v3zM1091.8,994.5v-4h2.6v4zM1100.1,994.5v-3h2.6v3zM1112.5,994.5v-8h2.6v8zM1116.6,994.5v-12h2.6v12zM1120.7,994.5v-7h2.6v7zM1124.8,994.5v-15h2.6v15zM1129,994.5v-34h2.6v34zM1133.1,994.5v-9h2.6v9zM1137.2,994.5v-12h2.6v12zM1141.3,994.5v-36h2.6v36zM1145.5,994.5v-8h2.6v8zM1149.6,994.5v-11h2.6v11zM1153.7,994.5v-9h2.6v9zM1157.8,994.5v-54h2.6v54zM1162,994.5v-8h2.6v8zM1166.1,994.5v-12h2.6v12zM1170.2,994.5v-19h2.6v19zM1174.3,994.5v-9h2.6v9zM1178.5,994.5v-29h2.6v29zM1182.6,994.5v-50h2.6v50zM1186.7,994.5v-8h2.6v8zM1190.8,994.5v-10h2.6v10zM1195,994.5v-22h2.6v22zM1199.1,994.5v-66h2.6v66zM1203.2,994.5v-20h2.6v20zM1207.3,994.5v-13h2.6v13zM1211.5,994.5v-31h2.6v31z" fill="#fff" fill-opacity="0.14" clip-path="url(#hc4)"/></g>
<rect x="267.2" y="992.9" width="61.9" height="2.1" fill="#fff" fill-opacity="0.74"/>
<rect x="475.6" y="992.9" width="62.3" height="2.1" fill="#fff" fill-opacity="0.74"/>
<rect x="762.2" y="992.9" width="62.7" height="2.1" fill="#fff" fill-opacity="0.74"/>
<rect x="1046.1" y="992.9" width="62.7" height="2.1" fill="#fff" fill-opacity="0.74"/>
<path d="M226,994.5L246.6,967C254.2,965.4 280.3,964.2 287.9,958C295.4,951.8 321.6,899 329.1,899C336.7,899 362.8,912.2 370.4,915.3C377.9,918.4 404.1,930.3 411.6,932.7C419.2,935.1 445.3,939.4 452.9,941.7C460.4,944 486.6,958 494.1,958C501.7,958 527.8,950 535.4,950C542.9,950 569.1,950 576.6,950C584.2,950 610.3,956.5 617.9,958C625.4,959.5 651.6,966.7 659.1,966.7C666.7,966.7 692.8,966.7 700.4,966.7C707.9,966.7 734.1,958 741.6,958C749.2,958 775.3,958 782.9,958C790.4,958 816.6,958 824.1,958C831.7,958 857.8,958 865.4,958C872.9,958 899.1,965.1 906.6,966.7C914.2,968.3 940.3,974.1 947.9,975.7C955.4,977.3 981.6,984 989.1,984C996.7,984 1022.8,977.4 1030.4,975C1037.9,972.6 1064.1,958 1071.6,958C1079.2,958 1105.3,966.7 1112.9,966.7C1120.4,966.7 1146.6,966.7 1154.1,966.7C1161.7,966.7 1187.8,971.4 1195.4,975.7C1199.2,977.8 1212.2,991.1 1216,994.5" fill="none" stroke="#6fa6c8" stroke-width="1.15" stroke-linejoin="round"/>
<path d="M226.5,995.5v5M267.8,995.5v5M309,995.5v5M350.2,995.5v5M391.5,995.5v5M432.8,995.5v5M474,995.5v5M515.2,995.5v5M556.5,995.5v5M597.8,995.5v5M639,995.5v5M680.2,995.5v5M721.5,995.5v5M762.8,995.5v5M804,995.5v5M845.2,995.5v5M886.5,995.5v5M927.8,995.5v5M969,995.5v5M1010.2,995.5v5M1051.5,995.5v5M1092.8,995.5v5M1134,995.5v5M1175.2,995.5v5M1216.5,995.5v5" stroke="#2b3f46" stroke-width="1" fill="none"/>
<g font-size="9.9" fill="#788a90" stroke="#788a90" stroke-width="0.45" text-anchor="middle">
<text x="226.2" y="1013.2" textLength="5.1" lengthAdjust="spacingAndGlyphs">0</text>
<text x="267.4" y="1013.2" textLength="8.2" lengthAdjust="spacingAndGlyphs">10</text>
<text x="308.7" y="1013.2" textLength="10.5" lengthAdjust="spacingAndGlyphs">20</text>
<text x="349.9" y="1013.2" textLength="10.5" lengthAdjust="spacingAndGlyphs">30</text>
<text x="391.2" y="1013.2" textLength="10.5" lengthAdjust="spacingAndGlyphs">40</text>
<text x="432.4" y="1013.2" textLength="10.5" lengthAdjust="spacingAndGlyphs">50</text>
<text x="473.7" y="1013.2" textLength="10.5" lengthAdjust="spacingAndGlyphs">60</text>
<text x="515" y="1013.2" textLength="10.5" lengthAdjust="spacingAndGlyphs">70</text>
<text x="556.2" y="1013.2" textLength="10.5" lengthAdjust="spacingAndGlyphs">80</text>
<text x="597.5" y="1013.2" textLength="10.5" lengthAdjust="spacingAndGlyphs">90</text>
<text x="638.7" y="1013.2" textLength="13.6" lengthAdjust="spacingAndGlyphs">100</text>
<text x="680" y="1013.2" textLength="11.2" lengthAdjust="spacingAndGlyphs">110</text>
<text x="721.2" y="1013.2" textLength="13.6" lengthAdjust="spacingAndGlyphs">120</text>
<text x="762.5" y="1013.2" textLength="13.6" lengthAdjust="spacingAndGlyphs">130</text>
<text x="803.7" y="1013.2" textLength="13.6" lengthAdjust="spacingAndGlyphs">140</text>
<text x="845" y="1013.2" textLength="13.6" lengthAdjust="spacingAndGlyphs">150</text>
<text x="886.2" y="1013.2" textLength="13.6" lengthAdjust="spacingAndGlyphs">160</text>
<text x="927.5" y="1013.2" textLength="13.6" lengthAdjust="spacingAndGlyphs">170</text>
<text x="968.7" y="1013.2" textLength="13.6" lengthAdjust="spacingAndGlyphs">180</text>
<text x="1010" y="1013.2" textLength="13.6" lengthAdjust="spacingAndGlyphs">190</text>
<text x="1051.2" y="1013.2" textLength="16" lengthAdjust="spacingAndGlyphs">200</text>
<text x="1092.5" y="1013.2" textLength="13.6" lengthAdjust="spacingAndGlyphs">210</text>
<text x="1133.7" y="1013.2" textLength="16" lengthAdjust="spacingAndGlyphs">220</text>
<text x="1175" y="1013.2" textLength="16" lengthAdjust="spacingAndGlyphs">230</text>
<text x="1216.2" y="1013.2" textLength="16" lengthAdjust="spacingAndGlyphs">240</text>
</g>
<g>
<circle cx="246.6" cy="967" r="4.9" fill="#0f1b20" fill-opacity="0.35"/>
<circle cx="246.6" cy="967" r="3.35" fill="#9dd2f5" stroke="#1f5078" stroke-width="1.3"/>
<circle cx="246.6" cy="967" r="1.1" fill="#e0f5ff" fill-opacity="0.6"/>
<circle cx="287.9" cy="958" r="4.9" fill="#0f1b20" fill-opacity="0.35"/>
<circle cx="287.9" cy="958" r="3.35" fill="#9dd2f5" stroke="#1f5078" stroke-width="1.3"/>
<circle cx="287.9" cy="958" r="1.1" fill="#e0f5ff" fill-opacity="0.6"/>
<circle cx="329.1" cy="899" r="4.9" fill="#0f1b20" fill-opacity="0.35"/>
<circle cx="329.1" cy="899" r="3.35" fill="#9dd2f5" stroke="#1f5078" stroke-width="1.3"/>
<circle cx="329.1" cy="899" r="1.1" fill="#e0f5ff" fill-opacity="0.6"/>
<circle cx="370.4" cy="915.3" r="4.9" fill="#0f1b20" fill-opacity="0.35"/>
<circle cx="370.4" cy="915.3" r="3.35" fill="#9dd2f5" stroke="#1f5078" stroke-width="1.3"/>
<circle cx="370.4" cy="915.3" r="1.1" fill="#e0f5ff" fill-opacity="0.6"/>
<circle cx="411.6" cy="932.7" r="4.9" fill="#0f1b20" fill-opacity="0.35"/>
<circle cx="411.6" cy="932.7" r="3.35" fill="#9dd2f5" stroke="#1f5078" stroke-width="1.3"/>
<circle cx="411.6" cy="932.7" r="1.1" fill="#e0f5ff" fill-opacity="0.6"/>
<circle cx="452.9" cy="941.7" r="4.9" fill="#0f1b20" fill-opacity="0.35"/>
<circle cx="452.9" cy="941.7" r="3.35" fill="#9dd2f5" stroke="#1f5078" stroke-width="1.3"/>
<circle cx="452.9" cy="941.7" r="1.1" fill="#e0f5ff" fill-opacity="0.6"/>
<circle cx="494.1" cy="958" r="4.9" fill="#0f1b20" fill-opacity="0.35"/>
<circle cx="494.1" cy="958" r="3.35" fill="#9dd2f5" stroke="#1f5078" stroke-width="1.3"/>
<circle cx="494.1" cy="958" r="1.1" fill="#e0f5ff" fill-opacity="0.6"/>
<circle cx="535.4" cy="950" r="4.9" fill="#0f1b20" fill-opacity="0.35"/>
<circle cx="535.4" cy="950" r="3.35" fill="#9dd2f5" stroke="#1f5078" stroke-width="1.3"/>
<circle cx="535.4" cy="950" r="1.1" fill="#e0f5ff" fill-opacity="0.6"/>
<circle cx="576.6" cy="950" r="4.9" fill="#0f1b20" fill-opacity="0.35"/>
<circle cx="576.6" cy="950" r="3.35" fill="#9dd2f5" stroke="#1f5078" stroke-width="1.3"/>
<circle cx="576.6" cy="950" r="1.1" fill="#e0f5ff" fill-opacity="0.6"/>
<circle cx="617.9" cy="958" r="4.9" fill="#0f1b20" fill-opacity="0.35"/>
<circle cx="617.9" cy="958" r="3.35" fill="#9dd2f5" stroke="#1f5078" stroke-width="1.3"/>
<circle cx="617.9" cy="958" r="1.1" fill="#e0f5ff" fill-opacity="0.6"/>
<circle cx="659.1" cy="966.7" r="4.9" fill="#0f1b20" fill-opacity="0.35"/>
<circle cx="659.1" cy="966.7" r="3.35" fill="#9dd2f5" stroke="#1f5078" stroke-width="1.3"/>
<circle cx="659.1" cy="966.7" r="1.1" fill="#e0f5ff" fill-opacity="0.6"/>
<circle cx="700.4" cy="966.7" r="4.9" fill="#0f1b20" fill-opacity="0.35"/>
<circle cx="700.4" cy="966.7" r="3.35" fill="#9dd2f5" stroke="#1f5078" stroke-width="1.3"/>
<circle cx="700.4" cy="966.7" r="1.1" fill="#e0f5ff" fill-opacity="0.6"/>
<circle cx="741.6" cy="958" r="4.9" fill="#0f1b20" fill-opacity="0.35"/>
<circle cx="741.6" cy="958" r="3.35" fill="#9dd2f5" stroke="#1f5078" stroke-width="1.3"/>
<circle cx="741.6" cy="958" r="1.1" fill="#e0f5ff" fill-opacity="0.6"/>
<circle cx="782.9" cy="958" r="4.9" fill="#0f1b20" fill-opacity="0.35"/>
<circle cx="782.9" cy="958" r="3.35" fill="#9dd2f5" stroke="#1f5078" stroke-width="1.3"/>
<circle cx="782.9" cy="958" r="1.1" fill="#e0f5ff" fill-opacity="0.6"/>
<circle cx="824.1" cy="958" r="4.9" fill="#0f1b20" fill-opacity="0.35"/>
<circle cx="824.1" cy="958" r="3.35" fill="#9dd2f5" stroke="#1f5078" stroke-width="1.3"/>
<circle cx="824.1" cy="958" r="1.1" fill="#e0f5ff" fill-opacity="0.6"/>
<circle cx="865.4" cy="958" r="4.9" fill="#0f1b20" fill-opacity="0.35"/>
<circle cx="865.4" cy="958" r="3.35" fill="#9dd2f5" stroke="#1f5078" stroke-width="1.3"/>
<circle cx="865.4" cy="958" r="1.1" fill="#e0f5ff" fill-opacity="0.6"/>
<circle cx="906.6" cy="966.7" r="4.9" fill="#0f1b20" fill-opacity="0.35"/>
<circle cx="906.6" cy="966.7" r="3.35" fill="#9dd2f5" stroke="#1f5078" stroke-width="1.3"/>
<circle cx="906.6" cy="966.7" r="1.1" fill="#e0f5ff" fill-opacity="0.6"/>
<circle cx="947.9" cy="975.7" r="4.9" fill="#0f1b20" fill-opacity="0.35"/>
<circle cx="947.9" cy="975.7" r="3.35" fill="#9dd2f5" stroke="#1f5078" stroke-width="1.3"/>
<circle cx="947.9" cy="975.7" r="1.1" fill="#e0f5ff" fill-opacity="0.6"/>
<circle cx="989.1" cy="984" r="4.9" fill="#0f1b20" fill-opacity="0.35"/>
<circle cx="989.1" cy="984" r="3.35" fill="#9dd2f5" stroke="#1f5078" stroke-width="1.3"/>
<circle cx="989.1" cy="984" r="1.1" fill="#e0f5ff" fill-opacity="0.6"/>
<circle cx="1030.4" cy="975" r="4.9" fill="#0f1b20" fill-opacity="0.35"/>
<circle cx="1030.4" cy="975" r="3.35" fill="#9dd2f5" stroke="#1f5078" stroke-width="1.3"/>
<circle cx="1030.4" cy="975" r="1.1" fill="#e0f5ff" fill-opacity="0.6"/>
<circle cx="1071.6" cy="958" r="4.9" fill="#0f1b20" fill-opacity="0.35"/>
<circle cx="1071.6" cy="958" r="3.35" fill="#9dd2f5" stroke="#1f5078" stroke-width="1.3"/>
<circle cx="1071.6" cy="958" r="1.1" fill="#e0f5ff" fill-opacity="0.6"/>
<circle cx="1112.9" cy="966.7" r="4.9" fill="#0f1b20" fill-opacity="0.35"/>
<circle cx="1112.9" cy="966.7" r="3.35" fill="#9dd2f5" stroke="#1f5078" stroke-width="1.3"/>
<circle cx="1112.9" cy="966.7" r="1.1" fill="#e0f5ff" fill-opacity="0.6"/>
<circle cx="1154.1" cy="966.7" r="4.9" fill="#0f1b20" fill-opacity="0.35"/>
<circle cx="1154.1" cy="966.7" r="3.35" fill="#9dd2f5" stroke="#1f5078" stroke-width="1.3"/>
<circle cx="1154.1" cy="966.7" r="1.1" fill="#e0f5ff" fill-opacity="0.6"/>
<circle cx="1195.4" cy="975.7" r="4.9" fill="#0f1b20" fill-opacity="0.35"/>
<circle cx="1195.4" cy="975.7" r="3.35" fill="#9dd2f5" stroke="#1f5078" stroke-width="1.3"/>
<circle cx="1195.4" cy="975.7" r="1.1" fill="#e0f5ff" fill-opacity="0.6"/>
</g>
<g fill="#74b9e6" text-anchor="middle" font-size="10.6" stroke="#74b9e6" stroke-width="0.38" lengthAdjust="spacingAndGlyphs">
<text x="240.6" y="956.3" text-anchor="start" textLength="6.6" lengthAdjust="spacingAndGlyphs">3</text><text x="247.7" y="956.3" text-anchor="start" font-size="9.2" stroke-width="0.3" textLength="5.5" lengthAdjust="spacingAndGlyphs">%</text>
<text x="281.9" y="947.3" text-anchor="start" textLength="6.6" lengthAdjust="spacingAndGlyphs">4</text><text x="289" y="947.3" text-anchor="start" font-size="9.2" stroke-width="0.3" textLength="5.5" lengthAdjust="spacingAndGlyphs">%</text>
<text x="321.6" y="888.3" text-anchor="start" textLength="9.6" lengthAdjust="spacingAndGlyphs">11</text><text x="331.7" y="888.3" text-anchor="start" font-size="9.2" stroke-width="0.3" textLength="5.5" lengthAdjust="spacingAndGlyphs">%</text>
<text x="364.4" y="904.6" text-anchor="start" textLength="6.6" lengthAdjust="spacingAndGlyphs">9</text><text x="371.5" y="904.6" text-anchor="start" font-size="9.2" stroke-width="0.3" textLength="5.5" lengthAdjust="spacingAndGlyphs">%</text>
<text x="405.6" y="922" text-anchor="start" textLength="6.6" lengthAdjust="spacingAndGlyphs">7</text><text x="412.7" y="922" text-anchor="start" font-size="9.2" stroke-width="0.3" textLength="5.5" lengthAdjust="spacingAndGlyphs">%</text>
<text x="446.9" y="931" text-anchor="start" textLength="6.6" lengthAdjust="spacingAndGlyphs">6</text><text x="454" y="931" text-anchor="start" font-size="9.2" stroke-width="0.3" textLength="5.5" lengthAdjust="spacingAndGlyphs">%</text>
<text x="488.1" y="947.3" text-anchor="start" textLength="6.6" lengthAdjust="spacingAndGlyphs">4</text><text x="495.2" y="947.3" text-anchor="start" font-size="9.2" stroke-width="0.3" textLength="5.5" lengthAdjust="spacingAndGlyphs">%</text>
<text x="529.4" y="939.3" text-anchor="start" textLength="6.6" lengthAdjust="spacingAndGlyphs">5</text><text x="536.5" y="939.3" text-anchor="start" font-size="9.2" stroke-width="0.3" textLength="5.5" lengthAdjust="spacingAndGlyphs">%</text>
<text x="570.6" y="939.3" text-anchor="start" textLength="6.6" lengthAdjust="spacingAndGlyphs">5</text><text x="577.7" y="939.3" text-anchor="start" font-size="9.2" stroke-width="0.3" textLength="5.5" lengthAdjust="spacingAndGlyphs">%</text>
<text x="611.9" y="947.3" text-anchor="start" textLength="6.6" lengthAdjust="spacingAndGlyphs">4</text><text x="619" y="947.3" text-anchor="start" font-size="9.2" stroke-width="0.3" textLength="5.5" lengthAdjust="spacingAndGlyphs">%</text>
<text x="653.1" y="956" text-anchor="start" textLength="6.6" lengthAdjust="spacingAndGlyphs">3</text><text x="660.2" y="956" text-anchor="start" font-size="9.2" stroke-width="0.3" textLength="5.5" lengthAdjust="spacingAndGlyphs">%</text>
<text x="694.4" y="956" text-anchor="start" textLength="6.6" lengthAdjust="spacingAndGlyphs">3</text><text x="701.5" y="956" text-anchor="start" font-size="9.2" stroke-width="0.3" textLength="5.5" lengthAdjust="spacingAndGlyphs">%</text>
<text x="735.6" y="947.3" text-anchor="start" textLength="6.6" lengthAdjust="spacingAndGlyphs">4</text><text x="742.7" y="947.3" text-anchor="start" font-size="9.2" stroke-width="0.3" textLength="5.5" lengthAdjust="spacingAndGlyphs">%</text>
<text x="776.9" y="947.3" text-anchor="start" textLength="6.6" lengthAdjust="spacingAndGlyphs">4</text><text x="784" y="947.3" text-anchor="start" font-size="9.2" stroke-width="0.3" textLength="5.5" lengthAdjust="spacingAndGlyphs">%</text>
<text x="818.1" y="947.3" text-anchor="start" textLength="6.6" lengthAdjust="spacingAndGlyphs">4</text><text x="825.2" y="947.3" text-anchor="start" font-size="9.2" stroke-width="0.3" textLength="5.5" lengthAdjust="spacingAndGlyphs">%</text>
<text x="859.4" y="947.3" text-anchor="start" textLength="6.6" lengthAdjust="spacingAndGlyphs">4</text><text x="866.5" y="947.3" text-anchor="start" font-size="9.2" stroke-width="0.3" textLength="5.5" lengthAdjust="spacingAndGlyphs">%</text>
<text x="900.6" y="956" text-anchor="start" textLength="6.6" lengthAdjust="spacingAndGlyphs">3</text><text x="907.7" y="956" text-anchor="start" font-size="9.2" stroke-width="0.3" textLength="5.5" lengthAdjust="spacingAndGlyphs">%</text>
<text x="941.9" y="965" text-anchor="start" textLength="6.6" lengthAdjust="spacingAndGlyphs">2</text><text x="949" y="965" text-anchor="start" font-size="9.2" stroke-width="0.3" textLength="5.5" lengthAdjust="spacingAndGlyphs">%</text>
<text x="983.1" y="973.3" text-anchor="start" textLength="6.6" lengthAdjust="spacingAndGlyphs">1</text><text x="990.2" y="973.3" text-anchor="start" font-size="9.2" stroke-width="0.3" textLength="5.5" lengthAdjust="spacingAndGlyphs">%</text>
<text x="1024.4" y="964.3" text-anchor="start" textLength="6.6" lengthAdjust="spacingAndGlyphs">2</text><text x="1031.5" y="964.3" text-anchor="start" font-size="9.2" stroke-width="0.3" textLength="5.5" lengthAdjust="spacingAndGlyphs">%</text>
<text x="1065.6" y="947.3" text-anchor="start" textLength="6.6" lengthAdjust="spacingAndGlyphs">4</text><text x="1072.7" y="947.3" text-anchor="start" font-size="9.2" stroke-width="0.3" textLength="5.5" lengthAdjust="spacingAndGlyphs">%</text>
<text x="1106.9" y="956" text-anchor="start" textLength="6.6" lengthAdjust="spacingAndGlyphs">3</text><text x="1114" y="956" text-anchor="start" font-size="9.2" stroke-width="0.3" textLength="5.5" lengthAdjust="spacingAndGlyphs">%</text>
<text x="1148.1" y="956" text-anchor="start" textLength="6.6" lengthAdjust="spacingAndGlyphs">3</text><text x="1155.2" y="956" text-anchor="start" font-size="9.2" stroke-width="0.3" textLength="5.5" lengthAdjust="spacingAndGlyphs">%</text>
<text x="1189.4" y="965" text-anchor="start" textLength="6.6" lengthAdjust="spacingAndGlyphs">2</text><text x="1196.5" y="965" text-anchor="start" font-size="9.2" stroke-width="0.3" textLength="5.5" lengthAdjust="spacingAndGlyphs">%</text>
</g>
<text x="205.5" y="848.7" font-size="12.6" fill="#5f93b6" stroke="#5f93b6" stroke-width="0.15" letter-spacing="0.55" textLength="148" lengthAdjust="spacingAndGlyphs">G-EAZY FT. BEBE REXHA</text>
<text x="206.2" y="865.2" font-size="18.0" font-weight="bold" fill="#48abea" stroke="#48abea" stroke-width="1.85" stroke-linejoin="miter" textLength="147" lengthAdjust="spacingAndGlyphs">ME, MYSELF &amp; I</text>
<rect x="204.3" y="892" width="106.7" height="30.7" fill="#000" fill-opacity="0.35" filter="url(#sh)"/>
<path d="M205.3,890H308q2,0 2,2V918.7q0,2 -2,2H264.7l-8,7.2l-8,-7.2H205.3q-2,0 -2,-2V892q0,-2 2,-2z" fill="#1d2e35"/>
<text font-size="9.7" fill="#f4f7f7" text-anchor="middle" stroke="#f4f7f7" stroke-width="0.3"><tspan x="256.6" y="902.9">Early spikes like this</tspan><tspan x="256.6" y="913.6">are typical of hip hop</tspan></text>
<rect x="702" y="867.7" width="153.3" height="31" fill="#000" fill-opacity="0.35" filter="url(#sh)"/>
<path d="M703,865.7H852.3q2,0 2,2V894.7q0,2 -2,2H722.8l-8,7.2l-8,-7.2H703q-2,0 -2,-2V867.7q0,-2 2,-2z" fill="#1d2e35"/>
<text font-size="9.7" fill="#f4f7f7" text-anchor="middle" stroke="#f4f7f7" stroke-width="0.3"><tspan x="775.1" y="878.6">Youngest skewing track, with</tspan><tspan x="775.1" y="889.3">61 per cent from under 24s</tspan></text>
<rect x="1035.3" y="889.7" width="123.4" height="30.6" fill="#000" fill-opacity="0.35" filter="url(#sh)"/>
<path d="M1036.3,887.7H1155.7q2,0 2,2V916.3q0,2 -2,2H1103l-8,7.2l-8,-7.2H1036.3q-2,0 -2,-2V889.7q0,-2 2,-2z" fill="#1d2e35"/>
<text font-size="9.7" fill="#f4f7f7" text-anchor="middle" stroke="#f4f7f7" stroke-width="0.3"><tspan x="1096" y="900.6">Late spike from a final</tspan><tspan x="1096" y="911.3">repetition of the chorus</tspan></text>
<circle cx="1356.6" cy="892.2" r="61.7" fill="url(#cg4)" stroke="#386a82" stroke-width="1.2"/>
<circle cx="1306.4" cy="892.2" r="9.4" fill="#3f7a96" fill-opacity="0.1" stroke="#3f7a96" stroke-width="1.1"/>
<circle cx="1306.4" cy="892.2" r="5.2" fill="none" stroke="#3f7a96" stroke-opacity="0.35" stroke-width="0.8"/>
<circle cx="1306.4" cy="892.2" r="1.0" fill="#4f8aa8"/>
<circle cx="1356.6" cy="892.2" r="1.0" fill="#4f8aa8"/>
<circle cx="1412.2" cy="892.2" r="1.0" fill="#4f8aa8"/>
<clipPath id="av4"><circle cx="1245" cy="892.2" r="19.6"/></clipPath>
<circle cx="1245" cy="892.2" r="21.5" fill="#15252b" fill-opacity="0.8"/>
<g clip-path="url(#av4)"><g filter="url(#bl)" transform="translate(1245,892.2)"><rect x="-22" y="-22" width="44" height="44" fill="#c9d3df"/><g transform="translate(-1,1.5)"><ellipse cx="0" cy="-1.5" rx="12.0" ry="16.0" fill="#0b4f7e"/><path d="M-8,26C-8,16 -7,12 -6,9L6,9C7,13 8,17 8,26z" fill="#1f86c0"/><ellipse cx="0" cy="3" rx="10.8" ry="13.7" fill="#1f86c0"/><ellipse cx="1" cy="4" rx="5.940000000000001" ry="8.525" fill="#4fb8e8" fill-opacity="0.5"/><path d="M-7,-2.4q2.4,-1.5 4.8,0M2.2,-2.4q2.4,-1.5 4.8,0" stroke="#0a4a76" stroke-width="1.7" fill="none"/><path d="M0,-0.5l-1.3,5l2.8,0.3" stroke="#0a4a76" stroke-width="0.9" stroke-opacity="0.6" fill="none"/><path d="M-3.6,8.4q3.6,1.4 7.2,0" stroke="#0a4a76" stroke-width="1.4" fill="none"/><path d="M4,-10C8,-10 9,-4 8.5,2C7,8 5,10 4.5,12C6,4 3,-4 4,-10z" fill="#dfeaf5" fill-opacity="0.85"/></g></g></g>
<circle cx="1245" cy="892.2" r="19.8" fill="none" stroke="#8aa8c0" stroke-width="1"/>
<g font-size="9.4" text-anchor="middle" fill="#4fa8e0" stroke="#4fa8e0" stroke-width="0.2">
<text x="1245.3" y="938.5">Released</text>
<text x="1306" y="927.3">Shazam</text><text x="1306" y="938.5" textLength="29.5" lengthAdjust="spacingAndGlyphs">Q1 2016</text>
<text x="1356.5" y="927.3">Spotify</text><text x="1356.5" y="938.5" textLength="29.5" lengthAdjust="spacingAndGlyphs">Q1 2016</text>
<text x="1412" y="927.3">Total</text><text x="1412" y="938.5">UK sales</text>
</g>
<g font-size="10.8" text-anchor="middle" fill="#fff" stroke="#fff" stroke-width="0.25">
<text x="1245.3" y="950" textLength="58" lengthAdjust="spacingAndGlyphs">Oct 29, 2015</text>
<text x="1306" y="950">3.7m</text>
<text x="1356.5" y="950">202m</text>
<text x="1412" y="950">65k</text>
</g>
</g>
</svg>
</body></html>
